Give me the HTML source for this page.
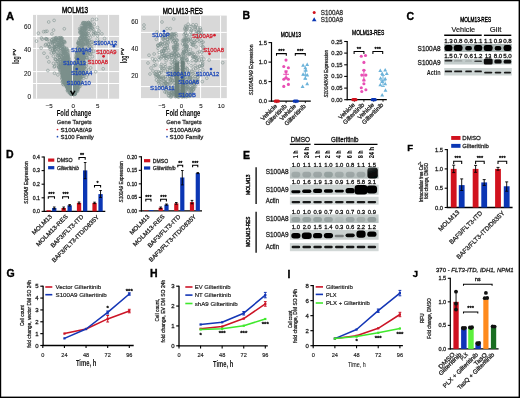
<!DOCTYPE html>
<html><head><meta charset="utf-8"><style>
html,body{margin:0;padding:0;background:#fff;}
body{width:520px;height:398px;overflow:hidden;}
svg{display:block;font-family:"Liberation Sans",sans-serif;will-change:transform;}
</style></head><body>
<svg width="520" height="398" viewBox="0 0 520 398">
<rect width="520" height="398" fill="#fff"/>
<rect x="0.00" y="0.00" width="520.00" height="1.20" fill="#000" />
<rect x="0.00" y="0.00" width="1.20" height="398.00" fill="#000" />
<rect x="518.60" y="0.00" width="1.40" height="398.00" fill="#000" />
<rect x="0.00" y="396.60" width="520.00" height="1.40" fill="#000" />
<text x="6.00" y="19.70" stroke="#000" stroke-width="0.35" font-size="11.20" font-weight="bold" >A</text>
<text x="242.40" y="19.40" stroke="#000" stroke-width="0.35" font-size="10.50" font-weight="bold" >B</text>
<text x="406.60" y="20.10" stroke="#000" stroke-width="0.35" font-size="10.50" font-weight="bold" >C</text>
<text x="6.10" y="158.20" stroke="#000" stroke-width="0.35" font-size="10.50" font-weight="bold" >D</text>
<text x="243.00" y="158.60" stroke="#000" stroke-width="0.35" font-size="10.50" font-weight="bold" >E</text>
<text x="407.20" y="151.30" stroke="#000" stroke-width="0.35" font-size="9.50" font-weight="bold" >F</text>
<text x="6.50" y="277.40" stroke="#000" stroke-width="0.35" font-size="10.50" font-weight="bold" >G</text>
<text x="150.00" y="276.70" stroke="#000" stroke-width="0.35" font-size="10.50" font-weight="bold" >H</text>
<text x="287.60" y="277.50" stroke="#000" stroke-width="0.35" font-size="10.50" font-weight="bold" >I</text>
<text x="412.80" y="277.30" stroke="#000" stroke-width="0.35" font-size="9.50" font-weight="bold" >J</text>
<rect x="33.00" y="14.90" width="86.10" height="83.80" fill="#d8d8d8" />
<line x1="36.60" y1="14.90" x2="36.60" y2="98.70" stroke="#fff" stroke-width="1.00" />
<line x1="72.70" y1="14.90" x2="72.70" y2="98.70" stroke="#fff" stroke-width="1.00" />
<line x1="96.70" y1="14.90" x2="96.70" y2="98.70" stroke="#fff" stroke-width="1.00" />
<line x1="108.60" y1="14.90" x2="108.60" y2="98.70" stroke="#fff" stroke-width="1.00" />
<line x1="33.00" y1="36.40" x2="119.10" y2="36.40" stroke="#fff" stroke-width="1.00" />
<line x1="33.00" y1="48.40" x2="119.10" y2="48.40" stroke="#fff" stroke-width="1.00" />
<line x1="33.00" y1="71.60" x2="119.10" y2="71.60" stroke="#fff" stroke-width="1.00" />
<line x1="33.00" y1="83.50" x2="119.10" y2="83.50" stroke="#fff" stroke-width="1.00" />
<path d="M72.4,95 L68.5,92 L64.0,85 L61.5,77 L60.5,68 L61.5,60 L64,56 L68.5,57 L71.2,62 L72.3,76 Z" fill="#6c807c" fill-opacity="0.8"/>
<path d="M73.2,95 L76.4,91.5 L79.5,86 L82.0,78 L84.0,68 L85.5,58 L84,52 L80,50 L76.5,53 L74.5,62 L73.3,76 Z" fill="#6c807c" fill-opacity="0.8"/>
<g fill="none" stroke="#7a8f8c" stroke-width="0.55" stroke-opacity="1.00"><circle cx="71.7" cy="89.4" r="1.40"/><circle cx="75.3" cy="78.4" r="1.40"/><circle cx="65.0" cy="70.7" r="1.40"/><circle cx="63.0" cy="49.8" r="1.40"/><circle cx="84.6" cy="27.9" r="1.40"/><circle cx="75.4" cy="76.3" r="1.40"/><circle cx="73.9" cy="83.1" r="1.40"/><circle cx="71.0" cy="90.8" r="1.40"/><circle cx="59.0" cy="66.1" r="1.40"/><circle cx="75.4" cy="77.9" r="1.40"/><circle cx="76.7" cy="74.2" r="1.40"/><circle cx="66.7" cy="82.4" r="1.40"/><circle cx="77.0" cy="52.2" r="1.40"/><circle cx="89.4" cy="35.4" r="1.40"/><circle cx="75.4" cy="83.2" r="1.40"/><circle cx="68.1" cy="54.6" r="1.40"/><circle cx="62.7" cy="71.8" r="1.40"/><circle cx="77.5" cy="63.1" r="1.40"/><circle cx="75.5" cy="81.6" r="1.40"/><circle cx="81.1" cy="72.1" r="1.40"/><circle cx="91.8" cy="28.2" r="1.40"/><circle cx="67.7" cy="58.3" r="1.40"/><circle cx="85.2" cy="23.0" r="1.40"/><circle cx="64.5" cy="60.5" r="1.40"/><circle cx="70.2" cy="73.4" r="1.40"/><circle cx="64.8" cy="53.8" r="1.40"/><circle cx="66.0" cy="85.0" r="1.40"/><circle cx="64.3" cy="74.2" r="1.40"/><circle cx="85.9" cy="34.5" r="1.40"/><circle cx="62.0" cy="76.1" r="1.40"/><circle cx="60.9" cy="45.7" r="1.40"/><circle cx="71.5" cy="85.8" r="1.40"/><circle cx="67.5" cy="72.1" r="1.40"/><circle cx="69.5" cy="75.9" r="1.40"/><circle cx="61.1" cy="67.1" r="1.40"/><circle cx="78.7" cy="59.4" r="1.40"/><circle cx="74.5" cy="93.4" r="1.40"/><circle cx="86.0" cy="43.0" r="1.40"/><circle cx="65.9" cy="77.0" r="1.40"/><circle cx="71.2" cy="92.6" r="1.40"/><circle cx="71.6" cy="89.4" r="1.40"/><circle cx="62.0" cy="79.0" r="1.40"/><circle cx="74.0" cy="90.2" r="1.40"/><circle cx="70.3" cy="79.9" r="1.40"/><circle cx="85.4" cy="23.0" r="1.40"/><circle cx="76.5" cy="70.1" r="1.40"/><circle cx="71.1" cy="84.2" r="1.40"/><circle cx="78.0" cy="89.6" r="1.40"/><circle cx="74.1" cy="90.3" r="1.40"/><circle cx="75.2" cy="94.0" r="1.40"/><circle cx="80.2" cy="52.5" r="1.40"/><circle cx="67.6" cy="78.8" r="1.40"/><circle cx="89.4" cy="44.8" r="1.40"/><circle cx="68.3" cy="86.2" r="1.40"/><circle cx="99.1" cy="42.2" r="1.40"/><circle cx="78.6" cy="48.5" r="1.40"/><circle cx="71.3" cy="93.7" r="1.40"/><circle cx="71.6" cy="83.4" r="1.40"/><circle cx="82.4" cy="72.8" r="1.40"/><circle cx="88.8" cy="23.6" r="1.40"/><circle cx="71.2" cy="86.0" r="1.40"/><circle cx="67.3" cy="87.1" r="1.40"/><circle cx="83.0" cy="70.4" r="1.40"/><circle cx="87.9" cy="42.8" r="1.40"/><circle cx="83.6" cy="44.5" r="1.40"/><circle cx="78.6" cy="70.5" r="1.40"/><circle cx="54.2" cy="51.6" r="1.40"/><circle cx="83.3" cy="76.4" r="1.40"/><circle cx="76.2" cy="89.3" r="1.40"/><circle cx="68.7" cy="89.4" r="1.40"/><circle cx="58.5" cy="49.8" r="1.40"/><circle cx="81.5" cy="55.9" r="1.40"/><circle cx="71.6" cy="94.1" r="1.40"/><circle cx="92.4" cy="56.6" r="1.40"/><circle cx="62.8" cy="46.6" r="1.40"/><circle cx="73.6" cy="87.3" r="1.40"/><circle cx="65.1" cy="65.8" r="1.40"/><circle cx="63.6" cy="75.9" r="1.40"/><circle cx="62.3" cy="73.6" r="1.40"/><circle cx="95.1" cy="32.4" r="1.40"/><circle cx="81.4" cy="66.4" r="1.40"/><circle cx="73.7" cy="94.1" r="1.40"/><circle cx="65.9" cy="51.7" r="1.40"/><circle cx="70.4" cy="72.7" r="1.40"/><circle cx="63.4" cy="70.0" r="1.40"/><circle cx="85.7" cy="44.3" r="1.40"/><circle cx="68.7" cy="83.6" r="1.40"/><circle cx="83.9" cy="68.3" r="1.40"/><circle cx="77.5" cy="73.1" r="1.40"/><circle cx="83.7" cy="68.4" r="1.40"/><circle cx="70.6" cy="69.1" r="1.40"/><circle cx="85.5" cy="28.5" r="1.40"/><circle cx="79.7" cy="84.8" r="1.40"/><circle cx="82.9" cy="28.3" r="1.40"/><circle cx="69.1" cy="74.6" r="1.40"/><circle cx="67.1" cy="85.4" r="1.40"/><circle cx="84.7" cy="33.1" r="1.40"/><circle cx="67.0" cy="57.4" r="1.40"/><circle cx="85.1" cy="25.8" r="1.40"/><circle cx="55.2" cy="40.8" r="1.40"/><circle cx="83.9" cy="39.6" r="1.40"/><circle cx="66.7" cy="75.2" r="1.40"/><circle cx="71.5" cy="81.4" r="1.40"/><circle cx="74.0" cy="94.1" r="1.40"/><circle cx="70.2" cy="80.7" r="1.40"/><circle cx="90.7" cy="67.9" r="1.40"/><circle cx="90.0" cy="25.3" r="1.40"/><circle cx="65.3" cy="84.1" r="1.40"/><circle cx="71.4" cy="90.3" r="1.40"/><circle cx="62.2" cy="43.8" r="1.40"/><circle cx="58.4" cy="43.2" r="1.40"/><circle cx="78.8" cy="52.1" r="1.40"/><circle cx="75.0" cy="74.3" r="1.40"/><circle cx="53.1" cy="41.8" r="1.40"/><circle cx="54.6" cy="47.7" r="1.40"/><circle cx="58.6" cy="47.3" r="1.40"/><circle cx="82.0" cy="30.1" r="1.40"/><circle cx="70.8" cy="90.3" r="1.40"/><circle cx="71.1" cy="87.2" r="1.40"/><circle cx="76.4" cy="83.1" r="1.40"/><circle cx="73.7" cy="88.9" r="1.40"/><circle cx="77.6" cy="64.8" r="1.40"/><circle cx="74.7" cy="91.8" r="1.40"/><circle cx="83.9" cy="73.8" r="1.40"/><circle cx="71.2" cy="70.7" r="1.40"/><circle cx="89.6" cy="24.2" r="1.40"/><circle cx="87.0" cy="57.8" r="1.40"/><circle cx="69.5" cy="79.9" r="1.40"/><circle cx="67.5" cy="55.7" r="1.40"/><circle cx="68.0" cy="88.9" r="1.40"/><circle cx="83.3" cy="54.8" r="1.40"/><circle cx="70.9" cy="85.3" r="1.40"/><circle cx="65.6" cy="74.4" r="1.40"/><circle cx="51.8" cy="40.1" r="1.40"/><circle cx="61.8" cy="39.8" r="1.40"/><circle cx="67.1" cy="79.4" r="1.40"/><circle cx="74.4" cy="68.6" r="1.40"/><circle cx="66.6" cy="70.9" r="1.40"/><circle cx="71.6" cy="77.0" r="1.40"/><circle cx="78.9" cy="66.6" r="1.40"/><circle cx="79.2" cy="55.9" r="1.40"/><circle cx="62.8" cy="81.0" r="1.40"/><circle cx="73.9" cy="90.1" r="1.40"/><circle cx="54.7" cy="49.2" r="1.40"/><circle cx="77.0" cy="58.5" r="1.40"/><circle cx="59.7" cy="69.7" r="1.40"/><circle cx="83.5" cy="39.4" r="1.40"/><circle cx="93.3" cy="33.6" r="1.40"/><circle cx="76.8" cy="52.7" r="1.40"/><circle cx="70.6" cy="79.2" r="1.40"/><circle cx="55.6" cy="49.2" r="1.40"/><circle cx="80.1" cy="53.9" r="1.40"/><circle cx="73.6" cy="94.3" r="1.40"/><circle cx="84.7" cy="66.1" r="1.40"/><circle cx="73.4" cy="93.1" r="1.40"/><circle cx="69.0" cy="84.1" r="1.40"/><circle cx="74.0" cy="87.6" r="1.40"/><circle cx="86.3" cy="77.3" r="1.40"/><circle cx="77.5" cy="53.6" r="1.40"/><circle cx="74.8" cy="92.7" r="1.40"/><circle cx="73.8" cy="94.2" r="1.40"/><circle cx="69.1" cy="84.0" r="1.40"/><circle cx="78.4" cy="83.0" r="1.40"/><circle cx="76.9" cy="71.5" r="1.40"/><circle cx="73.8" cy="87.9" r="1.40"/><circle cx="88.9" cy="29.1" r="1.40"/><circle cx="82.6" cy="25.7" r="1.40"/><circle cx="69.6" cy="84.0" r="1.40"/><circle cx="54.8" cy="66.1" r="1.40"/><circle cx="68.1" cy="69.7" r="1.40"/><circle cx="75.4" cy="68.2" r="1.40"/><circle cx="78.6" cy="51.8" r="1.40"/><circle cx="74.7" cy="94.0" r="1.40"/><circle cx="66.6" cy="71.6" r="1.40"/><circle cx="70.7" cy="80.1" r="1.40"/><circle cx="52.3" cy="48.8" r="1.40"/><circle cx="73.4" cy="91.3" r="1.40"/><circle cx="81.9" cy="51.0" r="1.40"/><circle cx="69.3" cy="77.4" r="1.40"/><circle cx="79.9" cy="61.7" r="1.40"/><circle cx="71.5" cy="93.2" r="1.40"/><circle cx="62.6" cy="49.2" r="1.40"/><circle cx="62.9" cy="84.1" r="1.40"/><circle cx="77.4" cy="88.3" r="1.40"/><circle cx="92.2" cy="41.6" r="1.40"/><circle cx="89.0" cy="31.4" r="1.40"/><circle cx="73.7" cy="93.5" r="1.40"/><circle cx="74.2" cy="72.5" r="1.40"/><circle cx="70.8" cy="93.2" r="1.40"/><circle cx="74.8" cy="91.0" r="1.40"/><circle cx="67.7" cy="55.8" r="1.40"/><circle cx="75.1" cy="84.7" r="1.40"/><circle cx="77.3" cy="76.5" r="1.40"/><circle cx="70.8" cy="89.0" r="1.40"/><circle cx="79.0" cy="86.9" r="1.40"/><circle cx="86.4" cy="22.7" r="1.40"/><circle cx="85.4" cy="34.1" r="1.40"/><circle cx="79.2" cy="75.2" r="1.40"/><circle cx="69.0" cy="80.4" r="1.40"/><circle cx="69.9" cy="83.5" r="1.40"/><circle cx="76.5" cy="58.3" r="1.40"/><circle cx="73.8" cy="87.1" r="1.40"/><circle cx="67.4" cy="74.4" r="1.40"/><circle cx="79.9" cy="38.0" r="1.40"/><circle cx="68.3" cy="57.8" r="1.40"/><circle cx="74.3" cy="70.9" r="1.40"/><circle cx="64.8" cy="42.7" r="1.40"/><circle cx="84.7" cy="37.3" r="1.40"/><circle cx="87.3" cy="53.7" r="1.40"/><circle cx="82.0" cy="46.1" r="1.40"/><circle cx="59.9" cy="68.0" r="1.40"/><circle cx="61.0" cy="43.2" r="1.40"/><circle cx="75.7" cy="82.2" r="1.40"/><circle cx="80.7" cy="52.3" r="1.40"/><circle cx="70.6" cy="92.5" r="1.40"/><circle cx="71.4" cy="86.2" r="1.40"/><circle cx="73.5" cy="94.2" r="1.40"/><circle cx="83.5" cy="57.0" r="1.40"/><circle cx="74.6" cy="70.7" r="1.40"/><circle cx="82.3" cy="51.7" r="1.40"/><circle cx="71.1" cy="93.9" r="1.40"/><circle cx="80.3" cy="30.2" r="1.40"/><circle cx="70.3" cy="75.8" r="1.40"/><circle cx="74.6" cy="88.0" r="1.40"/><circle cx="77.3" cy="87.6" r="1.40"/><circle cx="74.9" cy="81.8" r="1.40"/><circle cx="63.2" cy="54.4" r="1.40"/><circle cx="58.0" cy="40.8" r="1.40"/><circle cx="71.6" cy="76.0" r="1.40"/><circle cx="85.5" cy="27.8" r="1.40"/><circle cx="55.9" cy="39.2" r="1.40"/><circle cx="71.3" cy="93.1" r="1.40"/><circle cx="82.2" cy="34.5" r="1.40"/><circle cx="88.4" cy="22.6" r="1.40"/><circle cx="61.1" cy="42.0" r="1.40"/><circle cx="73.7" cy="93.9" r="1.40"/><circle cx="68.0" cy="80.7" r="1.40"/><circle cx="74.7" cy="91.2" r="1.40"/><circle cx="76.3" cy="87.5" r="1.40"/><circle cx="81.7" cy="73.8" r="1.40"/><circle cx="62.2" cy="72.7" r="1.40"/><circle cx="63.9" cy="79.0" r="1.40"/><circle cx="74.4" cy="93.9" r="1.40"/><circle cx="74.1" cy="93.7" r="1.40"/><circle cx="71.5" cy="92.7" r="1.40"/><circle cx="82.5" cy="33.0" r="1.40"/><circle cx="66.6" cy="83.8" r="1.40"/><circle cx="66.4" cy="57.3" r="1.40"/><circle cx="65.1" cy="83.6" r="1.40"/><circle cx="76.1" cy="58.0" r="1.40"/><circle cx="73.4" cy="94.0" r="1.40"/><circle cx="89.5" cy="27.2" r="1.40"/><circle cx="68.0" cy="84.8" r="1.40"/><circle cx="74.6" cy="88.7" r="1.40"/><circle cx="83.0" cy="48.6" r="1.40"/><circle cx="79.8" cy="80.8" r="1.40"/><circle cx="71.4" cy="79.1" r="1.40"/><circle cx="65.5" cy="54.9" r="1.40"/><circle cx="70.8" cy="92.7" r="1.40"/><circle cx="60.9" cy="38.8" r="1.40"/><circle cx="82.8" cy="23.6" r="1.40"/><circle cx="68.9" cy="71.2" r="1.40"/><circle cx="74.7" cy="72.8" r="1.40"/><circle cx="83.8" cy="54.5" r="1.40"/><circle cx="80.8" cy="38.2" r="1.40"/><circle cx="75.3" cy="82.8" r="1.40"/><circle cx="74.1" cy="77.9" r="1.40"/><circle cx="69.5" cy="85.1" r="1.40"/><circle cx="58.8" cy="45.7" r="1.40"/><circle cx="59.1" cy="37.9" r="1.40"/><circle cx="75.0" cy="86.3" r="1.40"/><circle cx="75.1" cy="91.9" r="1.40"/><circle cx="87.7" cy="40.9" r="1.40"/><circle cx="64.0" cy="82.7" r="1.40"/><circle cx="68.3" cy="87.7" r="1.40"/><circle cx="74.9" cy="77.9" r="1.40"/><circle cx="74.7" cy="72.6" r="1.40"/><circle cx="75.6" cy="91.8" r="1.40"/><circle cx="77.0" cy="59.2" r="1.40"/><circle cx="69.2" cy="87.1" r="1.40"/><circle cx="68.0" cy="65.0" r="1.40"/><circle cx="69.4" cy="81.0" r="1.40"/><circle cx="74.1" cy="88.6" r="1.40"/><circle cx="78.8" cy="65.1" r="1.40"/><circle cx="70.6" cy="91.4" r="1.40"/><circle cx="74.2" cy="92.3" r="1.40"/><circle cx="64.3" cy="58.8" r="1.40"/><circle cx="60.0" cy="40.7" r="1.40"/><circle cx="66.7" cy="67.1" r="1.40"/><circle cx="88.4" cy="22.7" r="1.40"/><circle cx="59.3" cy="44.5" r="1.40"/><circle cx="52.5" cy="50.2" r="1.40"/><circle cx="75.6" cy="89.6" r="1.40"/><circle cx="61.9" cy="68.0" r="1.40"/><circle cx="58.3" cy="63.5" r="1.40"/><circle cx="68.4" cy="70.9" r="1.40"/><circle cx="85.1" cy="30.2" r="1.40"/><circle cx="66.1" cy="71.7" r="1.40"/><circle cx="67.3" cy="90.4" r="1.40"/><circle cx="84.4" cy="24.9" r="1.40"/><circle cx="74.1" cy="76.9" r="1.40"/><circle cx="77.5" cy="59.1" r="1.40"/><circle cx="75.0" cy="86.8" r="1.40"/><circle cx="64.2" cy="48.4" r="1.40"/><circle cx="68.8" cy="77.0" r="1.40"/><circle cx="76.4" cy="77.2" r="1.40"/><circle cx="83.7" cy="33.1" r="1.40"/><circle cx="71.0" cy="67.3" r="1.40"/><circle cx="73.8" cy="91.4" r="1.40"/><circle cx="78.7" cy="64.9" r="1.40"/><circle cx="66.7" cy="66.1" r="1.40"/><circle cx="62.6" cy="61.2" r="1.40"/><circle cx="68.0" cy="63.8" r="1.40"/><circle cx="74.0" cy="86.1" r="1.40"/><circle cx="67.4" cy="88.2" r="1.40"/><circle cx="74.3" cy="91.8" r="1.40"/><circle cx="67.3" cy="74.6" r="1.40"/><circle cx="73.5" cy="93.7" r="1.40"/><circle cx="80.2" cy="44.9" r="1.40"/><circle cx="74.2" cy="93.4" r="1.40"/><circle cx="73.5" cy="90.7" r="1.40"/><circle cx="84.3" cy="22.7" r="1.40"/><circle cx="45.8" cy="38.7" r="1.40"/><circle cx="85.1" cy="26.9" r="1.40"/><circle cx="82.5" cy="29.7" r="1.40"/><circle cx="75.6" cy="83.9" r="1.40"/><circle cx="77.1" cy="90.4" r="1.40"/><circle cx="76.1" cy="81.3" r="1.40"/><circle cx="63.3" cy="42.0" r="1.40"/><circle cx="86.2" cy="33.3" r="1.40"/><circle cx="61.4" cy="69.3" r="1.40"/><circle cx="77.7" cy="78.8" r="1.40"/><circle cx="86.5" cy="34.6" r="1.40"/><circle cx="56.6" cy="37.8" r="1.40"/><circle cx="76.0" cy="84.5" r="1.40"/><circle cx="82.4" cy="62.7" r="1.40"/><circle cx="68.6" cy="88.3" r="1.40"/><circle cx="73.6" cy="93.5" r="1.40"/><circle cx="87.2" cy="24.0" r="1.40"/><circle cx="76.4" cy="55.4" r="1.40"/><circle cx="85.1" cy="73.8" r="1.40"/><circle cx="71.5" cy="86.0" r="1.40"/><circle cx="73.9" cy="94.1" r="1.40"/><circle cx="66.9" cy="66.0" r="1.40"/><circle cx="76.2" cy="70.7" r="1.40"/><circle cx="64.5" cy="42.0" r="1.40"/><circle cx="66.2" cy="62.5" r="1.40"/><circle cx="82.8" cy="44.5" r="1.40"/><circle cx="67.0" cy="62.1" r="1.40"/><circle cx="76.6" cy="79.4" r="1.40"/><circle cx="83.6" cy="49.1" r="1.40"/><circle cx="54.4" cy="44.3" r="1.40"/><circle cx="70.8" cy="85.5" r="1.40"/><circle cx="57.6" cy="53.1" r="1.40"/><circle cx="73.6" cy="90.4" r="1.40"/><circle cx="60.5" cy="64.4" r="1.40"/><circle cx="73.6" cy="89.0" r="1.40"/><circle cx="63.3" cy="82.4" r="1.40"/><circle cx="81.6" cy="50.7" r="1.40"/><circle cx="66.7" cy="48.5" r="1.40"/><circle cx="80.3" cy="72.4" r="1.40"/><circle cx="66.5" cy="55.1" r="1.40"/><circle cx="80.2" cy="38.3" r="1.40"/><circle cx="78.1" cy="73.6" r="1.40"/><circle cx="75.4" cy="67.0" r="1.40"/><circle cx="77.2" cy="87.0" r="1.40"/><circle cx="73.3" cy="94.2" r="1.40"/><circle cx="86.3" cy="28.2" r="1.40"/><circle cx="76.3" cy="80.8" r="1.40"/><circle cx="59.7" cy="44.1" r="1.40"/><circle cx="87.0" cy="52.8" r="1.40"/><circle cx="97.4" cy="38.9" r="1.40"/><circle cx="90.5" cy="37.1" r="1.40"/><circle cx="76.0" cy="82.0" r="1.40"/><circle cx="56.5" cy="63.5" r="1.40"/><circle cx="71.5" cy="93.8" r="1.40"/><circle cx="61.9" cy="42.5" r="1.40"/><circle cx="79.6" cy="58.0" r="1.40"/><circle cx="60.1" cy="65.6" r="1.40"/><circle cx="59.8" cy="50.4" r="1.40"/><circle cx="49.0" cy="46.9" r="1.40"/><circle cx="84.7" cy="28.2" r="1.40"/><circle cx="87.9" cy="41.6" r="1.40"/><circle cx="78.5" cy="83.2" r="1.40"/><circle cx="68.0" cy="75.6" r="1.40"/><circle cx="70.8" cy="84.6" r="1.40"/><circle cx="64.9" cy="81.3" r="1.40"/><circle cx="79.4" cy="68.6" r="1.40"/><circle cx="65.7" cy="76.2" r="1.40"/><circle cx="60.9" cy="53.5" r="1.40"/><circle cx="76.8" cy="87.0" r="1.40"/><circle cx="73.7" cy="92.3" r="1.40"/><circle cx="70.4" cy="87.2" r="1.40"/><circle cx="90.3" cy="24.7" r="1.40"/><circle cx="78.3" cy="43.1" r="1.40"/><circle cx="64.8" cy="71.5" r="1.40"/><circle cx="49.4" cy="41.4" r="1.40"/><circle cx="70.9" cy="86.6" r="1.40"/><circle cx="62.2" cy="62.6" r="1.40"/><circle cx="63.3" cy="52.5" r="1.40"/><circle cx="80.9" cy="79.0" r="1.40"/><circle cx="70.1" cy="77.3" r="1.40"/><circle cx="73.5" cy="94.0" r="1.40"/><circle cx="68.2" cy="84.2" r="1.40"/><circle cx="59.7" cy="45.7" r="1.40"/><circle cx="62.0" cy="73.5" r="1.40"/><circle cx="78.3" cy="56.9" r="1.40"/><circle cx="67.0" cy="81.0" r="1.40"/><circle cx="89.4" cy="48.3" r="1.40"/><circle cx="70.6" cy="74.8" r="1.40"/><circle cx="64.0" cy="73.4" r="1.40"/><circle cx="74.5" cy="85.9" r="1.40"/><circle cx="84.9" cy="38.5" r="1.40"/><circle cx="75.1" cy="89.7" r="1.40"/><circle cx="67.5" cy="87.8" r="1.40"/><circle cx="61.5" cy="40.1" r="1.40"/><circle cx="62.8" cy="77.9" r="1.40"/><circle cx="75.0" cy="73.6" r="1.40"/><circle cx="66.5" cy="62.5" r="1.40"/><circle cx="64.6" cy="52.3" r="1.40"/><circle cx="80.4" cy="71.6" r="1.40"/><circle cx="61.1" cy="64.7" r="1.40"/><circle cx="78.9" cy="74.0" r="1.40"/><circle cx="82.2" cy="47.6" r="1.40"/><circle cx="82.0" cy="34.9" r="1.40"/><circle cx="83.4" cy="52.1" r="1.40"/><circle cx="80.8" cy="72.3" r="1.40"/><circle cx="64.3" cy="63.1" r="1.40"/><circle cx="81.3" cy="50.9" r="1.40"/><circle cx="76.6" cy="85.3" r="1.40"/><circle cx="76.5" cy="75.4" r="1.40"/><circle cx="84.8" cy="29.7" r="1.40"/><circle cx="80.1" cy="76.9" r="1.40"/><circle cx="90.6" cy="25.0" r="1.40"/><circle cx="65.7" cy="52.9" r="1.40"/><circle cx="81.0" cy="67.4" r="1.40"/><circle cx="82.7" cy="50.6" r="1.40"/><circle cx="80.0" cy="57.5" r="1.40"/><circle cx="54.0" cy="41.1" r="1.40"/><circle cx="59.7" cy="59.5" r="1.40"/><circle cx="53.2" cy="38.4" r="1.40"/><circle cx="66.3" cy="75.9" r="1.40"/><circle cx="66.0" cy="58.6" r="1.40"/><circle cx="63.8" cy="55.7" r="1.40"/><circle cx="76.8" cy="66.7" r="1.40"/><circle cx="66.3" cy="86.7" r="1.40"/><circle cx="64.0" cy="53.3" r="1.40"/><circle cx="83.6" cy="64.0" r="1.40"/><circle cx="55.5" cy="40.0" r="1.40"/><circle cx="87.2" cy="41.2" r="1.40"/><circle cx="75.5" cy="82.8" r="1.40"/><circle cx="74.5" cy="79.1" r="1.40"/><circle cx="75.4" cy="84.3" r="1.40"/><circle cx="70.6" cy="87.9" r="1.40"/><circle cx="68.1" cy="57.0" r="1.40"/><circle cx="67.1" cy="72.4" r="1.40"/><circle cx="66.6" cy="62.6" r="1.40"/><circle cx="85.1" cy="37.4" r="1.40"/><circle cx="54.6" cy="49.7" r="1.40"/><circle cx="58.7" cy="49.5" r="1.40"/><circle cx="74.9" cy="94.2" r="1.40"/><circle cx="74.2" cy="85.3" r="1.40"/><circle cx="68.1" cy="89.3" r="1.40"/><circle cx="86.0" cy="43.6" r="1.40"/><circle cx="92.0" cy="44.6" r="1.40"/><circle cx="83.0" cy="33.4" r="1.40"/><circle cx="55.3" cy="58.9" r="1.40"/><circle cx="91.8" cy="48.3" r="1.40"/><circle cx="76.1" cy="84.5" r="1.40"/><circle cx="71.5" cy="89.9" r="1.40"/><circle cx="73.5" cy="90.3" r="1.40"/><circle cx="85.9" cy="69.0" r="1.40"/><circle cx="62.7" cy="48.8" r="1.40"/><circle cx="81.4" cy="63.9" r="1.40"/><circle cx="62.8" cy="75.9" r="1.40"/><circle cx="74.3" cy="92.8" r="1.40"/><circle cx="63.0" cy="64.3" r="1.40"/><circle cx="90.9" cy="29.6" r="1.40"/><circle cx="88.7" cy="70.0" r="1.40"/><circle cx="73.5" cy="93.9" r="1.40"/><circle cx="54.1" cy="47.3" r="1.40"/><circle cx="61.4" cy="72.7" r="1.40"/><circle cx="70.1" cy="75.0" r="1.40"/><circle cx="68.6" cy="67.8" r="1.40"/><circle cx="77.6" cy="75.8" r="1.40"/><circle cx="82.5" cy="84.1" r="1.40"/><circle cx="78.8" cy="43.6" r="1.40"/><circle cx="70.1" cy="81.5" r="1.40"/><circle cx="87.7" cy="44.3" r="1.40"/><circle cx="61.7" cy="56.9" r="1.40"/><circle cx="68.4" cy="82.4" r="1.40"/><circle cx="68.6" cy="87.7" r="1.40"/><circle cx="83.0" cy="43.8" r="1.40"/><circle cx="82.8" cy="59.9" r="1.40"/><circle cx="81.8" cy="61.1" r="1.40"/><circle cx="74.9" cy="87.2" r="1.40"/><circle cx="74.6" cy="92.0" r="1.40"/><circle cx="83.5" cy="78.2" r="1.40"/><circle cx="83.4" cy="44.1" r="1.40"/><circle cx="70.1" cy="75.7" r="1.40"/><circle cx="63.6" cy="75.2" r="1.40"/><circle cx="58.7" cy="67.0" r="1.40"/><circle cx="71.3" cy="90.7" r="1.40"/><circle cx="80.7" cy="72.8" r="1.40"/><circle cx="61.7" cy="77.7" r="1.40"/><circle cx="81.6" cy="70.7" r="1.40"/><circle cx="71.6" cy="91.4" r="1.40"/><circle cx="55.4" cy="59.5" r="1.40"/><circle cx="49.9" cy="46.8" r="1.40"/><circle cx="75.1" cy="88.5" r="1.40"/><circle cx="64.6" cy="53.4" r="1.40"/><circle cx="75.4" cy="92.5" r="1.40"/><circle cx="93.5" cy="51.3" r="1.40"/><circle cx="58.3" cy="39.9" r="1.40"/><circle cx="74.2" cy="94.2" r="1.40"/><circle cx="73.5" cy="92.7" r="1.40"/><circle cx="61.1" cy="56.5" r="1.40"/><circle cx="74.8" cy="93.2" r="1.40"/><circle cx="61.4" cy="66.5" r="1.40"/><circle cx="63.1" cy="51.8" r="1.40"/><circle cx="65.0" cy="62.1" r="1.40"/><circle cx="61.7" cy="52.6" r="1.40"/><circle cx="83.8" cy="44.3" r="1.40"/><circle cx="60.4" cy="39.2" r="1.40"/><circle cx="83.7" cy="40.1" r="1.40"/><circle cx="87.8" cy="39.7" r="1.40"/><circle cx="80.7" cy="82.0" r="1.40"/><circle cx="62.9" cy="59.5" r="1.40"/><circle cx="81.8" cy="33.2" r="1.40"/><circle cx="69.0" cy="84.3" r="1.40"/><circle cx="65.0" cy="65.8" r="1.40"/><circle cx="50.3" cy="49.3" r="1.40"/><circle cx="84.7" cy="36.2" r="1.40"/><circle cx="80.9" cy="42.1" r="1.40"/><circle cx="81.7" cy="31.4" r="1.40"/><circle cx="80.7" cy="43.0" r="1.40"/><circle cx="63.3" cy="55.1" r="1.40"/><circle cx="78.6" cy="54.1" r="1.40"/><circle cx="73.7" cy="87.5" r="1.40"/><circle cx="83.5" cy="71.9" r="1.40"/><circle cx="66.9" cy="51.2" r="1.40"/><circle cx="85.2" cy="33.1" r="1.40"/><circle cx="82.7" cy="67.2" r="1.40"/><circle cx="71.6" cy="87.6" r="1.40"/><circle cx="63.0" cy="58.4" r="1.40"/><circle cx="65.2" cy="70.1" r="1.40"/><circle cx="71.4" cy="93.3" r="1.40"/><circle cx="70.3" cy="62.9" r="1.40"/><circle cx="74.8" cy="89.9" r="1.40"/><circle cx="73.7" cy="94.1" r="1.40"/><circle cx="55.9" cy="38.0" r="1.40"/><circle cx="76.4" cy="84.7" r="1.40"/><circle cx="82.3" cy="74.3" r="1.40"/><circle cx="85.6" cy="26.2" r="1.40"/><circle cx="71.7" cy="93.1" r="1.40"/><circle cx="97.5" cy="35.8" r="1.40"/><circle cx="73.9" cy="93.1" r="1.40"/><circle cx="82.7" cy="76.3" r="1.40"/><circle cx="59.3" cy="67.2" r="1.40"/><circle cx="84.8" cy="27.0" r="1.40"/><circle cx="70.0" cy="89.0" r="1.40"/><circle cx="83.1" cy="23.2" r="1.40"/><circle cx="70.5" cy="79.6" r="1.40"/><circle cx="80.9" cy="32.4" r="1.40"/><circle cx="78.8" cy="51.3" r="1.40"/><circle cx="86.1" cy="23.9" r="1.40"/><circle cx="82.0" cy="28.7" r="1.40"/><circle cx="78.8" cy="82.5" r="1.40"/><circle cx="67.8" cy="81.1" r="1.40"/><circle cx="71.1" cy="90.5" r="1.40"/><circle cx="73.4" cy="94.2" r="1.40"/><circle cx="58.7" cy="42.6" r="1.40"/><circle cx="51.2" cy="42.1" r="1.40"/><circle cx="62.8" cy="74.3" r="1.40"/><circle cx="57.5" cy="42.5" r="1.40"/><circle cx="66.4" cy="80.3" r="1.40"/><circle cx="76.4" cy="70.5" r="1.40"/><circle cx="82.9" cy="64.7" r="1.40"/><circle cx="63.2" cy="76.3" r="1.40"/><circle cx="70.1" cy="83.9" r="1.40"/><circle cx="66.9" cy="71.7" r="1.40"/><circle cx="45.9" cy="44.4" r="1.40"/><circle cx="48.7" cy="45.0" r="1.40"/><circle cx="75.6" cy="87.3" r="1.40"/><circle cx="41.5" cy="38.0" r="1.40"/><circle cx="73.4" cy="93.3" r="1.40"/><circle cx="73.8" cy="94.2" r="1.40"/><circle cx="74.0" cy="80.0" r="1.40"/><circle cx="74.9" cy="66.8" r="1.40"/><circle cx="68.3" cy="75.0" r="1.40"/><circle cx="74.0" cy="90.6" r="1.40"/><circle cx="67.1" cy="53.7" r="1.40"/><circle cx="71.3" cy="91.9" r="1.40"/><circle cx="74.9" cy="69.2" r="1.40"/><circle cx="81.8" cy="51.4" r="1.40"/><circle cx="75.9" cy="62.3" r="1.40"/><circle cx="75.7" cy="75.5" r="1.40"/><circle cx="73.6" cy="93.4" r="1.40"/><circle cx="85.6" cy="36.4" r="1.40"/><circle cx="73.9" cy="94.2" r="1.40"/><circle cx="75.6" cy="84.4" r="1.40"/><circle cx="63.8" cy="49.4" r="1.40"/><circle cx="67.7" cy="65.3" r="1.40"/><circle cx="64.2" cy="70.0" r="1.40"/><circle cx="66.2" cy="57.5" r="1.40"/><circle cx="84.4" cy="36.3" r="1.40"/><circle cx="57.1" cy="55.0" r="1.40"/><circle cx="56.0" cy="46.5" r="1.40"/><circle cx="76.7" cy="66.5" r="1.40"/><circle cx="73.8" cy="94.1" r="1.40"/><circle cx="63.8" cy="50.5" r="1.40"/><circle cx="73.7" cy="88.1" r="1.40"/><circle cx="63.1" cy="65.0" r="1.40"/><circle cx="74.1" cy="91.9" r="1.40"/><circle cx="80.6" cy="50.6" r="1.40"/><circle cx="75.2" cy="68.8" r="1.40"/><circle cx="71.4" cy="90.6" r="1.40"/><circle cx="81.4" cy="36.8" r="1.40"/><circle cx="70.9" cy="66.7" r="1.40"/><circle cx="85.0" cy="28.9" r="1.40"/><circle cx="68.2" cy="75.8" r="1.40"/><circle cx="54.5" cy="41.6" r="1.40"/><circle cx="74.0" cy="80.1" r="1.40"/><circle cx="54.8" cy="38.7" r="1.40"/><circle cx="85.8" cy="31.5" r="1.40"/><circle cx="60.1" cy="70.1" r="1.40"/><circle cx="80.3" cy="29.3" r="1.40"/><circle cx="78.4" cy="78.5" r="1.40"/><circle cx="74.4" cy="93.0" r="1.40"/><circle cx="71.2" cy="89.9" r="1.40"/><circle cx="87.9" cy="45.0" r="1.40"/><circle cx="83.6" cy="34.4" r="1.40"/><circle cx="73.7" cy="93.8" r="1.40"/><circle cx="75.7" cy="84.0" r="1.40"/><circle cx="84.3" cy="30.3" r="1.40"/><circle cx="76.8" cy="73.7" r="1.40"/><circle cx="75.4" cy="83.2" r="1.40"/><circle cx="61.3" cy="65.3" r="1.40"/><circle cx="75.3" cy="67.8" r="1.40"/><circle cx="75.3" cy="90.2" r="1.40"/><circle cx="71.7" cy="90.2" r="1.40"/><circle cx="68.3" cy="85.2" r="1.40"/><circle cx="66.4" cy="68.3" r="1.40"/><circle cx="84.3" cy="56.5" r="1.40"/><circle cx="59.8" cy="57.8" r="1.40"/><circle cx="75.9" cy="71.2" r="1.40"/><circle cx="71.3" cy="85.3" r="1.40"/><circle cx="62.7" cy="65.9" r="1.40"/><circle cx="69.6" cy="79.6" r="1.40"/><circle cx="77.6" cy="69.5" r="1.40"/><circle cx="58.6" cy="38.2" r="1.40"/><circle cx="70.2" cy="92.6" r="1.40"/><circle cx="79.0" cy="73.3" r="1.40"/><circle cx="66.0" cy="56.1" r="1.40"/><circle cx="66.6" cy="86.1" r="1.40"/><circle cx="70.0" cy="80.4" r="1.40"/><circle cx="58.9" cy="60.1" r="1.40"/><circle cx="82.5" cy="67.5" r="1.40"/><circle cx="77.8" cy="48.2" r="1.40"/><circle cx="85.2" cy="51.4" r="1.40"/><circle cx="73.5" cy="91.0" r="1.40"/><circle cx="75.7" cy="62.0" r="1.40"/><circle cx="88.3" cy="26.3" r="1.40"/><circle cx="82.7" cy="35.6" r="1.40"/><circle cx="78.7" cy="77.5" r="1.40"/><circle cx="74.9" cy="82.9" r="1.40"/><circle cx="66.7" cy="67.8" r="1.40"/><circle cx="83.4" cy="37.9" r="1.40"/><circle cx="75.9" cy="73.0" r="1.40"/><circle cx="65.6" cy="66.5" r="1.40"/><circle cx="74.2" cy="92.4" r="1.40"/><circle cx="82.0" cy="39.1" r="1.40"/><circle cx="78.2" cy="87.7" r="1.40"/><circle cx="71.3" cy="93.2" r="1.40"/><circle cx="83.4" cy="69.0" r="1.40"/><circle cx="88.5" cy="22.5" r="1.40"/><circle cx="76.9" cy="67.5" r="1.40"/><circle cx="64.4" cy="65.3" r="1.40"/><circle cx="59.1" cy="41.1" r="1.40"/><circle cx="66.4" cy="78.4" r="1.40"/><circle cx="58.7" cy="67.4" r="1.40"/><circle cx="79.7" cy="69.9" r="1.40"/><circle cx="63.9" cy="63.4" r="1.40"/><circle cx="78.5" cy="41.2" r="1.40"/><circle cx="63.6" cy="81.4" r="1.40"/><circle cx="73.7" cy="91.7" r="1.40"/><circle cx="86.1" cy="53.0" r="1.40"/><circle cx="87.9" cy="74.6" r="1.40"/><circle cx="67.0" cy="82.9" r="1.40"/><circle cx="88.7" cy="60.6" r="1.40"/><circle cx="75.3" cy="93.7" r="1.40"/><circle cx="63.6" cy="52.5" r="1.40"/><circle cx="65.7" cy="82.2" r="1.40"/><circle cx="77.4" cy="62.0" r="1.40"/><circle cx="78.6" cy="64.7" r="1.40"/><circle cx="48.9" cy="61.9" r="1.40"/><circle cx="77.3" cy="75.3" r="1.40"/><circle cx="70.9" cy="88.6" r="1.40"/><circle cx="89.1" cy="40.5" r="1.40"/><circle cx="71.5" cy="94.1" r="1.40"/><circle cx="74.6" cy="81.1" r="1.40"/><circle cx="68.4" cy="84.1" r="1.40"/><circle cx="57.9" cy="44.3" r="1.40"/><circle cx="69.5" cy="77.8" r="1.40"/><circle cx="45.4" cy="45.3" r="1.40"/><circle cx="61.5" cy="63.7" r="1.40"/><circle cx="70.5" cy="93.3" r="1.40"/><circle cx="57.9" cy="44.7" r="1.40"/><circle cx="81.1" cy="82.3" r="1.40"/><circle cx="92.4" cy="27.7" r="1.40"/><circle cx="71.1" cy="77.6" r="1.40"/><circle cx="59.9" cy="46.4" r="1.40"/><circle cx="78.2" cy="43.5" r="1.40"/><circle cx="70.4" cy="87.9" r="1.40"/><circle cx="75.3" cy="83.0" r="1.40"/><circle cx="74.8" cy="77.1" r="1.40"/><circle cx="70.7" cy="92.7" r="1.40"/><circle cx="67.1" cy="85.1" r="1.40"/><circle cx="74.9" cy="79.9" r="1.40"/><circle cx="64.3" cy="58.1" r="1.40"/><circle cx="74.1" cy="91.0" r="1.40"/><circle cx="65.4" cy="49.1" r="1.40"/><circle cx="64.8" cy="56.9" r="1.40"/><circle cx="57.8" cy="40.4" r="1.40"/><circle cx="80.0" cy="86.5" r="1.40"/><circle cx="80.3" cy="61.9" r="1.40"/><circle cx="70.0" cy="85.1" r="1.40"/><circle cx="74.0" cy="91.2" r="1.40"/><circle cx="76.2" cy="65.5" r="1.40"/><circle cx="57.4" cy="61.3" r="1.40"/><circle cx="75.0" cy="81.8" r="1.40"/><circle cx="64.4" cy="48.1" r="1.40"/><circle cx="62.6" cy="60.9" r="1.40"/><circle cx="66.5" cy="71.1" r="1.40"/><circle cx="64.1" cy="57.3" r="1.40"/><circle cx="64.1" cy="76.8" r="1.40"/><circle cx="86.3" cy="36.7" r="1.40"/><circle cx="65.9" cy="83.6" r="1.40"/><circle cx="75.0" cy="79.3" r="1.40"/><circle cx="68.4" cy="61.2" r="1.40"/><circle cx="76.9" cy="79.3" r="1.40"/><circle cx="77.0" cy="88.7" r="1.40"/><circle cx="87.7" cy="51.0" r="1.40"/><circle cx="68.9" cy="78.1" r="1.40"/><circle cx="70.1" cy="81.8" r="1.40"/><circle cx="78.2" cy="63.3" r="1.40"/><circle cx="77.9" cy="85.0" r="1.40"/><circle cx="78.3" cy="45.0" r="1.40"/><circle cx="77.5" cy="60.2" r="1.40"/><circle cx="66.9" cy="85.2" r="1.40"/><circle cx="54.4" cy="43.6" r="1.40"/><circle cx="73.7" cy="92.5" r="1.40"/><circle cx="85.8" cy="40.0" r="1.40"/><circle cx="70.8" cy="91.8" r="1.40"/><circle cx="79.1" cy="52.9" r="1.40"/><circle cx="84.5" cy="39.9" r="1.40"/><circle cx="63.5" cy="58.6" r="1.40"/><circle cx="68.5" cy="70.4" r="1.40"/><circle cx="73.5" cy="93.6" r="1.40"/><circle cx="78.9" cy="42.2" r="1.40"/><circle cx="84.8" cy="57.7" r="1.40"/><circle cx="76.3" cy="85.3" r="1.40"/><circle cx="71.1" cy="87.2" r="1.40"/><circle cx="71.4" cy="90.0" r="1.40"/><circle cx="66.7" cy="85.3" r="1.40"/><circle cx="78.7" cy="72.9" r="1.40"/><circle cx="62.6" cy="45.7" r="1.40"/><circle cx="64.8" cy="67.3" r="1.40"/><circle cx="89.7" cy="46.5" r="1.40"/><circle cx="63.2" cy="60.7" r="1.40"/><circle cx="83.6" cy="39.7" r="1.40"/><circle cx="70.1" cy="82.9" r="1.40"/><circle cx="69.8" cy="83.4" r="1.40"/><circle cx="66.0" cy="58.3" r="1.40"/><circle cx="70.7" cy="73.0" r="1.40"/><circle cx="77.9" cy="47.5" r="1.40"/><circle cx="59.2" cy="57.3" r="1.40"/><circle cx="70.6" cy="71.8" r="1.40"/><circle cx="76.2" cy="57.0" r="1.40"/><circle cx="83.7" cy="29.2" r="1.40"/><circle cx="70.9" cy="89.9" r="1.40"/><circle cx="64.6" cy="53.4" r="1.40"/><circle cx="65.2" cy="62.5" r="1.40"/><circle cx="86.8" cy="30.1" r="1.40"/><circle cx="88.9" cy="48.3" r="1.40"/><circle cx="71.0" cy="88.0" r="1.40"/><circle cx="66.0" cy="68.0" r="1.40"/><circle cx="67.1" cy="49.5" r="1.40"/><circle cx="77.8" cy="58.4" r="1.40"/><circle cx="91.5" cy="51.6" r="1.40"/><circle cx="82.4" cy="68.9" r="1.40"/><circle cx="70.4" cy="82.4" r="1.40"/><circle cx="73.9" cy="89.5" r="1.40"/><circle cx="61.4" cy="39.5" r="1.40"/><circle cx="73.9" cy="94.3" r="1.40"/><circle cx="82.5" cy="74.3" r="1.40"/><circle cx="62.3" cy="61.0" r="1.40"/><circle cx="71.1" cy="74.8" r="1.40"/><circle cx="82.3" cy="40.2" r="1.40"/><circle cx="69.7" cy="74.5" r="1.40"/><circle cx="74.4" cy="79.5" r="1.40"/><circle cx="69.3" cy="73.5" r="1.40"/><circle cx="93.8" cy="31.9" r="1.40"/><circle cx="89.8" cy="59.2" r="1.40"/><circle cx="73.9" cy="93.2" r="1.40"/><circle cx="62.6" cy="66.8" r="1.40"/><circle cx="77.1" cy="70.3" r="1.40"/><circle cx="59.7" cy="45.7" r="1.40"/><circle cx="70.8" cy="87.8" r="1.40"/><circle cx="62.8" cy="61.1" r="1.40"/><circle cx="63.6" cy="66.2" r="1.40"/><circle cx="76.9" cy="76.3" r="1.40"/><circle cx="69.5" cy="88.1" r="1.40"/><circle cx="59.3" cy="47.3" r="1.40"/><circle cx="71.1" cy="91.6" r="1.40"/><circle cx="75.8" cy="64.6" r="1.40"/><circle cx="64.8" cy="66.7" r="1.40"/><circle cx="74.2" cy="92.7" r="1.40"/><circle cx="69.8" cy="92.4" r="1.40"/><circle cx="82.4" cy="50.8" r="1.40"/><circle cx="75.6" cy="91.5" r="1.40"/><circle cx="66.5" cy="49.5" r="1.40"/><circle cx="68.9" cy="88.6" r="1.40"/><circle cx="73.9" cy="90.7" r="1.40"/><circle cx="73.4" cy="93.3" r="1.40"/><circle cx="64.1" cy="65.3" r="1.40"/><circle cx="70.8" cy="82.4" r="1.40"/><circle cx="82.8" cy="59.1" r="1.40"/><circle cx="86.5" cy="63.9" r="1.40"/><circle cx="60.7" cy="55.4" r="1.40"/><circle cx="62.0" cy="54.2" r="1.40"/><circle cx="63.4" cy="78.5" r="1.40"/><circle cx="81.3" cy="27.8" r="1.40"/><circle cx="73.7" cy="92.0" r="1.40"/><circle cx="91.6" cy="42.5" r="1.40"/><circle cx="78.2" cy="85.1" r="1.40"/><circle cx="67.7" cy="74.3" r="1.40"/><circle cx="71.5" cy="93.9" r="1.40"/><circle cx="63.6" cy="51.6" r="1.40"/><circle cx="60.8" cy="59.3" r="1.40"/><circle cx="70.2" cy="89.7" r="1.40"/><circle cx="85.0" cy="42.0" r="1.40"/><circle cx="73.5" cy="94.2" r="1.40"/><circle cx="82.9" cy="35.6" r="1.40"/><circle cx="73.9" cy="93.8" r="1.40"/><circle cx="81.8" cy="76.6" r="1.40"/><circle cx="74.5" cy="89.8" r="1.40"/><circle cx="81.3" cy="59.9" r="1.40"/><circle cx="69.9" cy="80.9" r="1.40"/><circle cx="74.9" cy="93.6" r="1.40"/><circle cx="65.6" cy="79.1" r="1.40"/><circle cx="70.6" cy="79.5" r="1.40"/><circle cx="70.2" cy="66.3" r="1.40"/><circle cx="61.6" cy="38.3" r="1.40"/><circle cx="71.4" cy="89.6" r="1.40"/><circle cx="67.2" cy="71.2" r="1.40"/><circle cx="54.2" cy="66.9" r="1.40"/><circle cx="73.6" cy="93.8" r="1.40"/><circle cx="86.9" cy="45.6" r="1.40"/><circle cx="84.6" cy="57.9" r="1.40"/><circle cx="69.6" cy="83.3" r="1.40"/><circle cx="90.7" cy="53.8" r="1.40"/><circle cx="67.9" cy="54.2" r="1.40"/><circle cx="78.8" cy="79.4" r="1.40"/><circle cx="78.1" cy="75.7" r="1.40"/><circle cx="60.0" cy="38.2" r="1.40"/><circle cx="74.0" cy="78.3" r="1.40"/><circle cx="70.7" cy="90.1" r="1.40"/><circle cx="56.8" cy="46.7" r="1.40"/><circle cx="74.9" cy="82.3" r="1.40"/><circle cx="80.1" cy="64.8" r="1.40"/><circle cx="78.5" cy="80.0" r="1.40"/><circle cx="70.4" cy="88.2" r="1.40"/><circle cx="89.9" cy="23.6" r="1.40"/><circle cx="54.1" cy="46.9" r="1.40"/><circle cx="67.6" cy="72.1" r="1.40"/><circle cx="71.2" cy="84.0" r="1.40"/><circle cx="70.1" cy="87.2" r="1.40"/><circle cx="82.1" cy="36.5" r="1.40"/><circle cx="85.4" cy="26.2" r="1.40"/><circle cx="74.1" cy="92.7" r="1.40"/><circle cx="68.1" cy="90.0" r="1.40"/><circle cx="64.7" cy="68.9" r="1.40"/><circle cx="76.1" cy="87.3" r="1.40"/><circle cx="63.8" cy="55.1" r="1.40"/><circle cx="77.1" cy="80.2" r="1.40"/><circle cx="64.5" cy="76.2" r="1.40"/><circle cx="69.1" cy="71.5" r="1.40"/><circle cx="74.2" cy="84.9" r="1.40"/><circle cx="75.3" cy="63.8" r="1.40"/><circle cx="74.4" cy="93.3" r="1.40"/><circle cx="70.6" cy="91.7" r="1.40"/><circle cx="76.2" cy="74.5" r="1.40"/><circle cx="84.6" cy="61.8" r="1.40"/><circle cx="75.8" cy="80.6" r="1.40"/><circle cx="74.9" cy="84.9" r="1.40"/><circle cx="79.8" cy="81.9" r="1.40"/><circle cx="87.6" cy="24.7" r="1.40"/><circle cx="82.4" cy="28.6" r="1.40"/><circle cx="71.3" cy="94.2" r="1.40"/><circle cx="74.8" cy="78.6" r="1.40"/><circle cx="73.6" cy="86.5" r="1.40"/><circle cx="71.3" cy="90.1" r="1.40"/><circle cx="67.8" cy="71.0" r="1.40"/><circle cx="74.8" cy="78.4" r="1.40"/><circle cx="71.7" cy="88.3" r="1.40"/><circle cx="70.4" cy="93.7" r="1.40"/><circle cx="77.0" cy="85.7" r="1.40"/><circle cx="74.4" cy="79.8" r="1.40"/><circle cx="79.5" cy="71.8" r="1.40"/><circle cx="53.4" cy="56.2" r="1.40"/><circle cx="58.2" cy="62.0" r="1.40"/><circle cx="63.2" cy="67.2" r="1.40"/><circle cx="52.5" cy="43.2" r="1.40"/><circle cx="70.2" cy="84.8" r="1.40"/><circle cx="71.2" cy="75.1" r="1.40"/><circle cx="80.7" cy="57.2" r="1.40"/><circle cx="60.5" cy="37.7" r="1.40"/><circle cx="55.0" cy="47.2" r="1.40"/><circle cx="73.7" cy="84.4" r="1.40"/><circle cx="63.4" cy="80.7" r="1.40"/><circle cx="85.7" cy="33.7" r="1.40"/><circle cx="81.2" cy="72.3" r="1.40"/><circle cx="83.4" cy="34.6" r="1.40"/><circle cx="51.3" cy="53.0" r="1.40"/><circle cx="78.0" cy="88.7" r="1.40"/><circle cx="70.3" cy="93.8" r="1.40"/><circle cx="42.2" cy="39.2" r="1.40"/><circle cx="68.0" cy="56.0" r="1.40"/><circle cx="61.4" cy="43.3" r="1.40"/><circle cx="81.3" cy="34.7" r="1.40"/><circle cx="67.8" cy="52.2" r="1.40"/><circle cx="73.9" cy="93.8" r="1.40"/><circle cx="55.2" cy="38.0" r="1.40"/><circle cx="60.1" cy="71.9" r="1.40"/><circle cx="68.1" cy="75.4" r="1.40"/><circle cx="57.8" cy="55.9" r="1.40"/><circle cx="74.3" cy="91.6" r="1.40"/><circle cx="77.7" cy="79.4" r="1.40"/><circle cx="52.0" cy="39.7" r="1.40"/><circle cx="69.2" cy="88.3" r="1.40"/><circle cx="70.8" cy="92.5" r="1.40"/><circle cx="69.0" cy="67.7" r="1.40"/><circle cx="83.5" cy="65.0" r="1.40"/><circle cx="90.1" cy="24.2" r="1.40"/><circle cx="66.9" cy="81.4" r="1.40"/><circle cx="56.4" cy="39.3" r="1.40"/><circle cx="70.8" cy="89.7" r="1.40"/><circle cx="74.4" cy="94.3" r="1.40"/><circle cx="60.4" cy="64.3" r="1.40"/><circle cx="71.5" cy="85.3" r="1.40"/><circle cx="81.5" cy="44.3" r="1.40"/><circle cx="73.6" cy="93.5" r="1.40"/><circle cx="80.2" cy="65.0" r="1.40"/><circle cx="47.5" cy="39.4" r="1.40"/><circle cx="74.5" cy="68.1" r="1.40"/><circle cx="83.8" cy="22.9" r="1.40"/><circle cx="80.3" cy="77.5" r="1.40"/><circle cx="80.4" cy="76.5" r="1.40"/><circle cx="74.7" cy="81.1" r="1.40"/><circle cx="76.3" cy="65.5" r="1.40"/><circle cx="52.6" cy="44.0" r="1.40"/><circle cx="85.4" cy="50.2" r="1.40"/><circle cx="82.2" cy="66.6" r="1.40"/><circle cx="74.1" cy="85.9" r="1.40"/><circle cx="55.4" cy="50.1" r="1.40"/><circle cx="82.3" cy="33.4" r="1.40"/><circle cx="74.4" cy="93.7" r="1.40"/><circle cx="75.2" cy="91.2" r="1.40"/><circle cx="69.1" cy="84.8" r="1.40"/><circle cx="78.1" cy="67.2" r="1.40"/><circle cx="68.2" cy="91.9" r="1.40"/><circle cx="85.4" cy="72.6" r="1.40"/><circle cx="78.3" cy="42.9" r="1.40"/><circle cx="76.4" cy="78.3" r="1.40"/><circle cx="75.4" cy="86.0" r="1.40"/><circle cx="67.0" cy="66.8" r="1.40"/><circle cx="74.4" cy="83.9" r="1.40"/><circle cx="71.2" cy="85.3" r="1.40"/><circle cx="81.9" cy="37.0" r="1.40"/><circle cx="69.7" cy="75.7" r="1.40"/><circle cx="71.0" cy="93.3" r="1.40"/><circle cx="70.9" cy="78.8" r="1.40"/><circle cx="64.2" cy="61.9" r="1.40"/><circle cx="78.0" cy="79.2" r="1.40"/><circle cx="75.4" cy="88.3" r="1.40"/><circle cx="84.5" cy="51.1" r="1.40"/><circle cx="70.9" cy="92.5" r="1.40"/><circle cx="79.2" cy="77.5" r="1.40"/><circle cx="78.9" cy="46.9" r="1.40"/><circle cx="63.2" cy="65.4" r="1.40"/><circle cx="75.3" cy="75.1" r="1.40"/><circle cx="87.9" cy="33.8" r="1.40"/><circle cx="81.8" cy="40.4" r="1.40"/><circle cx="79.0" cy="48.4" r="1.40"/><circle cx="76.0" cy="64.6" r="1.40"/><circle cx="81.7" cy="45.7" r="1.40"/><circle cx="63.4" cy="50.4" r="1.40"/><circle cx="60.0" cy="59.7" r="1.40"/><circle cx="82.6" cy="70.1" r="1.40"/><circle cx="67.3" cy="66.0" r="1.40"/><circle cx="81.4" cy="41.1" r="1.40"/><circle cx="68.9" cy="70.0" r="1.40"/><circle cx="62.1" cy="38.1" r="1.40"/><circle cx="69.0" cy="84.7" r="1.40"/><circle cx="81.7" cy="64.5" r="1.40"/><circle cx="71.6" cy="82.2" r="1.40"/><circle cx="81.8" cy="42.6" r="1.40"/><circle cx="71.7" cy="93.1" r="1.40"/><circle cx="78.9" cy="77.8" r="1.40"/><circle cx="75.0" cy="78.4" r="1.40"/><circle cx="76.1" cy="87.8" r="1.40"/><circle cx="69.2" cy="81.6" r="1.40"/><circle cx="78.0" cy="75.5" r="1.40"/><circle cx="65.0" cy="51.9" r="1.40"/><circle cx="66.0" cy="57.7" r="1.40"/><circle cx="52.5" cy="42.1" r="1.40"/><circle cx="57.0" cy="46.2" r="1.40"/><circle cx="73.6" cy="93.5" r="1.40"/><circle cx="73.9" cy="92.9" r="1.40"/><circle cx="77.3" cy="64.0" r="1.40"/><circle cx="78.5" cy="69.0" r="1.40"/><circle cx="67.8" cy="86.8" r="1.40"/><circle cx="74.4" cy="90.3" r="1.40"/><circle cx="90.4" cy="27.5" r="1.40"/><circle cx="58.4" cy="44.2" r="1.40"/><circle cx="76.0" cy="89.9" r="1.40"/><circle cx="62.4" cy="49.1" r="1.40"/><circle cx="69.3" cy="85.7" r="1.40"/><circle cx="74.2" cy="89.9" r="1.40"/><circle cx="75.0" cy="81.0" r="1.40"/><circle cx="85.6" cy="24.4" r="1.40"/><circle cx="71.4" cy="93.6" r="1.40"/><circle cx="64.7" cy="68.4" r="1.40"/><circle cx="70.8" cy="73.3" r="1.40"/><circle cx="74.8" cy="91.5" r="1.40"/><circle cx="77.5" cy="91.2" r="1.40"/><circle cx="84.2" cy="66.8" r="1.40"/><circle cx="74.7" cy="92.3" r="1.40"/><circle cx="87.0" cy="36.5" r="1.40"/><circle cx="70.7" cy="89.9" r="1.40"/><circle cx="62.0" cy="45.1" r="1.40"/><circle cx="73.7" cy="93.9" r="1.40"/><circle cx="91.4" cy="25.8" r="1.40"/><circle cx="75.0" cy="93.5" r="1.40"/><circle cx="71.5" cy="74.1" r="1.40"/><circle cx="54.1" cy="52.5" r="1.40"/><circle cx="79.2" cy="43.9" r="1.40"/><circle cx="80.7" cy="71.7" r="1.40"/><circle cx="68.4" cy="61.9" r="1.40"/><circle cx="66.9" cy="66.4" r="1.40"/><circle cx="74.9" cy="89.5" r="1.40"/><circle cx="55.4" cy="41.6" r="1.40"/><circle cx="83.9" cy="70.3" r="1.40"/><circle cx="76.9" cy="66.0" r="1.40"/><circle cx="67.8" cy="73.1" r="1.40"/><circle cx="78.5" cy="78.3" r="1.40"/><circle cx="71.0" cy="76.8" r="1.40"/><circle cx="61.8" cy="46.6" r="1.40"/><circle cx="98.1" cy="33.8" r="1.40"/><circle cx="79.7" cy="43.6" r="1.40"/><circle cx="78.1" cy="53.1" r="1.40"/><circle cx="65.4" cy="84.2" r="1.40"/><circle cx="67.5" cy="77.4" r="1.40"/><circle cx="73.5" cy="92.5" r="1.40"/><circle cx="77.6" cy="86.2" r="1.40"/><circle cx="74.2" cy="93.2" r="1.40"/><circle cx="68.7" cy="65.0" r="1.40"/><circle cx="76.8" cy="52.9" r="1.40"/><circle cx="75.5" cy="79.9" r="1.40"/><circle cx="73.9" cy="94.2" r="1.40"/><circle cx="75.8" cy="75.3" r="1.40"/><circle cx="67.1" cy="56.2" r="1.40"/><circle cx="74.0" cy="90.1" r="1.40"/><circle cx="70.6" cy="86.4" r="1.40"/><circle cx="46.4" cy="39.1" r="1.40"/><circle cx="74.5" cy="69.0" r="1.40"/><circle cx="79.8" cy="32.0" r="1.40"/><circle cx="60.2" cy="63.4" r="1.40"/><circle cx="88.2" cy="44.1" r="1.40"/><circle cx="70.0" cy="88.9" r="1.40"/><circle cx="76.4" cy="54.6" r="1.40"/><circle cx="84.6" cy="29.0" r="1.40"/><circle cx="84.1" cy="48.0" r="1.40"/><circle cx="82.3" cy="73.6" r="1.40"/><circle cx="82.4" cy="44.3" r="1.40"/><circle cx="78.5" cy="66.4" r="1.40"/><circle cx="75.7" cy="91.5" r="1.40"/><circle cx="64.1" cy="49.0" r="1.40"/><circle cx="70.0" cy="87.4" r="1.40"/><circle cx="81.2" cy="32.0" r="1.40"/><circle cx="87.0" cy="51.2" r="1.40"/><circle cx="84.5" cy="53.7" r="1.40"/><circle cx="81.2" cy="40.3" r="1.40"/><circle cx="80.5" cy="39.2" r="1.40"/><circle cx="64.4" cy="65.3" r="1.40"/><circle cx="62.2" cy="71.8" r="1.40"/><circle cx="71.6" cy="91.0" r="1.40"/><circle cx="79.5" cy="72.0" r="1.40"/><circle cx="68.3" cy="86.6" r="1.40"/><circle cx="79.1" cy="82.9" r="1.40"/><circle cx="70.7" cy="83.9" r="1.40"/><circle cx="86.2" cy="42.1" r="1.40"/><circle cx="56.1" cy="59.6" r="1.40"/><circle cx="70.1" cy="83.8" r="1.40"/><circle cx="75.3" cy="78.6" r="1.40"/><circle cx="95.8" cy="33.4" r="1.40"/><circle cx="64.4" cy="71.2" r="1.40"/><circle cx="74.2" cy="88.4" r="1.40"/><circle cx="73.5" cy="89.6" r="1.40"/><circle cx="64.4" cy="41.3" r="1.40"/><circle cx="67.7" cy="51.0" r="1.40"/><circle cx="64.9" cy="67.9" r="1.40"/><circle cx="84.5" cy="67.8" r="1.40"/><circle cx="87.9" cy="55.1" r="1.40"/><circle cx="53.4" cy="63.4" r="1.40"/><circle cx="63.6" cy="61.0" r="1.40"/><circle cx="80.6" cy="77.7" r="1.40"/><circle cx="75.6" cy="69.0" r="1.40"/><circle cx="46.3" cy="39.1" r="1.40"/><circle cx="79.3" cy="64.3" r="1.40"/><circle cx="58.5" cy="55.0" r="1.40"/><circle cx="74.1" cy="93.8" r="1.40"/><circle cx="67.9" cy="90.0" r="1.40"/><circle cx="66.6" cy="65.7" r="1.40"/><circle cx="74.4" cy="93.6" r="1.40"/><circle cx="77.2" cy="83.6" r="1.40"/><circle cx="77.2" cy="83.0" r="1.40"/><circle cx="78.1" cy="56.7" r="1.40"/><circle cx="90.0" cy="54.2" r="1.40"/><circle cx="89.4" cy="53.0" r="1.40"/><circle cx="68.0" cy="89.0" r="1.40"/><circle cx="77.4" cy="79.6" r="1.40"/><circle cx="68.8" cy="70.2" r="1.40"/><circle cx="74.3" cy="89.2" r="1.40"/><circle cx="88.3" cy="26.4" r="1.40"/><circle cx="69.2" cy="81.9" r="1.40"/><circle cx="70.4" cy="74.8" r="1.40"/><circle cx="69.0" cy="84.4" r="1.40"/><circle cx="75.6" cy="84.4" r="1.40"/><circle cx="48.3" cy="44.0" r="1.40"/><circle cx="82.3" cy="44.8" r="1.40"/><circle cx="84.5" cy="54.8" r="1.40"/><circle cx="78.5" cy="83.9" r="1.40"/><circle cx="79.5" cy="83.2" r="1.40"/><circle cx="73.8" cy="84.8" r="1.40"/><circle cx="76.9" cy="63.6" r="1.40"/><circle cx="63.9" cy="41.7" r="1.40"/><circle cx="66.3" cy="68.2" r="1.40"/><circle cx="87.7" cy="54.1" r="1.40"/><circle cx="67.8" cy="82.0" r="1.40"/><circle cx="89.1" cy="25.8" r="1.40"/><circle cx="79.4" cy="76.5" r="1.40"/><circle cx="81.4" cy="48.2" r="1.40"/><circle cx="77.3" cy="79.4" r="1.40"/><circle cx="55.4" cy="46.6" r="1.40"/><circle cx="81.5" cy="32.7" r="1.40"/><circle cx="67.5" cy="80.3" r="1.40"/><circle cx="82.1" cy="37.7" r="1.40"/><circle cx="82.3" cy="62.7" r="1.40"/><circle cx="60.3" cy="48.5" r="1.40"/><circle cx="85.4" cy="39.0" r="1.40"/><circle cx="81.6" cy="68.8" r="1.40"/><circle cx="80.2" cy="32.9" r="1.40"/><circle cx="93.8" cy="35.0" r="1.40"/><circle cx="66.4" cy="58.2" r="1.40"/><circle cx="70.6" cy="92.6" r="1.40"/><circle cx="79.2" cy="40.4" r="1.40"/><circle cx="71.2" cy="91.7" r="1.40"/><circle cx="84.2" cy="25.0" r="1.40"/><circle cx="74.2" cy="92.9" r="1.40"/><circle cx="79.2" cy="81.0" r="1.40"/><circle cx="61.9" cy="74.4" r="1.40"/><circle cx="62.0" cy="49.7" r="1.40"/><circle cx="69.9" cy="86.1" r="1.40"/><circle cx="66.5" cy="66.9" r="1.40"/><circle cx="63.9" cy="52.1" r="1.40"/><circle cx="86.4" cy="66.0" r="1.40"/><circle cx="58.5" cy="53.2" r="1.40"/><circle cx="83.5" cy="49.9" r="1.40"/><circle cx="78.8" cy="61.8" r="1.40"/><circle cx="49.9" cy="46.9" r="1.40"/><circle cx="74.0" cy="80.7" r="1.40"/><circle cx="73.9" cy="92.9" r="1.40"/><circle cx="69.3" cy="59.6" r="1.40"/><circle cx="76.1" cy="72.2" r="1.40"/><circle cx="69.7" cy="83.3" r="1.40"/><circle cx="60.4" cy="56.0" r="1.40"/><circle cx="68.7" cy="58.2" r="1.40"/><circle cx="66.2" cy="84.1" r="1.40"/><circle cx="81.7" cy="47.8" r="1.40"/><circle cx="82.0" cy="30.8" r="1.40"/><circle cx="67.1" cy="87.0" r="1.40"/><circle cx="64.3" cy="47.2" r="1.40"/><circle cx="65.2" cy="79.4" r="1.40"/><circle cx="64.2" cy="62.9" r="1.40"/><circle cx="62.2" cy="44.7" r="1.40"/><circle cx="70.5" cy="91.2" r="1.40"/><circle cx="44.0" cy="53.2" r="1.40"/><circle cx="82.3" cy="43.3" r="1.40"/><circle cx="81.0" cy="40.7" r="1.40"/><circle cx="76.5" cy="68.2" r="1.40"/><circle cx="63.6" cy="84.8" r="1.40"/><circle cx="83.0" cy="28.1" r="1.40"/><circle cx="74.6" cy="73.5" r="1.40"/><circle cx="86.3" cy="38.7" r="1.40"/><circle cx="71.4" cy="94.2" r="1.40"/><circle cx="80.1" cy="44.1" r="1.40"/><circle cx="75.1" cy="66.2" r="1.40"/><circle cx="65.2" cy="81.2" r="1.40"/><circle cx="86.3" cy="57.5" r="1.40"/><circle cx="69.0" cy="85.2" r="1.40"/><circle cx="67.0" cy="65.5" r="1.40"/><circle cx="68.2" cy="87.3" r="1.40"/><circle cx="79.4" cy="51.5" r="1.40"/><circle cx="75.5" cy="76.1" r="1.40"/><circle cx="77.6" cy="50.9" r="1.40"/><circle cx="82.4" cy="71.0" r="1.40"/><circle cx="62.6" cy="43.9" r="1.40"/><circle cx="61.3" cy="38.3" r="1.40"/><circle cx="69.5" cy="77.4" r="1.40"/><circle cx="91.0" cy="48.3" r="1.40"/><circle cx="69.5" cy="91.7" r="1.40"/><circle cx="62.1" cy="42.4" r="1.40"/><circle cx="86.3" cy="57.6" r="1.40"/><circle cx="74.0" cy="84.6" r="1.40"/><circle cx="73.6" cy="91.9" r="1.40"/><circle cx="82.0" cy="51.2" r="1.40"/><circle cx="60.8" cy="70.4" r="1.40"/><circle cx="53.6" cy="52.6" r="1.40"/><circle cx="54.0" cy="48.1" r="1.40"/><circle cx="89.2" cy="40.7" r="1.40"/><circle cx="78.2" cy="42.8" r="1.40"/><circle cx="71.4" cy="93.0" r="1.40"/><circle cx="48.7" cy="22.0" r="1.40"/><circle cx="54.1" cy="20.4" r="1.40"/><circle cx="64.3" cy="28.8" r="1.40"/><circle cx="38.4" cy="33.2" r="1.40"/><circle cx="43.6" cy="31.7" r="1.40"/><circle cx="45.4" cy="31.5" r="1.40"/><circle cx="47.0" cy="31.2" r="1.40"/><circle cx="53.5" cy="30.1" r="1.40"/><circle cx="51.9" cy="33.9" r="1.40"/><circle cx="36.5" cy="41.1" r="1.40"/><circle cx="41.1" cy="48.0" r="1.40"/><circle cx="47.4" cy="57.2" r="1.40"/><circle cx="47.9" cy="70.5" r="1.40"/><circle cx="54.5" cy="73.2" r="1.40"/><circle cx="57.9" cy="74.9" r="1.40"/><circle cx="62.3" cy="82.1" r="1.40"/><circle cx="96.5" cy="19.3" r="1.40"/><circle cx="94.3" cy="24.2" r="1.40"/><circle cx="83.0" cy="22.6" r="1.40"/><circle cx="86.2" cy="25.3" r="1.40"/><circle cx="89.4" cy="26.3" r="1.40"/><circle cx="79.7" cy="28.5" r="1.40"/><circle cx="101.9" cy="33.9" r="1.40"/><circle cx="95.7" cy="71.8" r="1.40"/><circle cx="103.2" cy="68.8" r="1.40"/><circle cx="104.5" cy="38.5" r="1.40"/><circle cx="99.5" cy="42.0" r="1.40"/><circle cx="92.5" cy="19.5" r="1.40"/><circle cx="90.5" cy="22.5" r="1.40"/><circle cx="97.5" cy="27.5" r="1.40"/><circle cx="84.5" cy="27.0" r="1.40"/><circle cx="81.5" cy="25.5" r="1.40"/><circle cx="99.0" cy="31.0" r="1.40"/><circle cx="93.0" cy="29.0" r="1.40"/><circle cx="87.5" cy="23.5" r="1.40"/></g>
<line x1="72.50" y1="40.00" x2="72.50" y2="91.50" stroke="#f4f4f4" stroke-width="0.90" />
<path d="M69.9,91 L72.7,95.9 L75.6,91 L74.3,90.6 L72.8,93.3 L71.3,90.6 Z" fill="#000" />
<text x="93.50" y="44.84" stroke="#1d48b8" stroke-width="0.26" font-size="5.90" fill="#1d48b8" textLength="23.60" lengthAdjust="spacingAndGlyphs" >S100A12</text>
<circle cx="113.90" cy="46.20" r="1.35" fill="#1d48b8" />
<text x="96.00" y="54.34" stroke="#d41c2b" stroke-width="0.26" font-size="5.90" fill="#d41c2b" textLength="20.50" lengthAdjust="spacingAndGlyphs" >S100A9</text>
<circle cx="103.60" cy="56.30" r="1.35" fill="#d41c2b" />
<text x="87.70" y="63.84" stroke="#d41c2b" stroke-width="0.26" font-size="5.90" fill="#d41c2b" textLength="20.20" lengthAdjust="spacingAndGlyphs" >S100A8</text>
<text x="71.00" y="51.84" stroke="#1d48b8" stroke-width="0.26" font-size="5.90" fill="#1d48b8" textLength="20.40" lengthAdjust="spacingAndGlyphs" >S100A6</text>
<circle cx="83.70" cy="53.50" r="1.35" fill="#1d48b8" />
<text x="62.90" y="64.54" stroke="#1d48b8" stroke-width="0.26" font-size="5.90" fill="#1d48b8" textLength="23.10" lengthAdjust="spacingAndGlyphs" >S100A13</text>
<circle cx="77.90" cy="59.20" r="1.35" fill="#1d48b8" />
<text x="71.00" y="74.94" stroke="#1d48b8" stroke-width="0.26" font-size="5.90" fill="#1d48b8" textLength="21.40" lengthAdjust="spacingAndGlyphs" >S100A4</text>
<circle cx="76.70" cy="69.00" r="1.35" fill="#1d48b8" />
<text x="66.60" y="84.54" stroke="#1d48b8" stroke-width="0.26" font-size="5.90" fill="#1d48b8" textLength="24.30" lengthAdjust="spacingAndGlyphs" >S100A10</text>
<text x="62.10" y="13.40" stroke="#000" stroke-width="0.45" font-size="9.00" textLength="26.00" lengthAdjust="spacingAndGlyphs" >MOLM13</text>
<text x="30.90" y="28.60" stroke="#222" stroke-width="0.10" text-anchor="end" font-size="6.30" fill="#222" >60</text>
<text x="30.90" y="52.20" stroke="#222" stroke-width="0.10" text-anchor="end" font-size="6.30" fill="#222" >40</text>
<text x="30.90" y="75.60" stroke="#222" stroke-width="0.10" text-anchor="end" font-size="6.30" fill="#222" >20</text>
<text x="30.90" y="98.90" stroke="#222" stroke-width="0.10" text-anchor="end" font-size="6.30" fill="#222" >0</text>
<text x="49.20" y="108.10" stroke="#222" stroke-width="0.10" text-anchor="middle" font-size="6.10" fill="#222" >−5</text>
<text x="73.30" y="108.10" stroke="#222" stroke-width="0.10" text-anchor="middle" font-size="6.10" fill="#222" >0</text>
<text x="97.60" y="108.10" stroke="#222" stroke-width="0.10" text-anchor="middle" font-size="6.10" fill="#222" >5</text>
<text x="0" y="0" stroke="#000" stroke-width="0.16" font-size="9.00" textLength="7.40" lengthAdjust="spacingAndGlyphs" transform="translate(19.20 63.70) rotate(-90)" >log</text>
<text x="0" y="0" stroke="#000" stroke-width="0.26" font-size="4.40" textLength="6.60" lengthAdjust="spacingAndGlyphs" transform="translate(16.00 55.60) rotate(-90)" >PV</text>
<text x="56.80" y="116.10" font-size="8.60" font-weight="bold" textLength="34.40" lengthAdjust="spacingAndGlyphs" >Fold change</text>
<text x="56.80" y="124.00" stroke="#333" stroke-width="0.26" font-size="5.80" fill="#333" textLength="35.00" lengthAdjust="spacingAndGlyphs" >Gene Targets</text>
<circle cx="57.50" cy="129.50" r="0.85" fill="#d41c2b" />
<text x="60.60" y="131.70" stroke="#222" stroke-width="0.26" font-size="6.10" fill="#222" textLength="31.40" lengthAdjust="spacingAndGlyphs" >S100A8/A9</text>
<circle cx="57.50" cy="136.70" r="0.85" fill="#1d48b8" />
<text x="60.60" y="138.70" stroke="#222" stroke-width="0.26" font-size="6.10" fill="#222" textLength="33.20" lengthAdjust="spacingAndGlyphs" >S100 Family</text>
<rect x="141.00" y="15.60" width="85.80" height="82.50" fill="#d8d8d8" />
<line x1="159.60" y1="15.60" x2="159.60" y2="98.10" stroke="#fff" stroke-width="1.00" />
<line x1="189.90" y1="15.60" x2="189.90" y2="98.10" stroke="#fff" stroke-width="1.00" />
<line x1="200.60" y1="15.60" x2="200.60" y2="98.10" stroke="#fff" stroke-width="1.00" />
<line x1="220.60" y1="15.60" x2="220.60" y2="98.10" stroke="#fff" stroke-width="1.00" />
<line x1="141.00" y1="32.40" x2="226.80" y2="32.40" stroke="#fff" stroke-width="1.00" />
<line x1="141.00" y1="59.20" x2="226.80" y2="59.20" stroke="#fff" stroke-width="1.00" />
<line x1="141.00" y1="86.60" x2="226.80" y2="86.60" stroke="#fff" stroke-width="1.00" />
<g fill="none" stroke="#7a8f8c" stroke-width="0.55" stroke-opacity="1.00"><circle cx="188.5" cy="96.0" r="1.40"/><circle cx="175.7" cy="58.0" r="1.40"/><circle cx="164.9" cy="91.9" r="1.40"/><circle cx="159.1" cy="52.4" r="1.40"/><circle cx="183.4" cy="91.7" r="1.40"/><circle cx="154.4" cy="61.0" r="1.40"/><circle cx="181.9" cy="96.8" r="1.40"/><circle cx="188.6" cy="62.6" r="1.40"/><circle cx="166.1" cy="60.7" r="1.40"/><circle cx="196.5" cy="31.3" r="1.40"/><circle cx="186.9" cy="95.7" r="1.40"/><circle cx="194.1" cy="86.9" r="1.40"/><circle cx="175.1" cy="54.1" r="1.40"/><circle cx="175.7" cy="92.7" r="1.40"/><circle cx="201.7" cy="52.2" r="1.40"/><circle cx="184.8" cy="44.3" r="1.40"/><circle cx="179.1" cy="73.9" r="1.40"/><circle cx="195.0" cy="76.7" r="1.40"/><circle cx="196.1" cy="33.2" r="1.40"/><circle cx="190.2" cy="77.8" r="1.40"/><circle cx="154.0" cy="65.7" r="1.40"/><circle cx="201.8" cy="61.2" r="1.40"/><circle cx="167.7" cy="39.3" r="1.40"/><circle cx="159.7" cy="81.7" r="1.40"/><circle cx="166.3" cy="83.4" r="1.40"/><circle cx="163.8" cy="55.4" r="1.40"/><circle cx="185.6" cy="44.3" r="1.40"/><circle cx="183.3" cy="84.9" r="1.40"/><circle cx="191.6" cy="53.0" r="1.40"/><circle cx="177.3" cy="96.5" r="1.40"/><circle cx="168.9" cy="35.2" r="1.40"/><circle cx="176.7" cy="49.7" r="1.40"/><circle cx="171.2" cy="55.3" r="1.40"/><circle cx="191.0" cy="92.1" r="1.40"/><circle cx="176.3" cy="45.4" r="1.40"/><circle cx="194.2" cy="40.3" r="1.40"/><circle cx="176.0" cy="39.9" r="1.40"/><circle cx="193.6" cy="57.4" r="1.40"/><circle cx="173.6" cy="34.3" r="1.40"/><circle cx="183.9" cy="58.8" r="1.40"/><circle cx="193.4" cy="90.0" r="1.40"/><circle cx="177.1" cy="53.0" r="1.40"/><circle cx="177.6" cy="66.6" r="1.40"/><circle cx="173.7" cy="47.8" r="1.40"/><circle cx="177.9" cy="87.3" r="1.40"/><circle cx="165.4" cy="76.9" r="1.40"/><circle cx="159.2" cy="57.1" r="1.40"/><circle cx="176.7" cy="95.9" r="1.40"/><circle cx="182.0" cy="92.2" r="1.40"/><circle cx="176.9" cy="88.4" r="1.40"/><circle cx="171.4" cy="77.2" r="1.40"/><circle cx="181.9" cy="59.9" r="1.40"/><circle cx="201.7" cy="34.8" r="1.40"/><circle cx="191.9" cy="91.2" r="1.40"/><circle cx="175.4" cy="42.9" r="1.40"/><circle cx="158.7" cy="83.1" r="1.40"/><circle cx="174.5" cy="71.3" r="1.40"/><circle cx="174.4" cy="57.1" r="1.40"/><circle cx="187.1" cy="83.3" r="1.40"/><circle cx="183.9" cy="52.4" r="1.40"/><circle cx="186.7" cy="35.8" r="1.40"/><circle cx="181.6" cy="86.7" r="1.40"/><circle cx="178.3" cy="86.0" r="1.40"/><circle cx="177.8" cy="90.3" r="1.40"/><circle cx="191.8" cy="71.4" r="1.40"/><circle cx="174.2" cy="36.8" r="1.40"/><circle cx="202.5" cy="64.7" r="1.40"/><circle cx="194.1" cy="84.4" r="1.40"/><circle cx="161.9" cy="85.4" r="1.40"/><circle cx="173.9" cy="74.2" r="1.40"/><circle cx="166.2" cy="89.1" r="1.40"/><circle cx="174.8" cy="60.9" r="1.40"/><circle cx="182.8" cy="89.5" r="1.40"/><circle cx="176.1" cy="35.9" r="1.40"/><circle cx="185.1" cy="33.4" r="1.40"/><circle cx="170.8" cy="88.8" r="1.40"/><circle cx="199.6" cy="51.6" r="1.40"/><circle cx="196.7" cy="80.9" r="1.40"/><circle cx="181.2" cy="91.6" r="1.40"/><circle cx="158.2" cy="81.6" r="1.40"/><circle cx="196.7" cy="36.5" r="1.40"/><circle cx="182.2" cy="63.1" r="1.40"/><circle cx="201.0" cy="40.4" r="1.40"/><circle cx="182.0" cy="86.0" r="1.40"/><circle cx="174.7" cy="55.1" r="1.40"/><circle cx="169.8" cy="76.8" r="1.40"/><circle cx="188.9" cy="54.5" r="1.40"/><circle cx="182.6" cy="40.6" r="1.40"/><circle cx="184.0" cy="52.7" r="1.40"/><circle cx="184.2" cy="41.7" r="1.40"/><circle cx="155.7" cy="74.1" r="1.40"/><circle cx="190.9" cy="83.4" r="1.40"/><circle cx="183.1" cy="90.2" r="1.40"/><circle cx="174.1" cy="93.6" r="1.40"/><circle cx="186.0" cy="58.2" r="1.40"/><circle cx="178.4" cy="69.4" r="1.40"/><circle cx="185.2" cy="88.1" r="1.40"/><circle cx="192.9" cy="53.1" r="1.40"/><circle cx="186.6" cy="26.8" r="1.40"/><circle cx="167.3" cy="45.9" r="1.40"/><circle cx="192.1" cy="34.4" r="1.40"/><circle cx="185.9" cy="46.5" r="1.40"/><circle cx="178.5" cy="96.9" r="1.40"/><circle cx="166.0" cy="83.1" r="1.40"/><circle cx="182.8" cy="96.2" r="1.40"/><circle cx="169.6" cy="78.8" r="1.40"/><circle cx="170.6" cy="73.6" r="1.40"/><circle cx="178.9" cy="89.1" r="1.40"/><circle cx="185.7" cy="48.8" r="1.40"/><circle cx="175.9" cy="68.7" r="1.40"/><circle cx="182.1" cy="59.5" r="1.40"/><circle cx="176.4" cy="53.3" r="1.40"/><circle cx="183.7" cy="40.4" r="1.40"/><circle cx="197.0" cy="40.2" r="1.40"/><circle cx="171.7" cy="92.8" r="1.40"/><circle cx="177.9" cy="62.6" r="1.40"/><circle cx="182.6" cy="82.8" r="1.40"/><circle cx="187.4" cy="95.7" r="1.40"/><circle cx="167.3" cy="81.5" r="1.40"/><circle cx="183.1" cy="85.2" r="1.40"/><circle cx="182.3" cy="81.4" r="1.40"/><circle cx="203.2" cy="47.3" r="1.40"/><circle cx="184.3" cy="78.0" r="1.40"/><circle cx="193.9" cy="88.7" r="1.40"/><circle cx="173.4" cy="91.4" r="1.40"/><circle cx="191.9" cy="74.2" r="1.40"/><circle cx="176.1" cy="94.0" r="1.40"/><circle cx="167.4" cy="83.8" r="1.40"/><circle cx="162.1" cy="53.7" r="1.40"/><circle cx="156.2" cy="71.7" r="1.40"/><circle cx="165.2" cy="71.1" r="1.40"/><circle cx="169.1" cy="95.5" r="1.40"/><circle cx="174.5" cy="60.1" r="1.40"/><circle cx="162.0" cy="51.0" r="1.40"/><circle cx="166.6" cy="92.8" r="1.40"/><circle cx="164.2" cy="81.7" r="1.40"/><circle cx="172.7" cy="89.0" r="1.40"/><circle cx="182.2" cy="87.5" r="1.40"/><circle cx="176.8" cy="91.2" r="1.40"/><circle cx="182.6" cy="90.8" r="1.40"/><circle cx="199.9" cy="66.2" r="1.40"/><circle cx="186.5" cy="79.5" r="1.40"/><circle cx="160.5" cy="87.3" r="1.40"/><circle cx="173.5" cy="46.5" r="1.40"/><circle cx="175.9" cy="33.7" r="1.40"/><circle cx="182.5" cy="77.2" r="1.40"/><circle cx="159.4" cy="73.5" r="1.40"/><circle cx="181.6" cy="58.4" r="1.40"/><circle cx="187.0" cy="28.0" r="1.40"/><circle cx="185.9" cy="39.0" r="1.40"/><circle cx="178.6" cy="76.1" r="1.40"/><circle cx="171.7" cy="39.6" r="1.40"/><circle cx="194.9" cy="82.6" r="1.40"/><circle cx="193.1" cy="24.8" r="1.40"/><circle cx="171.6" cy="57.6" r="1.40"/><circle cx="185.7" cy="89.8" r="1.40"/><circle cx="162.7" cy="44.4" r="1.40"/><circle cx="193.2" cy="89.4" r="1.40"/><circle cx="188.5" cy="94.8" r="1.40"/><circle cx="185.6" cy="67.4" r="1.40"/><circle cx="183.3" cy="84.6" r="1.40"/><circle cx="177.7" cy="92.4" r="1.40"/><circle cx="179.1" cy="94.0" r="1.40"/><circle cx="185.1" cy="85.6" r="1.40"/><circle cx="190.9" cy="78.0" r="1.40"/><circle cx="199.3" cy="66.3" r="1.40"/><circle cx="181.7" cy="58.5" r="1.40"/><circle cx="190.1" cy="38.1" r="1.40"/><circle cx="184.4" cy="51.3" r="1.40"/><circle cx="156.2" cy="77.0" r="1.40"/><circle cx="185.2" cy="95.5" r="1.40"/><circle cx="172.0" cy="53.3" r="1.40"/><circle cx="188.0" cy="41.4" r="1.40"/><circle cx="161.4" cy="51.4" r="1.40"/><circle cx="187.4" cy="69.1" r="1.40"/><circle cx="186.0" cy="29.9" r="1.40"/><circle cx="187.7" cy="86.4" r="1.40"/><circle cx="186.1" cy="51.1" r="1.40"/><circle cx="184.2" cy="40.9" r="1.40"/><circle cx="196.3" cy="60.2" r="1.40"/><circle cx="199.4" cy="32.4" r="1.40"/><circle cx="182.4" cy="59.5" r="1.40"/><circle cx="188.5" cy="40.2" r="1.40"/><circle cx="169.3" cy="73.4" r="1.40"/><circle cx="178.7" cy="92.9" r="1.40"/><circle cx="184.1" cy="83.1" r="1.40"/><circle cx="188.3" cy="87.1" r="1.40"/><circle cx="196.0" cy="46.9" r="1.40"/><circle cx="186.4" cy="47.7" r="1.40"/><circle cx="171.0" cy="37.1" r="1.40"/><circle cx="170.4" cy="94.0" r="1.40"/><circle cx="152.5" cy="58.8" r="1.40"/><circle cx="175.3" cy="49.9" r="1.40"/><circle cx="174.9" cy="60.2" r="1.40"/><circle cx="178.8" cy="85.9" r="1.40"/><circle cx="186.6" cy="86.6" r="1.40"/><circle cx="172.4" cy="35.0" r="1.40"/><circle cx="177.3" cy="62.0" r="1.40"/><circle cx="172.5" cy="93.8" r="1.40"/><circle cx="173.5" cy="73.1" r="1.40"/><circle cx="182.9" cy="72.1" r="1.40"/><circle cx="164.5" cy="43.9" r="1.40"/><circle cx="155.3" cy="59.4" r="1.40"/><circle cx="165.0" cy="64.5" r="1.40"/><circle cx="185.0" cy="28.2" r="1.40"/><circle cx="194.8" cy="57.2" r="1.40"/><circle cx="170.2" cy="37.0" r="1.40"/><circle cx="164.8" cy="40.5" r="1.40"/><circle cx="170.8" cy="79.5" r="1.40"/><circle cx="188.6" cy="75.2" r="1.40"/><circle cx="189.0" cy="53.4" r="1.40"/><circle cx="186.5" cy="41.7" r="1.40"/><circle cx="174.3" cy="75.5" r="1.40"/><circle cx="161.2" cy="79.0" r="1.40"/><circle cx="178.5" cy="55.2" r="1.40"/><circle cx="182.7" cy="89.0" r="1.40"/><circle cx="165.2" cy="83.2" r="1.40"/><circle cx="199.5" cy="60.2" r="1.40"/><circle cx="172.6" cy="38.5" r="1.40"/><circle cx="182.7" cy="72.6" r="1.40"/><circle cx="192.6" cy="44.3" r="1.40"/><circle cx="179.1" cy="91.2" r="1.40"/><circle cx="183.0" cy="54.1" r="1.40"/><circle cx="203.1" cy="50.7" r="1.40"/><circle cx="172.2" cy="34.5" r="1.40"/><circle cx="163.6" cy="34.9" r="1.40"/><circle cx="182.5" cy="87.2" r="1.40"/><circle cx="185.6" cy="94.2" r="1.40"/><circle cx="184.1" cy="95.5" r="1.40"/><circle cx="167.9" cy="41.7" r="1.40"/><circle cx="156.9" cy="74.9" r="1.40"/><circle cx="181.0" cy="89.2" r="1.40"/><circle cx="178.8" cy="55.2" r="1.40"/><circle cx="186.5" cy="96.8" r="1.40"/><circle cx="167.5" cy="56.7" r="1.40"/><circle cx="197.6" cy="27.7" r="1.40"/><circle cx="185.2" cy="77.6" r="1.40"/><circle cx="199.3" cy="41.5" r="1.40"/><circle cx="186.4" cy="49.5" r="1.40"/><circle cx="191.8" cy="88.2" r="1.40"/><circle cx="160.7" cy="82.5" r="1.40"/><circle cx="190.9" cy="88.8" r="1.40"/><circle cx="190.6" cy="31.7" r="1.40"/><circle cx="177.8" cy="49.1" r="1.40"/><circle cx="166.5" cy="91.7" r="1.40"/><circle cx="165.9" cy="52.4" r="1.40"/><circle cx="162.7" cy="68.6" r="1.40"/><circle cx="158.4" cy="76.6" r="1.40"/><circle cx="188.2" cy="24.2" r="1.40"/><circle cx="197.7" cy="67.4" r="1.40"/><circle cx="172.5" cy="36.7" r="1.40"/><circle cx="179.0" cy="56.0" r="1.40"/><circle cx="195.8" cy="61.0" r="1.40"/><circle cx="163.9" cy="84.1" r="1.40"/><circle cx="179.1" cy="69.6" r="1.40"/><circle cx="169.4" cy="70.5" r="1.40"/><circle cx="187.4" cy="46.2" r="1.40"/><circle cx="176.6" cy="46.4" r="1.40"/><circle cx="174.5" cy="68.2" r="1.40"/><circle cx="176.3" cy="48.5" r="1.40"/><circle cx="193.9" cy="84.1" r="1.40"/><circle cx="189.5" cy="54.0" r="1.40"/><circle cx="182.8" cy="68.3" r="1.40"/><circle cx="184.7" cy="45.0" r="1.40"/><circle cx="158.2" cy="45.9" r="1.40"/><circle cx="186.8" cy="60.0" r="1.40"/><circle cx="173.6" cy="90.5" r="1.40"/><circle cx="161.3" cy="64.5" r="1.40"/><circle cx="191.9" cy="88.0" r="1.40"/><circle cx="188.1" cy="89.4" r="1.40"/><circle cx="189.2" cy="72.6" r="1.40"/><circle cx="177.0" cy="91.2" r="1.40"/><circle cx="201.5" cy="59.3" r="1.40"/><circle cx="190.3" cy="53.8" r="1.40"/><circle cx="186.6" cy="51.0" r="1.40"/><circle cx="196.8" cy="82.6" r="1.40"/><circle cx="175.5" cy="96.7" r="1.40"/><circle cx="167.0" cy="44.9" r="1.40"/><circle cx="199.9" cy="30.1" r="1.40"/><circle cx="175.2" cy="95.0" r="1.40"/><circle cx="189.6" cy="77.8" r="1.40"/><circle cx="198.2" cy="57.2" r="1.40"/><circle cx="177.8" cy="86.8" r="1.40"/><circle cx="195.1" cy="81.0" r="1.40"/><circle cx="198.0" cy="77.1" r="1.40"/><circle cx="158.0" cy="45.3" r="1.40"/><circle cx="175.1" cy="51.3" r="1.40"/><circle cx="200.2" cy="27.9" r="1.40"/><circle cx="194.1" cy="54.6" r="1.40"/><circle cx="198.5" cy="74.5" r="1.40"/><circle cx="178.6" cy="90.2" r="1.40"/><circle cx="186.7" cy="88.1" r="1.40"/><circle cx="187.1" cy="59.5" r="1.40"/><circle cx="176.1" cy="73.2" r="1.40"/><circle cx="193.6" cy="82.7" r="1.40"/><circle cx="174.5" cy="75.5" r="1.40"/><circle cx="190.3" cy="84.0" r="1.40"/><circle cx="191.6" cy="30.4" r="1.40"/><circle cx="178.8" cy="94.0" r="1.40"/><circle cx="185.0" cy="69.8" r="1.40"/><circle cx="187.0" cy="29.3" r="1.40"/><circle cx="167.5" cy="39.6" r="1.40"/><circle cx="188.8" cy="88.3" r="1.40"/><circle cx="174.6" cy="67.7" r="1.40"/><circle cx="183.4" cy="63.3" r="1.40"/><circle cx="193.5" cy="69.1" r="1.40"/><circle cx="174.7" cy="85.6" r="1.40"/><circle cx="172.3" cy="93.1" r="1.40"/><circle cx="175.9" cy="56.6" r="1.40"/><circle cx="171.4" cy="55.3" r="1.40"/><circle cx="196.2" cy="24.8" r="1.40"/><circle cx="170.2" cy="68.0" r="1.40"/><circle cx="175.1" cy="46.9" r="1.40"/><circle cx="190.3" cy="39.3" r="1.40"/><circle cx="164.2" cy="55.5" r="1.40"/><circle cx="185.6" cy="26.0" r="1.40"/><circle cx="177.8" cy="79.6" r="1.40"/><circle cx="186.9" cy="46.7" r="1.40"/><circle cx="197.5" cy="80.3" r="1.40"/><circle cx="178.8" cy="96.9" r="1.40"/><circle cx="191.2" cy="88.4" r="1.40"/><circle cx="184.0" cy="90.9" r="1.40"/><circle cx="159.4" cy="77.6" r="1.40"/><circle cx="197.3" cy="77.4" r="1.40"/><circle cx="191.2" cy="26.6" r="1.40"/><circle cx="182.6" cy="59.1" r="1.40"/><circle cx="170.1" cy="76.4" r="1.40"/><circle cx="182.8" cy="84.0" r="1.40"/><circle cx="176.6" cy="57.0" r="1.40"/><circle cx="192.6" cy="80.4" r="1.40"/><circle cx="195.1" cy="82.2" r="1.40"/><circle cx="183.5" cy="73.4" r="1.40"/><circle cx="195.1" cy="65.4" r="1.40"/><circle cx="173.2" cy="71.3" r="1.40"/><circle cx="185.4" cy="45.9" r="1.40"/><circle cx="165.7" cy="48.6" r="1.40"/><circle cx="168.5" cy="95.8" r="1.40"/><circle cx="185.5" cy="40.2" r="1.40"/><circle cx="169.1" cy="92.0" r="1.40"/><circle cx="171.0" cy="82.8" r="1.40"/><circle cx="198.0" cy="32.7" r="1.40"/><circle cx="156.5" cy="80.1" r="1.40"/><circle cx="177.7" cy="89.3" r="1.40"/><circle cx="160.3" cy="43.8" r="1.40"/><circle cx="166.2" cy="87.4" r="1.40"/><circle cx="186.7" cy="68.6" r="1.40"/><circle cx="163.2" cy="76.5" r="1.40"/><circle cx="166.0" cy="56.0" r="1.40"/><circle cx="185.5" cy="55.6" r="1.40"/><circle cx="160.6" cy="43.5" r="1.40"/><circle cx="182.1" cy="77.2" r="1.40"/><circle cx="166.4" cy="58.4" r="1.40"/><circle cx="172.9" cy="80.3" r="1.40"/><circle cx="176.8" cy="40.1" r="1.40"/><circle cx="188.6" cy="82.6" r="1.40"/><circle cx="171.8" cy="95.5" r="1.40"/><circle cx="201.7" cy="65.7" r="1.40"/><circle cx="175.7" cy="75.9" r="1.40"/><circle cx="185.9" cy="60.4" r="1.40"/><circle cx="182.7" cy="91.6" r="1.40"/><circle cx="184.1" cy="92.4" r="1.40"/><circle cx="175.2" cy="67.6" r="1.40"/><circle cx="202.7" cy="62.9" r="1.40"/><circle cx="160.1" cy="76.5" r="1.40"/><circle cx="172.8" cy="41.9" r="1.40"/><circle cx="182.3" cy="79.8" r="1.40"/><circle cx="181.5" cy="73.8" r="1.40"/><circle cx="160.3" cy="79.2" r="1.40"/><circle cx="154.7" cy="73.6" r="1.40"/><circle cx="165.2" cy="57.1" r="1.40"/><circle cx="176.4" cy="74.3" r="1.40"/><circle cx="192.9" cy="73.4" r="1.40"/><circle cx="159.6" cy="85.8" r="1.40"/><circle cx="175.9" cy="70.0" r="1.40"/><circle cx="163.7" cy="58.3" r="1.40"/><circle cx="178.0" cy="60.5" r="1.40"/><circle cx="189.1" cy="77.7" r="1.40"/><circle cx="183.8" cy="89.7" r="1.40"/><circle cx="192.1" cy="60.6" r="1.40"/><circle cx="158.4" cy="71.9" r="1.40"/><circle cx="186.0" cy="44.3" r="1.40"/><circle cx="183.5" cy="52.3" r="1.40"/><circle cx="190.8" cy="95.5" r="1.40"/><circle cx="175.8" cy="44.2" r="1.40"/><circle cx="181.8" cy="62.5" r="1.40"/><circle cx="190.3" cy="49.5" r="1.40"/><circle cx="194.4" cy="85.3" r="1.40"/><circle cx="179.1" cy="94.2" r="1.40"/><circle cx="181.7" cy="90.6" r="1.40"/><circle cx="198.3" cy="31.9" r="1.40"/><circle cx="195.8" cy="68.6" r="1.40"/><circle cx="186.5" cy="46.0" r="1.40"/><circle cx="169.4" cy="38.5" r="1.40"/><circle cx="169.7" cy="54.6" r="1.40"/><circle cx="183.6" cy="67.4" r="1.40"/><circle cx="185.9" cy="38.0" r="1.40"/><circle cx="183.6" cy="71.8" r="1.40"/><circle cx="171.0" cy="67.5" r="1.40"/><circle cx="163.4" cy="50.8" r="1.40"/><circle cx="163.7" cy="78.0" r="1.40"/><circle cx="189.7" cy="71.1" r="1.40"/><circle cx="161.4" cy="67.7" r="1.40"/><circle cx="173.3" cy="53.0" r="1.40"/><circle cx="169.9" cy="59.0" r="1.40"/><circle cx="176.3" cy="62.9" r="1.40"/><circle cx="193.9" cy="81.9" r="1.40"/><circle cx="193.4" cy="56.3" r="1.40"/><circle cx="164.7" cy="43.0" r="1.40"/><circle cx="188.5" cy="39.3" r="1.40"/><circle cx="174.2" cy="92.4" r="1.40"/><circle cx="182.9" cy="88.8" r="1.40"/><circle cx="170.7" cy="87.9" r="1.40"/><circle cx="167.7" cy="69.8" r="1.40"/><circle cx="189.7" cy="96.3" r="1.40"/><circle cx="171.3" cy="95.5" r="1.40"/><circle cx="173.8" cy="48.8" r="1.40"/><circle cx="187.8" cy="83.6" r="1.40"/><circle cx="172.6" cy="94.2" r="1.40"/><circle cx="186.7" cy="88.5" r="1.40"/><circle cx="184.1" cy="34.8" r="1.40"/><circle cx="178.1" cy="93.3" r="1.40"/><circle cx="172.3" cy="81.0" r="1.40"/><circle cx="164.5" cy="48.3" r="1.40"/><circle cx="178.6" cy="79.2" r="1.40"/><circle cx="203.1" cy="42.1" r="1.40"/><circle cx="199.8" cy="70.7" r="1.40"/><circle cx="161.2" cy="72.3" r="1.40"/><circle cx="181.8" cy="65.9" r="1.40"/><circle cx="168.6" cy="57.2" r="1.40"/><circle cx="174.7" cy="63.1" r="1.40"/><circle cx="158.5" cy="76.7" r="1.40"/><circle cx="184.8" cy="96.5" r="1.40"/><circle cx="175.8" cy="90.8" r="1.40"/><circle cx="184.2" cy="46.3" r="1.40"/><circle cx="183.1" cy="96.1" r="1.40"/><circle cx="174.5" cy="61.6" r="1.40"/><circle cx="174.7" cy="48.1" r="1.40"/><circle cx="184.3" cy="39.9" r="1.40"/><circle cx="186.7" cy="95.9" r="1.40"/><circle cx="174.1" cy="88.1" r="1.40"/><circle cx="174.6" cy="66.6" r="1.40"/><circle cx="187.1" cy="72.8" r="1.40"/><circle cx="160.6" cy="58.3" r="1.40"/><circle cx="174.8" cy="50.7" r="1.40"/><circle cx="175.6" cy="42.2" r="1.40"/><circle cx="175.1" cy="50.1" r="1.40"/><circle cx="164.4" cy="37.5" r="1.40"/><circle cx="172.5" cy="64.1" r="1.40"/><circle cx="189.4" cy="78.5" r="1.40"/><circle cx="191.0" cy="94.0" r="1.40"/><circle cx="183.5" cy="96.2" r="1.40"/><circle cx="178.4" cy="93.0" r="1.40"/><circle cx="190.5" cy="89.6" r="1.40"/><circle cx="177.5" cy="44.7" r="1.40"/><circle cx="191.3" cy="92.0" r="1.40"/><circle cx="181.7" cy="91.8" r="1.40"/><circle cx="195.0" cy="57.4" r="1.40"/><circle cx="175.9" cy="72.3" r="1.40"/><circle cx="183.6" cy="78.8" r="1.40"/><circle cx="183.4" cy="64.4" r="1.40"/><circle cx="169.3" cy="67.6" r="1.40"/><circle cx="174.0" cy="40.8" r="1.40"/><circle cx="201.4" cy="32.9" r="1.40"/><circle cx="183.7" cy="55.5" r="1.40"/><circle cx="197.7" cy="52.7" r="1.40"/><circle cx="182.9" cy="87.1" r="1.40"/><circle cx="185.9" cy="85.9" r="1.40"/><circle cx="184.8" cy="91.6" r="1.40"/><circle cx="183.3" cy="49.6" r="1.40"/><circle cx="174.6" cy="73.1" r="1.40"/><circle cx="193.0" cy="45.3" r="1.40"/><circle cx="195.5" cy="86.3" r="1.40"/><circle cx="201.8" cy="42.4" r="1.40"/><circle cx="164.0" cy="51.5" r="1.40"/><circle cx="199.1" cy="37.8" r="1.40"/><circle cx="175.0" cy="80.2" r="1.40"/><circle cx="198.0" cy="37.0" r="1.40"/><circle cx="176.1" cy="63.6" r="1.40"/><circle cx="178.2" cy="92.3" r="1.40"/><circle cx="195.3" cy="76.7" r="1.40"/><circle cx="174.3" cy="83.0" r="1.40"/><circle cx="171.6" cy="96.6" r="1.40"/><circle cx="170.6" cy="97.0" r="1.40"/><circle cx="171.4" cy="92.5" r="1.40"/><circle cx="183.5" cy="63.8" r="1.40"/><circle cx="168.1" cy="33.8" r="1.40"/><circle cx="177.1" cy="44.0" r="1.40"/><circle cx="196.4" cy="60.3" r="1.40"/><circle cx="175.1" cy="65.5" r="1.40"/><circle cx="196.9" cy="58.5" r="1.40"/><circle cx="201.6" cy="56.5" r="1.40"/><circle cx="172.5" cy="38.3" r="1.40"/><circle cx="165.9" cy="78.9" r="1.40"/><circle cx="195.1" cy="29.2" r="1.40"/><circle cx="161.2" cy="70.7" r="1.40"/><circle cx="186.2" cy="39.8" r="1.40"/><circle cx="185.6" cy="32.9" r="1.40"/><circle cx="162.6" cy="36.7" r="1.40"/><circle cx="167.5" cy="48.0" r="1.40"/><circle cx="176.8" cy="93.7" r="1.40"/><circle cx="172.5" cy="69.4" r="1.40"/><circle cx="192.0" cy="42.2" r="1.40"/><circle cx="170.6" cy="80.7" r="1.40"/><circle cx="190.4" cy="77.1" r="1.40"/><circle cx="184.4" cy="85.4" r="1.40"/><circle cx="159.4" cy="73.2" r="1.40"/><circle cx="195.2" cy="26.8" r="1.40"/><circle cx="175.4" cy="75.7" r="1.40"/><circle cx="184.9" cy="93.8" r="1.40"/><circle cx="171.0" cy="92.4" r="1.40"/><circle cx="181.6" cy="56.6" r="1.40"/><circle cx="182.6" cy="43.9" r="1.40"/><circle cx="186.4" cy="51.3" r="1.40"/><circle cx="187.9" cy="82.3" r="1.40"/><circle cx="163.7" cy="81.2" r="1.40"/><circle cx="191.1" cy="30.0" r="1.40"/><circle cx="203.9" cy="59.1" r="1.40"/><circle cx="202.6" cy="46.4" r="1.40"/><circle cx="191.1" cy="65.8" r="1.40"/><circle cx="182.5" cy="96.5" r="1.40"/><circle cx="189.4" cy="94.1" r="1.40"/><circle cx="185.2" cy="83.0" r="1.40"/><circle cx="168.3" cy="54.2" r="1.40"/><circle cx="194.9" cy="27.8" r="1.40"/><circle cx="186.9" cy="82.4" r="1.40"/><circle cx="187.6" cy="87.2" r="1.40"/><circle cx="184.8" cy="29.4" r="1.40"/><circle cx="192.7" cy="87.9" r="1.40"/><circle cx="155.7" cy="65.0" r="1.40"/><circle cx="176.8" cy="90.7" r="1.40"/><circle cx="182.7" cy="58.0" r="1.40"/><circle cx="161.3" cy="46.0" r="1.40"/><circle cx="165.6" cy="37.4" r="1.40"/><circle cx="184.3" cy="38.4" r="1.40"/><circle cx="194.2" cy="42.7" r="1.40"/><circle cx="157.9" cy="45.1" r="1.40"/><circle cx="164.5" cy="55.7" r="1.40"/><circle cx="169.9" cy="83.9" r="1.40"/><circle cx="161.2" cy="43.2" r="1.40"/><circle cx="190.7" cy="90.5" r="1.40"/><circle cx="181.5" cy="78.3" r="1.40"/><circle cx="177.3" cy="46.4" r="1.40"/><circle cx="159.5" cy="77.9" r="1.40"/><circle cx="187.6" cy="92.3" r="1.40"/><circle cx="168.0" cy="84.2" r="1.40"/><circle cx="176.7" cy="95.8" r="1.40"/><circle cx="164.6" cy="48.3" r="1.40"/><circle cx="183.4" cy="90.2" r="1.40"/><circle cx="165.1" cy="82.1" r="1.40"/><circle cx="168.1" cy="42.9" r="1.40"/><circle cx="157.8" cy="76.0" r="1.40"/><circle cx="186.1" cy="35.4" r="1.40"/><circle cx="174.3" cy="92.3" r="1.40"/><circle cx="172.0" cy="33.7" r="1.40"/><circle cx="160.2" cy="44.7" r="1.40"/><circle cx="201.3" cy="45.3" r="1.40"/><circle cx="187.7" cy="78.2" r="1.40"/><circle cx="163.3" cy="39.4" r="1.40"/><circle cx="202.3" cy="65.8" r="1.40"/><circle cx="189.9" cy="34.6" r="1.40"/><circle cx="188.8" cy="95.9" r="1.40"/><circle cx="191.0" cy="84.6" r="1.40"/><circle cx="177.2" cy="74.0" r="1.40"/><circle cx="174.0" cy="34.6" r="1.40"/><circle cx="169.0" cy="73.7" r="1.40"/><circle cx="165.5" cy="66.9" r="1.40"/><circle cx="173.2" cy="77.8" r="1.40"/><circle cx="169.2" cy="37.5" r="1.40"/><circle cx="170.9" cy="80.0" r="1.40"/><circle cx="170.9" cy="34.5" r="1.40"/><circle cx="162.8" cy="78.1" r="1.40"/><circle cx="191.8" cy="83.1" r="1.40"/><circle cx="181.5" cy="95.1" r="1.40"/><circle cx="188.5" cy="49.4" r="1.40"/><circle cx="173.7" cy="94.1" r="1.40"/><circle cx="181.1" cy="83.9" r="1.40"/><circle cx="185.2" cy="54.4" r="1.40"/><circle cx="177.9" cy="85.0" r="1.40"/><circle cx="174.3" cy="53.5" r="1.40"/><circle cx="192.8" cy="56.8" r="1.40"/><circle cx="169.5" cy="34.9" r="1.40"/><circle cx="182.6" cy="53.4" r="1.40"/><circle cx="184.1" cy="96.5" r="1.40"/><circle cx="195.2" cy="41.9" r="1.40"/><circle cx="192.6" cy="78.8" r="1.40"/><circle cx="168.7" cy="50.3" r="1.40"/><circle cx="174.5" cy="34.0" r="1.40"/><circle cx="184.1" cy="95.7" r="1.40"/><circle cx="166.1" cy="86.5" r="1.40"/><circle cx="191.0" cy="44.1" r="1.40"/><circle cx="161.0" cy="56.9" r="1.40"/><circle cx="183.9" cy="51.0" r="1.40"/><circle cx="195.6" cy="56.6" r="1.40"/><circle cx="176.9" cy="92.7" r="1.40"/><circle cx="183.1" cy="58.2" r="1.40"/><circle cx="181.2" cy="88.9" r="1.40"/><circle cx="176.3" cy="67.2" r="1.40"/><circle cx="163.5" cy="51.0" r="1.40"/><circle cx="196.9" cy="81.8" r="1.40"/><circle cx="177.0" cy="79.7" r="1.40"/><circle cx="177.2" cy="40.4" r="1.40"/><circle cx="174.1" cy="40.3" r="1.40"/><circle cx="176.2" cy="91.6" r="1.40"/><circle cx="171.4" cy="62.9" r="1.40"/><circle cx="160.7" cy="66.4" r="1.40"/><circle cx="191.1" cy="41.2" r="1.40"/><circle cx="178.6" cy="79.1" r="1.40"/><circle cx="163.0" cy="38.5" r="1.40"/><circle cx="174.4" cy="54.5" r="1.40"/><circle cx="164.2" cy="68.3" r="1.40"/><circle cx="172.1" cy="59.6" r="1.40"/><circle cx="182.4" cy="95.1" r="1.40"/><circle cx="173.4" cy="89.8" r="1.40"/><circle cx="158.9" cy="59.9" r="1.40"/><circle cx="164.3" cy="85.9" r="1.40"/><circle cx="155.8" cy="74.8" r="1.40"/><circle cx="165.1" cy="35.5" r="1.40"/><circle cx="191.6" cy="90.8" r="1.40"/><circle cx="193.7" cy="44.6" r="1.40"/><circle cx="165.0" cy="48.7" r="1.40"/><circle cx="171.8" cy="55.6" r="1.40"/><circle cx="195.3" cy="72.7" r="1.40"/><circle cx="174.0" cy="46.6" r="1.40"/><circle cx="169.1" cy="93.5" r="1.40"/><circle cx="202.7" cy="69.7" r="1.40"/><circle cx="162.3" cy="54.2" r="1.40"/><circle cx="144.0" cy="25.0" r="1.40"/><circle cx="144.0" cy="28.3" r="1.40"/><circle cx="162.0" cy="22.0" r="1.40"/><circle cx="173.7" cy="19.0" r="1.40"/><circle cx="167.1" cy="28.6" r="1.40"/><circle cx="170.3" cy="28.6" r="1.40"/><circle cx="157.0" cy="32.0" r="1.40"/><circle cx="156.4" cy="39.3" r="1.40"/><circle cx="149.0" cy="55.2" r="1.40"/><circle cx="154.1" cy="54.0" r="1.40"/><circle cx="158.1" cy="48.4" r="1.40"/><circle cx="209.1" cy="60.1" r="1.40"/><circle cx="222.7" cy="62.7" r="1.40"/><circle cx="206.8" cy="78.2" r="1.40"/><circle cx="202.3" cy="81.6" r="1.40"/><circle cx="189.9" cy="26.3" r="1.40"/><circle cx="200.6" cy="29.7" r="1.40"/><circle cx="148.0" cy="63.0" r="1.40"/><circle cx="151.0" cy="68.0" r="1.40"/><circle cx="153.0" cy="71.0" r="1.40"/><circle cx="150.0" cy="74.0" r="1.40"/></g>
<path d="M174.8,63 L179.1,62 L179.3,97.6 L174.6,97.6 Z" fill="#6c807c" />
<path d="M180.9,60.5 L184.6,61 L184.9,97.6 L180.8,97.6 Z" fill="#6c807c" />
<text x="151.90" y="37.44" stroke="#1d48b8" stroke-width="0.26" font-size="5.90" fill="#1d48b8" textLength="17.70" lengthAdjust="spacingAndGlyphs" >S100P</text>
<circle cx="164.00" cy="31.20" r="1.35" fill="#1d48b8" />
<text x="191.90" y="37.94" stroke="#d41c2b" stroke-width="0.26" font-size="5.90" fill="#d41c2b" textLength="21.00" lengthAdjust="spacingAndGlyphs" >S100A9</text>
<circle cx="214.50" cy="35.20" r="1.35" fill="#d41c2b" />
<text x="203.20" y="52.34" stroke="#d41c2b" stroke-width="0.26" font-size="5.90" fill="#d41c2b" textLength="20.80" lengthAdjust="spacingAndGlyphs" >S100A8</text>
<circle cx="209.50" cy="53.80" r="1.35" fill="#d41c2b" />
<text x="195.80" y="76.04" stroke="#1d48b8" stroke-width="0.26" font-size="5.90" fill="#1d48b8" textLength="23.40" lengthAdjust="spacingAndGlyphs" >S100A12</text>
<circle cx="211.00" cy="69.10" r="1.35" fill="#1d48b8" />
<text x="166.00" y="75.64" stroke="#1d48b8" stroke-width="0.26" font-size="5.90" fill="#1d48b8" textLength="24.30" lengthAdjust="spacingAndGlyphs" >S100A10</text>
<text x="178.20" y="83.64" stroke="#1d48b8" stroke-width="0.26" font-size="5.90" fill="#1d48b8" textLength="20.90" lengthAdjust="spacingAndGlyphs" >S100A6</text>
<circle cx="182.00" cy="77.30" r="1.35" fill="#1d48b8" />
<text x="150.10" y="89.94" stroke="#1d48b8" stroke-width="0.26" font-size="5.90" fill="#1d48b8" textLength="24.60" lengthAdjust="spacingAndGlyphs" >S100A11</text>
<text x="178.20" y="96.94" stroke="#1d48b8" stroke-width="0.26" font-size="5.90" fill="#1d48b8" textLength="17.60" lengthAdjust="spacingAndGlyphs" >S100B</text>
<text x="162.70" y="13.80" stroke="#000" stroke-width="0.45" font-size="9.00" textLength="40.30" lengthAdjust="spacingAndGlyphs" >MOLM13-RES</text>
<text x="138.30" y="23.60" stroke="#222" stroke-width="0.10" text-anchor="end" font-size="6.30" fill="#222" >60</text>
<text x="138.30" y="50.50" stroke="#222" stroke-width="0.10" text-anchor="end" font-size="6.30" fill="#222" >40</text>
<text x="138.30" y="77.50" stroke="#222" stroke-width="0.10" text-anchor="end" font-size="6.30" fill="#222" >20</text>
<text x="162.00" y="107.80" stroke="#222" stroke-width="0.10" text-anchor="middle" font-size="6.10" fill="#222" >−5</text>
<text x="181.50" y="107.80" stroke="#222" stroke-width="0.10" text-anchor="middle" font-size="6.10" fill="#222" >0</text>
<text x="200.90" y="107.80" stroke="#222" stroke-width="0.10" text-anchor="middle" font-size="6.10" fill="#222" >5</text>
<text x="221.20" y="107.80" stroke="#222" stroke-width="0.10" text-anchor="middle" font-size="6.10" fill="#222" >10</text>
<text x="0" y="0" stroke="#000" stroke-width="0.16" font-size="9.00" textLength="7.40" lengthAdjust="spacingAndGlyphs" transform="translate(127.30 63.00) rotate(-90)" >log</text>
<text x="0" y="0" stroke="#000" stroke-width="0.26" font-size="4.40" textLength="6.60" lengthAdjust="spacingAndGlyphs" transform="translate(124.10 54.90) rotate(-90)" >PV</text>
<text x="165.80" y="116.10" font-size="8.60" font-weight="bold" textLength="34.60" lengthAdjust="spacingAndGlyphs" >Fold change</text>
<text x="166.20" y="124.00" stroke="#333" stroke-width="0.26" font-size="5.80" fill="#333" textLength="35.50" lengthAdjust="spacingAndGlyphs" >Gene Targets</text>
<circle cx="167.00" cy="129.50" r="0.85" fill="#d41c2b" />
<text x="169.60" y="131.70" stroke="#222" stroke-width="0.26" font-size="6.10" fill="#222" textLength="31.20" lengthAdjust="spacingAndGlyphs" >S100A8/A9</text>
<circle cx="167.00" cy="136.70" r="0.85" fill="#1d48b8" />
<text x="169.60" y="138.70" stroke="#222" stroke-width="0.26" font-size="6.10" fill="#222" textLength="33.60" lengthAdjust="spacingAndGlyphs" >S100 Family</text>
<circle cx="314.20" cy="12.50" r="1.50" fill="#d1121e" />
<text x="320.80" y="14.60" stroke="#333" stroke-width="0.26" font-size="6.30" fill="#333" textLength="22.30" lengthAdjust="spacingAndGlyphs" >S100A8</text>
<path d="M314.20,17.22 L316.50,21.36 L311.90,21.36 Z" fill="#0b36b4"/>
<text x="320.80" y="21.80" stroke="#333" stroke-width="0.26" font-size="6.30" fill="#333" textLength="22.30" lengthAdjust="spacingAndGlyphs" >S100A9</text>
<text x="280.70" y="36.60" stroke="#000" stroke-width="0.40" font-size="8.10" textLength="20.20" lengthAdjust="spacingAndGlyphs" >MOLM13</text>
<line x1="271.50" y1="42.10" x2="271.50" y2="101.60" stroke="#000" stroke-width="1.20" />
<line x1="268.50" y1="42.60" x2="271.50" y2="42.60" stroke="#000" stroke-width="1.08" />
<text x="266.90" y="44.66" stroke="#222" stroke-width="0.26" text-anchor="end" font-size="5.80" fill="#222" >1.5</text>
<line x1="268.50" y1="62.10" x2="271.50" y2="62.10" stroke="#000" stroke-width="1.08" />
<text x="266.90" y="64.16" stroke="#222" stroke-width="0.26" text-anchor="end" font-size="5.80" fill="#222" >1.0</text>
<line x1="268.50" y1="81.60" x2="271.50" y2="81.60" stroke="#000" stroke-width="1.08" />
<text x="266.90" y="83.66" stroke="#222" stroke-width="0.26" text-anchor="end" font-size="5.80" fill="#222" >0.5</text>
<line x1="268.50" y1="101.10" x2="271.50" y2="101.10" stroke="#000" stroke-width="1.08" />
<text x="266.90" y="103.16" stroke="#222" stroke-width="0.26" text-anchor="end" font-size="5.80" fill="#222" >0.0</text>
<line x1="271.00" y1="101.10" x2="310.80" y2="101.10" stroke="#000" stroke-width="1.30" />
<text x="0" y="0" stroke="#222" stroke-width="0.26" font-size="5.90" fill="#222" textLength="50.60" lengthAdjust="spacingAndGlyphs" transform="translate(253.20 95.20) rotate(-90)" ><tspan font-style="italic">S100A8/A9</tspan> Expression</text>
<line x1="276.80" y1="101.10" x2="276.80" y2="103.10" stroke="#000" stroke-width="0.90" />
<rect x="273.70" y="99.50" width="6.20" height="3.20" fill="#d1121e" rx="1.5"/>
<line x1="286.10" y1="101.10" x2="286.10" y2="103.10" stroke="#000" stroke-width="0.90" />
<circle cx="286.00" cy="60.10" r="1.55" fill="#e84fb4" />
<circle cx="283.80" cy="66.50" r="1.55" fill="#e84fb4" />
<circle cx="288.40" cy="67.80" r="1.55" fill="#e84fb4" />
<circle cx="286.00" cy="71.90" r="1.55" fill="#e84fb4" />
<circle cx="283.80" cy="79.20" r="1.55" fill="#e84fb4" />
<circle cx="288.40" cy="79.20" r="1.55" fill="#e84fb4" />
<circle cx="286.00" cy="77.90" r="1.55" fill="#e84fb4" />
<circle cx="288.40" cy="84.40" r="1.55" fill="#e84fb4" />
<circle cx="283.80" cy="86.40" r="1.55" fill="#e84fb4" />
<line x1="283.20" y1="74.30" x2="289.00" y2="74.30" stroke="#e84fb4" stroke-width="1.00" />
<line x1="286.10" y1="71.00" x2="286.10" y2="77.90" stroke="#e84fb4" stroke-width="1.00" />
<line x1="284.30" y1="71.00" x2="287.90" y2="71.00" stroke="#e84fb4" stroke-width="0.90" />
<line x1="284.30" y1="77.90" x2="287.90" y2="77.90" stroke="#e84fb4" stroke-width="0.90" />
<line x1="295.80" y1="101.10" x2="295.80" y2="103.10" stroke="#000" stroke-width="0.90" />
<rect x="292.70" y="99.50" width="6.20" height="3.20" fill="#0b36b4" rx="1.5"/>
<line x1="305.30" y1="101.10" x2="305.30" y2="103.10" stroke="#000" stroke-width="0.90" />
<path d="M303.10,63.19 L305.05,66.70 L301.15,66.70 Z" fill="#6cb3da"/>
<path d="M307.20,62.39 L309.15,65.90 L305.25,65.90 Z" fill="#6cb3da"/>
<path d="M305.30,65.69 L307.25,69.20 L303.35,69.20 Z" fill="#6cb3da"/>
<path d="M305.90,68.09 L307.85,71.60 L303.95,71.60 Z" fill="#6cb3da"/>
<path d="M303.10,72.19 L305.05,75.70 L301.15,75.70 Z" fill="#6cb3da"/>
<path d="M307.20,72.99 L309.15,76.50 L305.25,76.50 Z" fill="#6cb3da"/>
<path d="M305.30,76.29 L307.25,79.80 L303.35,79.80 Z" fill="#6cb3da"/>
<path d="M307.20,81.69 L309.15,85.20 L305.25,85.20 Z" fill="#6cb3da"/>
<path d="M302.60,84.49 L304.55,88.00 L300.65,88.00 Z" fill="#6cb3da"/>
<line x1="302.40" y1="75.10" x2="308.20" y2="75.10" stroke="#6cb3da" stroke-width="1.00" />
<line x1="305.30" y1="71.00" x2="305.30" y2="79.00" stroke="#6cb3da" stroke-width="1.00" />
<line x1="303.50" y1="71.00" x2="307.10" y2="71.00" stroke="#6cb3da" stroke-width="0.90" />
<line x1="303.50" y1="79.00" x2="307.10" y2="79.00" stroke="#6cb3da" stroke-width="0.90" />
<path d="M276.50,55.80 L276.50,53.60 L286.30,53.60 L286.30,55.80" fill="none" stroke="#000" stroke-width="1.05" />
<text x="281.40" y="52.98" stroke="#000" stroke-width="0.26" text-anchor="middle" font-size="5.50" >***</text>
<path d="M295.30,55.80 L295.30,53.60 L305.30,53.60 L305.30,55.80" fill="none" stroke="#000" stroke-width="1.05" />
<text x="300.30" y="52.98" stroke="#000" stroke-width="0.26" text-anchor="middle" font-size="5.50" >***</text>
<text x="0" y="0" stroke="#222" stroke-width="0.26" text-anchor="end" font-size="5.90" fill="#222" textLength="20.50" lengthAdjust="spacingAndGlyphs" transform="translate(277.60 106.60) rotate(-45)" >Vehicle</text>
<text x="0" y="0" stroke="#222" stroke-width="0.26" text-anchor="end" font-size="5.90" fill="#222" textLength="27.50" lengthAdjust="spacingAndGlyphs" transform="translate(287.20 106.60) rotate(-45)" >Gilteritinib</text>
<text x="0" y="0" stroke="#222" stroke-width="0.26" text-anchor="end" font-size="5.90" fill="#222" textLength="20.50" lengthAdjust="spacingAndGlyphs" transform="translate(296.60 106.60) rotate(-45)" >Vehicle</text>
<text x="0" y="0" stroke="#222" stroke-width="0.26" text-anchor="end" font-size="5.90" fill="#222" textLength="27.50" lengthAdjust="spacingAndGlyphs" transform="translate(306.20 106.60) rotate(-45)" >Gilteritinib</text>
<text x="352.00" y="35.20" stroke="#000" stroke-width="0.40" font-size="8.10" textLength="32.20" lengthAdjust="spacingAndGlyphs" >MOLM13-RES</text>
<line x1="347.20" y1="41.00" x2="347.20" y2="100.20" stroke="#000" stroke-width="1.20" />
<line x1="344.20" y1="41.50" x2="347.20" y2="41.50" stroke="#000" stroke-width="1.08" />
<text x="342.60" y="43.56" stroke="#222" stroke-width="0.26" text-anchor="end" font-size="5.80" fill="#222" >0.25</text>
<line x1="344.20" y1="53.10" x2="347.20" y2="53.10" stroke="#000" stroke-width="1.08" />
<text x="342.60" y="55.16" stroke="#222" stroke-width="0.26" text-anchor="end" font-size="5.80" fill="#222" >0.20</text>
<line x1="344.20" y1="64.80" x2="347.20" y2="64.80" stroke="#000" stroke-width="1.08" />
<text x="342.60" y="66.86" stroke="#222" stroke-width="0.26" text-anchor="end" font-size="5.80" fill="#222" >0.15</text>
<line x1="344.20" y1="76.40" x2="347.20" y2="76.40" stroke="#000" stroke-width="1.08" />
<text x="342.60" y="78.46" stroke="#222" stroke-width="0.26" text-anchor="end" font-size="5.80" fill="#222" >0.10</text>
<line x1="344.20" y1="88.10" x2="347.20" y2="88.10" stroke="#000" stroke-width="1.08" />
<text x="342.60" y="90.16" stroke="#222" stroke-width="0.26" text-anchor="end" font-size="5.80" fill="#222" >0.05</text>
<line x1="344.20" y1="99.70" x2="347.20" y2="99.70" stroke="#000" stroke-width="1.08" />
<text x="342.60" y="101.76" stroke="#222" stroke-width="0.26" text-anchor="end" font-size="5.80" fill="#222" >0.00</text>
<line x1="346.70" y1="99.70" x2="386.80" y2="99.70" stroke="#000" stroke-width="1.30" />
<text x="0" y="0" stroke="#222" stroke-width="0.26" font-size="5.90" fill="#222" textLength="47.60" lengthAdjust="spacingAndGlyphs" transform="translate(327.60 97.60) rotate(-90)" ><tspan font-style="italic">S100A8/A9</tspan> Expression</text>
<line x1="354.40" y1="99.70" x2="354.40" y2="101.70" stroke="#000" stroke-width="0.90" />
<rect x="351.30" y="98.10" width="6.20" height="3.20" fill="#d1121e" rx="1.5"/>
<line x1="363.90" y1="99.70" x2="363.90" y2="101.70" stroke="#000" stroke-width="0.90" />
<circle cx="361.30" cy="56.30" r="1.55" fill="#e84fb4" />
<circle cx="365.50" cy="55.50" r="1.55" fill="#e84fb4" />
<circle cx="363.90" cy="62.40" r="1.55" fill="#e84fb4" />
<circle cx="363.90" cy="70.20" r="1.55" fill="#e84fb4" />
<circle cx="361.80" cy="75.10" r="1.55" fill="#e84fb4" />
<circle cx="365.90" cy="75.10" r="1.55" fill="#e84fb4" />
<circle cx="363.90" cy="80.00" r="1.55" fill="#e84fb4" />
<circle cx="363.90" cy="83.80" r="1.55" fill="#e84fb4" />
<circle cx="361.30" cy="87.70" r="1.55" fill="#e84fb4" />
<circle cx="365.90" cy="89.80" r="1.55" fill="#e84fb4" />
<circle cx="361.80" cy="91.50" r="1.55" fill="#e84fb4" />
<line x1="361.00" y1="75.10" x2="366.80" y2="75.10" stroke="#e84fb4" stroke-width="1.00" />
<line x1="363.90" y1="70.20" x2="363.90" y2="80.80" stroke="#e84fb4" stroke-width="1.00" />
<line x1="362.10" y1="70.20" x2="365.70" y2="70.20" stroke="#e84fb4" stroke-width="0.90" />
<line x1="362.10" y1="80.80" x2="365.70" y2="80.80" stroke="#e84fb4" stroke-width="0.90" />
<line x1="373.70" y1="99.70" x2="373.70" y2="101.70" stroke="#000" stroke-width="0.90" />
<rect x="370.60" y="98.10" width="6.20" height="3.20" fill="#0b36b4" rx="1.5"/>
<line x1="383.00" y1="99.70" x2="383.00" y2="101.70" stroke="#000" stroke-width="0.90" />
<path d="M380.30,68.59 L382.25,72.10 L378.35,72.10 Z" fill="#6cb3da"/>
<path d="M385.20,68.09 L387.15,71.60 L383.25,71.60 Z" fill="#6cb3da"/>
<path d="M382.20,71.39 L384.15,74.90 L380.25,74.90 Z" fill="#6cb3da"/>
<path d="M386.80,71.39 L388.75,74.90 L384.85,74.90 Z" fill="#6cb3da"/>
<path d="M380.60,76.29 L382.55,79.80 L378.65,79.80 Z" fill="#6cb3da"/>
<path d="M385.20,76.79 L387.15,80.30 L383.25,80.30 Z" fill="#6cb3da"/>
<path d="M382.20,79.59 L384.15,83.10 L380.25,83.10 Z" fill="#6cb3da"/>
<path d="M385.20,81.69 L387.15,85.20 L383.25,85.20 Z" fill="#6cb3da"/>
<path d="M380.30,82.79 L382.25,86.30 L378.35,86.30 Z" fill="#6cb3da"/>
<path d="M385.50,88.19 L387.45,91.70 L383.55,91.70 Z" fill="#6cb3da"/>
<path d="M382.20,93.09 L384.15,96.60 L380.25,96.60 Z" fill="#6cb3da"/>
<line x1="380.10" y1="80.80" x2="385.90" y2="80.80" stroke="#6cb3da" stroke-width="1.00" />
<line x1="383.00" y1="75.50" x2="383.00" y2="86.50" stroke="#6cb3da" stroke-width="1.00" />
<line x1="381.20" y1="75.50" x2="384.80" y2="75.50" stroke="#6cb3da" stroke-width="0.90" />
<line x1="381.20" y1="86.50" x2="384.80" y2="86.50" stroke="#6cb3da" stroke-width="0.90" />
<path d="M354.10,53.90 L354.10,51.40 L363.90,51.40 L363.90,53.90" fill="none" stroke="#000" stroke-width="1.05" />
<text x="359.00" y="50.78" stroke="#000" stroke-width="0.26" text-anchor="middle" font-size="5.50" >**</text>
<path d="M372.90,53.90 L372.90,51.40 L382.70,51.40 L382.70,53.90" fill="none" stroke="#000" stroke-width="1.05" />
<text x="377.80" y="50.78" stroke="#000" stroke-width="0.26" text-anchor="middle" font-size="5.50" >***</text>
<text x="0" y="0" stroke="#222" stroke-width="0.26" text-anchor="end" font-size="5.90" fill="#222" textLength="20.50" lengthAdjust="spacingAndGlyphs" transform="translate(355.20 105.20) rotate(-45)" >Vehicle</text>
<text x="0" y="0" stroke="#222" stroke-width="0.26" text-anchor="end" font-size="5.90" fill="#222" textLength="27.50" lengthAdjust="spacingAndGlyphs" transform="translate(364.70 105.20) rotate(-45)" >Gilteritinib</text>
<text x="0" y="0" stroke="#222" stroke-width="0.26" text-anchor="end" font-size="5.90" fill="#222" textLength="20.50" lengthAdjust="spacingAndGlyphs" transform="translate(374.50 105.20) rotate(-45)" >Vehicle</text>
<text x="0" y="0" stroke="#222" stroke-width="0.26" text-anchor="end" font-size="5.90" fill="#222" textLength="27.50" lengthAdjust="spacingAndGlyphs" transform="translate(383.80 105.20) rotate(-45)" >Gilteritinib</text>
<text x="460.30" y="21.80" stroke="#000" stroke-width="0.40" font-size="7.00" textLength="30.80" lengthAdjust="spacingAndGlyphs" >MOLM13-RES</text>
<text x="451.60" y="32.30" stroke="#111" stroke-width="0.16" font-size="7.70" fill="#111" textLength="23.50" lengthAdjust="spacingAndGlyphs" >Vehicle</text>
<text x="489.80" y="32.30" stroke="#111" stroke-width="0.16" font-size="7.70" fill="#111" textLength="11.50" lengthAdjust="spacingAndGlyphs" >Gilt</text>
<line x1="444.20" y1="35.30" x2="481.70" y2="35.30" stroke="#000" stroke-width="1.40" />
<line x1="483.90" y1="35.30" x2="511.30" y2="35.30" stroke="#000" stroke-width="1.40" />
<text x="448.45" y="42.79" stroke="#111" stroke-width="0.26" text-anchor="middle" font-size="5.80" fill="#111" textLength="8.60" lengthAdjust="spacingAndGlyphs" >1.3</text>
<text x="458.15" y="42.79" stroke="#111" stroke-width="0.26" text-anchor="middle" font-size="5.80" fill="#111" textLength="8.60" lengthAdjust="spacingAndGlyphs" >0.8</text>
<text x="468.55" y="42.79" stroke="#111" stroke-width="0.26" text-anchor="middle" font-size="5.80" fill="#111" textLength="8.60" lengthAdjust="spacingAndGlyphs" >0.8</text>
<text x="478.15" y="42.79" stroke="#111" stroke-width="0.26" text-anchor="middle" font-size="5.80" fill="#111" textLength="8.60" lengthAdjust="spacingAndGlyphs" >1.1</text>
<text x="488.20" y="42.79" stroke="#111" stroke-width="0.26" text-anchor="middle" font-size="5.80" fill="#111" textLength="8.60" lengthAdjust="spacingAndGlyphs" >1.1</text>
<text x="498.00" y="42.79" stroke="#111" stroke-width="0.26" text-anchor="middle" font-size="5.80" fill="#111" textLength="8.60" lengthAdjust="spacingAndGlyphs" >0.9</text>
<text x="507.45" y="42.79" stroke="#111" stroke-width="0.26" text-anchor="middle" font-size="5.80" fill="#111" textLength="8.60" lengthAdjust="spacingAndGlyphs" >0.8</text>
<text x="448.45" y="58.09" stroke="#111" stroke-width="0.26" text-anchor="middle" font-size="5.80" fill="#111" textLength="8.60" lengthAdjust="spacingAndGlyphs" >1.5</text>
<text x="458.15" y="58.09" stroke="#111" stroke-width="0.26" text-anchor="middle" font-size="5.80" fill="#111" textLength="8.60" lengthAdjust="spacingAndGlyphs" >0.7</text>
<text x="468.55" y="58.09" stroke="#111" stroke-width="0.26" text-anchor="middle" font-size="5.80" fill="#111" textLength="8.60" lengthAdjust="spacingAndGlyphs" >0.6</text>
<text x="478.15" y="58.09" stroke="#111" stroke-width="0.26" text-anchor="middle" font-size="5.80" fill="#111" textLength="8.60" lengthAdjust="spacingAndGlyphs" >1.2</text>
<text x="488.20" y="58.09" stroke="#111" stroke-width="0.26" text-anchor="middle" font-size="5.80" fill="#111" textLength="6.20" lengthAdjust="spacingAndGlyphs" >13</text>
<text x="498.00" y="58.09" stroke="#111" stroke-width="0.26" text-anchor="middle" font-size="5.80" fill="#111" textLength="8.60" lengthAdjust="spacingAndGlyphs" >8.0</text>
<text x="507.45" y="58.09" stroke="#111" stroke-width="0.26" text-anchor="middle" font-size="5.80" fill="#111" textLength="8.60" lengthAdjust="spacingAndGlyphs" >5.0</text>
<text x="417.60" y="51.30" stroke="#222" stroke-width="0.26" font-size="6.50" fill="#222" textLength="23.00" lengthAdjust="spacingAndGlyphs" >S100A8</text>
<text x="417.60" y="64.60" stroke="#222" stroke-width="0.26" font-size="6.50" fill="#222" textLength="23.00" lengthAdjust="spacingAndGlyphs" >S100A9</text>
<text x="426.80" y="74.80" font-size="7.50" font-weight="bold" fill="#222" textLength="13.80" lengthAdjust="spacingAndGlyphs" >Actin</text>
<defs><filter id="bl" x="-20%" y="-50%" width="140%" height="200%"><feGaussianBlur stdDeviation="0.45"/></filter><linearGradient id="gA8" x1="0" y1="0" x2="0" y2="1"><stop offset="0" stop-color="#c9d0cf"/><stop offset="1" stop-color="#aab4b3"/></linearGradient></defs>
<rect x="444.20" y="44.00" width="67.60" height="7.90" fill="#a9b4b3" />
<rect x="444.50" y="45.00" width="7.90" height="6.00" rx="2.20" fill="#050505" fill-opacity="1.00" filter="url(#bl)"/>
<rect x="453.80" y="45.00" width="8.70" height="6.00" rx="2.20" fill="#050505" fill-opacity="1.00" filter="url(#bl)"/>
<rect x="465.20" y="46.00" width="6.70" height="4.60" rx="2.00" fill="#050505" fill-opacity="1.00" filter="url(#bl)"/>
<rect x="474.10" y="45.00" width="8.10" height="6.00" rx="2.20" fill="#050505" fill-opacity="1.00" filter="url(#bl)"/>
<rect x="483.80" y="45.00" width="8.80" height="6.00" rx="2.20" fill="#050505" fill-opacity="1.00" filter="url(#bl)"/>
<rect x="494.70" y="46.00" width="6.60" height="4.60" rx="2.00" fill="#050505" fill-opacity="1.00" filter="url(#bl)"/>
<rect x="503.60" y="45.00" width="7.70" height="6.00" rx="2.20" fill="#050505" fill-opacity="1.00" filter="url(#bl)"/>
<rect x="444.20" y="58.90" width="67.60" height="5.60" fill="#c3cccb" />
<rect x="444.50" y="59.80" width="7.90" height="1.80" rx="1.50" fill="#080808" fill-opacity="0.85" filter="url(#bl)"/>
<rect x="453.80" y="60.30" width="8.70" height="1.30" rx="1.50" fill="#080808" fill-opacity="0.25" filter="url(#bl)"/>
<rect x="464.90" y="60.40" width="7.30" height="1.20" rx="1.50" fill="#080808" fill-opacity="0.20" filter="url(#bl)"/>
<rect x="474.10" y="60.40" width="8.10" height="1.60" rx="1.50" fill="#080808" fill-opacity="0.70" filter="url(#bl)"/>
<rect x="483.80" y="58.60" width="8.80" height="5.80" rx="1.50" fill="#080808" fill-opacity="1.00" filter="url(#bl)"/>
<rect x="494.40" y="59.40" width="7.20" height="4.20" rx="1.50" fill="#080808" fill-opacity="1.00" filter="url(#bl)"/>
<rect x="503.60" y="59.80" width="7.70" height="3.80" rx="1.50" fill="#080808" fill-opacity="1.00" filter="url(#bl)"/>
<rect x="444.20" y="68.00" width="67.60" height="7.50" fill="#cdd5d4" />
<rect x="444.80" y="70.50" width="7.30" height="1.80" rx="0.90" fill="#111" fill-opacity="0.95" filter="url(#bl)"/>
<rect x="454.10" y="70.50" width="8.10" height="1.80" rx="0.90" fill="#111" fill-opacity="0.95" filter="url(#bl)"/>
<rect x="465.20" y="70.50" width="6.70" height="1.80" rx="0.90" fill="#111" fill-opacity="0.95" filter="url(#bl)"/>
<rect x="474.40" y="70.50" width="7.50" height="1.80" rx="0.90" fill="#111" fill-opacity="0.95" filter="url(#bl)"/>
<rect x="484.10" y="71.70" width="8.20" height="1.80" rx="0.90" fill="#111" fill-opacity="0.95" filter="url(#bl)"/>
<rect x="494.70" y="71.70" width="6.60" height="1.80" rx="0.90" fill="#111" fill-opacity="0.95" filter="url(#bl)"/>
<rect x="503.90" y="71.70" width="7.10" height="1.80" rx="0.90" fill="#111" fill-opacity="0.95" filter="url(#bl)"/>
<line x1="44.20" y1="156.50" x2="44.20" y2="211.90" stroke="#000" stroke-width="1.20" />
<line x1="41.60" y1="157.00" x2="44.20" y2="157.00" stroke="#000" stroke-width="1.08" />
<text x="40.00" y="158.85" stroke="#222" stroke-width="0.26" text-anchor="end" font-size="5.20" fill="#222" >0.4</text>
<line x1="41.60" y1="170.60" x2="44.20" y2="170.60" stroke="#000" stroke-width="1.08" />
<text x="40.00" y="172.45" stroke="#222" stroke-width="0.26" text-anchor="end" font-size="5.20" fill="#222" >0.3</text>
<line x1="41.60" y1="184.20" x2="44.20" y2="184.20" stroke="#000" stroke-width="1.08" />
<text x="40.00" y="186.05" stroke="#222" stroke-width="0.26" text-anchor="end" font-size="5.20" fill="#222" >0.2</text>
<line x1="41.60" y1="197.80" x2="44.20" y2="197.80" stroke="#000" stroke-width="1.08" />
<text x="40.00" y="199.65" stroke="#222" stroke-width="0.26" text-anchor="end" font-size="5.20" fill="#222" >0.1</text>
<line x1="41.60" y1="211.40" x2="44.20" y2="211.40" stroke="#000" stroke-width="1.08" />
<text x="40.00" y="213.25" stroke="#222" stroke-width="0.26" text-anchor="end" font-size="5.20" fill="#222" >0.0</text>
<line x1="43.70" y1="211.40" x2="105.30" y2="211.40" stroke="#000" stroke-width="1.30" />
<text x="0" y="0" stroke="#222" stroke-width="0.26" font-size="5.40" fill="#222" textLength="42.70" lengthAdjust="spacingAndGlyphs" transform="translate(28.40 204.00) rotate(-90)" ><tspan font-style="italic">S100A8</tspan> Expression</text>
<rect x="46.50" y="210.20" width="4.20" height="1.20" fill="#d1121e" />
<rect x="52.10" y="208.00" width="4.30" height="3.40" fill="#0b36b4" />
<line x1="54.25" y1="207.00" x2="54.25" y2="209.00" stroke="#000" stroke-width="0.90" />
<line x1="52.95" y1="207.00" x2="55.55" y2="207.00" stroke="#000" stroke-width="0.90" />
<line x1="52.95" y1="209.00" x2="55.55" y2="209.00" stroke="#000" stroke-width="0.90" />
<rect x="61.50" y="208.00" width="4.40" height="3.40" fill="#d1121e" />
<line x1="63.70" y1="207.00" x2="63.70" y2="209.00" stroke="#000" stroke-width="0.90" />
<line x1="62.40" y1="207.00" x2="65.00" y2="207.00" stroke="#000" stroke-width="0.90" />
<line x1="62.40" y1="209.00" x2="65.00" y2="209.00" stroke="#000" stroke-width="0.90" />
<rect x="67.50" y="205.30" width="4.30" height="6.10" fill="#0b36b4" />
<line x1="69.65" y1="204.60" x2="69.65" y2="206.00" stroke="#000" stroke-width="0.90" />
<line x1="68.35" y1="204.60" x2="70.95" y2="204.60" stroke="#000" stroke-width="0.90" />
<line x1="68.35" y1="206.00" x2="70.95" y2="206.00" stroke="#000" stroke-width="0.90" />
<rect x="76.90" y="202.90" width="4.30" height="8.50" fill="#d1121e" />
<line x1="79.05" y1="202.00" x2="79.05" y2="203.80" stroke="#000" stroke-width="0.90" />
<line x1="77.75" y1="202.00" x2="80.35" y2="202.00" stroke="#000" stroke-width="0.90" />
<line x1="77.75" y1="203.80" x2="80.35" y2="203.80" stroke="#000" stroke-width="0.90" />
<rect x="83.00" y="170.40" width="4.30" height="41.00" fill="#0b36b4" />
<line x1="85.15" y1="162.50" x2="85.15" y2="178.70" stroke="#000" stroke-width="0.90" />
<line x1="83.85" y1="162.50" x2="86.45" y2="162.50" stroke="#000" stroke-width="0.90" />
<line x1="83.85" y1="178.70" x2="86.45" y2="178.70" stroke="#000" stroke-width="0.90" />
<rect x="92.40" y="202.90" width="4.30" height="8.50" fill="#d1121e" />
<line x1="94.55" y1="202.20" x2="94.55" y2="203.60" stroke="#000" stroke-width="0.90" />
<line x1="93.25" y1="202.20" x2="95.85" y2="202.20" stroke="#000" stroke-width="0.90" />
<line x1="93.25" y1="203.60" x2="95.85" y2="203.60" stroke="#000" stroke-width="0.90" />
<rect x="98.40" y="194.10" width="4.30" height="17.30" fill="#0b36b4" />
<line x1="100.55" y1="190.50" x2="100.55" y2="197.50" stroke="#000" stroke-width="0.90" />
<line x1="99.25" y1="190.50" x2="101.85" y2="190.50" stroke="#000" stroke-width="0.90" />
<line x1="99.25" y1="197.50" x2="101.85" y2="197.50" stroke="#000" stroke-width="0.90" />
<path d="M48.30,198.80 L48.30,196.80 L54.50,196.80 L54.50,198.80" fill="none" stroke="#000" stroke-width="1.05" />
<text x="51.40" y="196.14" stroke="#000" stroke-width="0.26" text-anchor="middle" font-size="5.40" >***</text>
<path d="M62.60,198.80 L62.60,196.80 L68.50,196.80 L68.50,198.80" fill="none" stroke="#000" stroke-width="1.05" />
<text x="65.55" y="196.14" stroke="#000" stroke-width="0.26" text-anchor="middle" font-size="5.40" >***</text>
<path d="M79.00,159.70 L79.00,157.50 L85.20,157.50 L85.20,159.70" fill="none" stroke="#000" stroke-width="1.05" />
<text x="82.10" y="156.84" stroke="#000" stroke-width="0.26" text-anchor="middle" font-size="5.40" >**</text>
<path d="M94.50,187.40 L94.50,185.40 L100.60,185.40 L100.60,187.40" fill="none" stroke="#000" stroke-width="1.05" />
<text x="97.55" y="184.74" stroke="#000" stroke-width="0.26" text-anchor="middle" font-size="5.40" >*</text>
<rect x="48.10" y="158.50" width="6.20" height="3.20" fill="#d1121e" />
<rect x="48.10" y="166.10" width="6.20" height="3.20" fill="#0b36b4" />
<text x="56.90" y="162.10" stroke="#222" stroke-width="0.26" font-size="5.60" fill="#222" textLength="15.80" lengthAdjust="spacingAndGlyphs" >DMSO</text>
<text x="56.90" y="169.70" stroke="#222" stroke-width="0.26" font-size="5.60" font-style="italic" fill="#222" textLength="22.00" lengthAdjust="spacingAndGlyphs" >Gilteritinib</text>
<text x="0" y="0" stroke="#222" stroke-width="0.26" text-anchor="end" font-size="6.00" fill="#222" textLength="25.50" lengthAdjust="spacingAndGlyphs" transform="translate(52.40 217.00) rotate(-45)" >MOLM13</text>
<text x="0" y="0" stroke="#222" stroke-width="0.26" text-anchor="end" font-size="6.00" fill="#222" textLength="42.00" lengthAdjust="spacingAndGlyphs" transform="translate(68.20 217.00) rotate(-45)" >MOLM13-RES</text>
<text x="0" y="0" stroke="#222" stroke-width="0.26" text-anchor="end" font-size="6.00" fill="#222" textLength="44.00" lengthAdjust="spacingAndGlyphs" transform="translate(84.00 217.00) rotate(-45)" >BAF3/FLT3-ITD</text>
<text x="0" y="0" stroke="#222" stroke-width="0.26" text-anchor="end" font-size="6.00" fill="#222" textLength="64.00" lengthAdjust="spacingAndGlyphs" transform="translate(99.40 217.50) rotate(-45)" >BAF3/FLT3-ITD/D835Y</text>
<line x1="141.40" y1="156.30" x2="141.40" y2="211.40" stroke="#000" stroke-width="1.20" />
<line x1="138.80" y1="156.80" x2="141.40" y2="156.80" stroke="#000" stroke-width="1.08" />
<text x="137.20" y="158.65" stroke="#222" stroke-width="0.26" text-anchor="end" font-size="5.20" fill="#222" >0.20</text>
<line x1="138.80" y1="170.33" x2="141.40" y2="170.33" stroke="#000" stroke-width="1.08" />
<text x="137.20" y="172.17" stroke="#222" stroke-width="0.26" text-anchor="end" font-size="5.20" fill="#222" >0.15</text>
<line x1="138.80" y1="183.85" x2="141.40" y2="183.85" stroke="#000" stroke-width="1.08" />
<text x="137.20" y="185.70" stroke="#222" stroke-width="0.26" text-anchor="end" font-size="5.20" fill="#222" >0.10</text>
<line x1="138.80" y1="197.38" x2="141.40" y2="197.38" stroke="#000" stroke-width="1.08" />
<text x="137.20" y="199.22" stroke="#222" stroke-width="0.26" text-anchor="end" font-size="5.20" fill="#222" >0.05</text>
<line x1="138.80" y1="210.90" x2="141.40" y2="210.90" stroke="#000" stroke-width="1.08" />
<text x="137.20" y="212.75" stroke="#222" stroke-width="0.26" text-anchor="end" font-size="5.20" fill="#222" >0.00</text>
<line x1="140.90" y1="210.90" x2="202.00" y2="210.90" stroke="#000" stroke-width="1.30" />
<text x="0" y="0" stroke="#222" stroke-width="0.26" font-size="5.40" fill="#222" textLength="41.30" lengthAdjust="spacingAndGlyphs" transform="translate(123.40 202.50) rotate(-90)" ><tspan font-style="italic">S100A9</tspan> Expression</text>
<rect x="144.00" y="210.40" width="4.20" height="0.50" fill="#d1121e" />
<rect x="149.20" y="210.00" width="4.20" height="0.90" fill="#0b36b4" />
<rect x="158.60" y="207.80" width="4.20" height="3.10" fill="#d1121e" />
<line x1="160.70" y1="207.00" x2="160.70" y2="208.60" stroke="#000" stroke-width="0.90" />
<line x1="159.40" y1="207.00" x2="162.00" y2="207.00" stroke="#000" stroke-width="0.90" />
<line x1="159.40" y1="208.60" x2="162.00" y2="208.60" stroke="#000" stroke-width="0.90" />
<rect x="164.40" y="204.60" width="4.20" height="6.30" fill="#0b36b4" />
<line x1="166.50" y1="204.00" x2="166.50" y2="205.20" stroke="#000" stroke-width="0.90" />
<line x1="165.20" y1="204.00" x2="167.80" y2="204.00" stroke="#000" stroke-width="0.90" />
<line x1="165.20" y1="205.20" x2="167.80" y2="205.20" stroke="#000" stroke-width="0.90" />
<rect x="174.20" y="203.40" width="4.20" height="7.50" fill="#d1121e" />
<line x1="176.30" y1="202.50" x2="176.30" y2="204.20" stroke="#000" stroke-width="0.90" />
<line x1="175.00" y1="202.50" x2="177.60" y2="202.50" stroke="#000" stroke-width="0.90" />
<line x1="175.00" y1="204.20" x2="177.60" y2="204.20" stroke="#000" stroke-width="0.90" />
<rect x="180.20" y="177.50" width="4.20" height="33.40" fill="#0b36b4" />
<line x1="182.30" y1="170.50" x2="182.30" y2="184.90" stroke="#000" stroke-width="0.90" />
<line x1="181.00" y1="170.50" x2="183.60" y2="170.50" stroke="#000" stroke-width="0.90" />
<line x1="181.00" y1="184.90" x2="183.60" y2="184.90" stroke="#000" stroke-width="0.90" />
<rect x="189.90" y="202.10" width="4.20" height="8.80" fill="#d1121e" />
<line x1="192.00" y1="200.40" x2="192.00" y2="203.80" stroke="#000" stroke-width="0.90" />
<line x1="190.70" y1="200.40" x2="193.30" y2="200.40" stroke="#000" stroke-width="0.90" />
<line x1="190.70" y1="203.80" x2="193.30" y2="203.80" stroke="#000" stroke-width="0.90" />
<rect x="195.70" y="173.10" width="4.20" height="37.80" fill="#0b36b4" />
<line x1="197.80" y1="172.60" x2="197.80" y2="173.60" stroke="#000" stroke-width="0.90" />
<line x1="196.50" y1="172.60" x2="199.10" y2="172.60" stroke="#000" stroke-width="0.90" />
<line x1="196.50" y1="173.60" x2="199.10" y2="173.60" stroke="#000" stroke-width="0.90" />
<path d="M145.80,201.50 L145.80,199.30 L151.00,199.30 L151.00,201.50" fill="none" stroke="#000" stroke-width="1.05" />
<text x="148.40" y="198.64" stroke="#000" stroke-width="0.26" text-anchor="middle" font-size="5.40" >***</text>
<path d="M160.60,201.50 L160.60,199.30 L166.40,199.30 L166.40,201.50" fill="none" stroke="#000" stroke-width="1.05" />
<text x="163.50" y="198.64" stroke="#000" stroke-width="0.26" text-anchor="middle" font-size="5.40" >***</text>
<path d="M177.80,167.30 L177.80,165.20 L182.70,165.20 L182.70,167.30" fill="none" stroke="#000" stroke-width="1.05" />
<text x="180.25" y="164.54" stroke="#000" stroke-width="0.26" text-anchor="middle" font-size="5.40" >**</text>
<path d="M192.60,167.30 L192.60,165.20 L197.80,165.20 L197.80,167.30" fill="none" stroke="#000" stroke-width="1.05" />
<text x="195.20" y="164.54" stroke="#000" stroke-width="0.26" text-anchor="middle" font-size="5.40" >***</text>
<rect x="144.00" y="159.10" width="6.20" height="3.20" fill="#d1121e" />
<rect x="144.00" y="166.40" width="6.20" height="3.20" fill="#0b36b4" />
<text x="152.80" y="162.70" stroke="#222" stroke-width="0.26" font-size="5.60" fill="#222" textLength="15.30" lengthAdjust="spacingAndGlyphs" >DMSO</text>
<text x="152.80" y="170.00" stroke="#222" stroke-width="0.26" font-size="5.60" font-style="italic" fill="#222" textLength="22.80" lengthAdjust="spacingAndGlyphs" >Gilteritinib</text>
<text x="0" y="0" stroke="#222" stroke-width="0.26" text-anchor="end" font-size="6.00" fill="#222" textLength="25.50" lengthAdjust="spacingAndGlyphs" transform="translate(150.00 217.00) rotate(-45)" >MOLM13</text>
<text x="0" y="0" stroke="#222" stroke-width="0.26" text-anchor="end" font-size="6.00" fill="#222" textLength="42.00" lengthAdjust="spacingAndGlyphs" transform="translate(165.00 217.00) rotate(-45)" >MOLM13-RES</text>
<text x="0" y="0" stroke="#222" stroke-width="0.26" text-anchor="end" font-size="6.00" fill="#222" textLength="44.00" lengthAdjust="spacingAndGlyphs" transform="translate(181.00 217.00) rotate(-45)" >BAF3/FLT3-ITD</text>
<text x="0" y="0" stroke="#222" stroke-width="0.26" text-anchor="end" font-size="6.00" fill="#222" textLength="64.00" lengthAdjust="spacingAndGlyphs" transform="translate(196.50 217.00) rotate(-45)" >BAF3/FLT3-ITD/D835Y</text>
<text x="290.70" y="142.00" stroke="#111" stroke-width="0.26" font-size="6.50" fill="#111" textLength="19.40" lengthAdjust="spacingAndGlyphs" >DMSO</text>
<text x="331.00" y="142.00" stroke="#111" stroke-width="0.26" font-size="6.30" fill="#111" textLength="27.50" lengthAdjust="spacingAndGlyphs" >Gilteritinib</text>
<line x1="289.80" y1="144.30" x2="310.60" y2="144.30" stroke="#000" stroke-width="1.30" />
<line x1="314.20" y1="144.30" x2="377.50" y2="144.30" stroke="#000" stroke-width="1.30" />
<text x="0" y="0" stroke="#111" stroke-width="0.05" font-size="6.60" font-weight="bold" fill="#111" textLength="8.00" lengthAdjust="spacingAndGlyphs" transform="translate(297.90 158.30) rotate(-90)" >1 h</text>
<text x="0" y="0" stroke="#111" stroke-width="0.05" font-size="6.60" font-weight="bold" fill="#111" textLength="11.40" lengthAdjust="spacingAndGlyphs" transform="translate(308.75 158.30) rotate(-90)" >24 h</text>
<text x="0" y="0" stroke="#111" stroke-width="0.05" font-size="6.60" font-weight="bold" fill="#111" textLength="8.00" lengthAdjust="spacingAndGlyphs" transform="translate(319.60 158.30) rotate(-90)" >1 h</text>
<text x="0" y="0" stroke="#111" stroke-width="0.05" font-size="6.60" font-weight="bold" fill="#111" textLength="8.00" lengthAdjust="spacingAndGlyphs" transform="translate(330.45 158.30) rotate(-90)" >2 h</text>
<text x="0" y="0" stroke="#111" stroke-width="0.05" font-size="6.60" font-weight="bold" fill="#111" textLength="8.00" lengthAdjust="spacingAndGlyphs" transform="translate(341.30 158.30) rotate(-90)" >4 h</text>
<text x="0" y="0" stroke="#111" stroke-width="0.05" font-size="6.60" font-weight="bold" fill="#111" textLength="8.00" lengthAdjust="spacingAndGlyphs" transform="translate(352.15 158.30) rotate(-90)" >6 h</text>
<text x="0" y="0" stroke="#111" stroke-width="0.05" font-size="6.60" font-weight="bold" fill="#111" textLength="8.00" lengthAdjust="spacingAndGlyphs" transform="translate(363.00 158.30) rotate(-90)" >8 h</text>
<text x="0" y="0" stroke="#111" stroke-width="0.05" font-size="6.60" font-weight="bold" fill="#111" textLength="11.40" lengthAdjust="spacingAndGlyphs" transform="translate(373.85 158.30) rotate(-90)" >24 h</text>
<text x="295.90" y="166.59" stroke="#111" stroke-width="0.26" text-anchor="middle" font-size="5.80" fill="#111" textLength="8.20" lengthAdjust="spacingAndGlyphs" >1.0</text>
<text x="306.75" y="166.59" stroke="#111" stroke-width="0.26" text-anchor="middle" font-size="5.80" fill="#111" textLength="8.20" lengthAdjust="spacingAndGlyphs" >1.1</text>
<text x="317.60" y="166.59" stroke="#111" stroke-width="0.26" text-anchor="middle" font-size="5.80" fill="#111" textLength="8.20" lengthAdjust="spacingAndGlyphs" >1.1</text>
<text x="328.45" y="166.59" stroke="#111" stroke-width="0.26" text-anchor="middle" font-size="5.80" fill="#111" textLength="8.20" lengthAdjust="spacingAndGlyphs" >1.0</text>
<text x="339.30" y="166.59" stroke="#111" stroke-width="0.26" text-anchor="middle" font-size="5.80" fill="#111" textLength="8.20" lengthAdjust="spacingAndGlyphs" >1.0</text>
<text x="350.15" y="166.59" stroke="#111" stroke-width="0.26" text-anchor="middle" font-size="5.80" fill="#111" textLength="8.20" lengthAdjust="spacingAndGlyphs" >0.8</text>
<text x="361.00" y="166.59" stroke="#111" stroke-width="0.26" text-anchor="middle" font-size="5.80" fill="#111" textLength="8.20" lengthAdjust="spacingAndGlyphs" >1.1</text>
<text x="371.85" y="166.59" stroke="#111" stroke-width="0.26" text-anchor="middle" font-size="5.80" fill="#111" textLength="8.20" lengthAdjust="spacingAndGlyphs" >1.5</text>
<text x="295.90" y="184.19" stroke="#111" stroke-width="0.26" text-anchor="middle" font-size="5.80" fill="#111" textLength="8.20" lengthAdjust="spacingAndGlyphs" >1.0</text>
<text x="306.75" y="184.19" stroke="#111" stroke-width="0.26" text-anchor="middle" font-size="5.80" fill="#111" textLength="8.20" lengthAdjust="spacingAndGlyphs" >1.6</text>
<text x="317.60" y="184.19" stroke="#111" stroke-width="0.26" text-anchor="middle" font-size="5.80" fill="#111" textLength="8.20" lengthAdjust="spacingAndGlyphs" >1.9</text>
<text x="328.45" y="184.19" stroke="#111" stroke-width="0.26" text-anchor="middle" font-size="5.80" fill="#111" textLength="8.20" lengthAdjust="spacingAndGlyphs" >1.3</text>
<text x="339.30" y="184.19" stroke="#111" stroke-width="0.26" text-anchor="middle" font-size="5.80" fill="#111" textLength="8.20" lengthAdjust="spacingAndGlyphs" >0.9</text>
<text x="350.15" y="184.19" stroke="#111" stroke-width="0.26" text-anchor="middle" font-size="5.80" fill="#111" textLength="8.20" lengthAdjust="spacingAndGlyphs" >1.6</text>
<text x="361.00" y="184.19" stroke="#111" stroke-width="0.26" text-anchor="middle" font-size="5.80" fill="#111" textLength="8.20" lengthAdjust="spacingAndGlyphs" >5.8</text>
<text x="371.85" y="184.19" stroke="#111" stroke-width="0.26" text-anchor="middle" font-size="5.80" fill="#111" textLength="8.20" lengthAdjust="spacingAndGlyphs" >3.1</text>
<text x="295.90" y="213.89" stroke="#111" stroke-width="0.26" text-anchor="middle" font-size="5.80" fill="#111" textLength="8.20" lengthAdjust="spacingAndGlyphs" >1.0</text>
<text x="306.75" y="213.89" stroke="#111" stroke-width="0.26" text-anchor="middle" font-size="5.80" fill="#111" textLength="8.20" lengthAdjust="spacingAndGlyphs" >1.0</text>
<text x="317.60" y="213.89" stroke="#111" stroke-width="0.26" text-anchor="middle" font-size="5.80" fill="#111" textLength="8.20" lengthAdjust="spacingAndGlyphs" >0.9</text>
<text x="328.45" y="213.89" stroke="#111" stroke-width="0.26" text-anchor="middle" font-size="5.80" fill="#111" textLength="8.20" lengthAdjust="spacingAndGlyphs" >0.7</text>
<text x="339.30" y="213.89" stroke="#111" stroke-width="0.26" text-anchor="middle" font-size="5.80" fill="#111" textLength="8.20" lengthAdjust="spacingAndGlyphs" >0.3</text>
<text x="350.15" y="213.89" stroke="#111" stroke-width="0.26" text-anchor="middle" font-size="5.80" fill="#111" textLength="8.20" lengthAdjust="spacingAndGlyphs" >0.7</text>
<text x="361.00" y="213.89" stroke="#111" stroke-width="0.26" text-anchor="middle" font-size="5.80" fill="#111" textLength="8.20" lengthAdjust="spacingAndGlyphs" >0.3</text>
<text x="371.85" y="213.89" stroke="#111" stroke-width="0.26" text-anchor="middle" font-size="5.80" fill="#111" textLength="8.20" lengthAdjust="spacingAndGlyphs" >0.9</text>
<text x="295.90" y="229.19" stroke="#111" stroke-width="0.26" text-anchor="middle" font-size="5.80" fill="#111" textLength="8.20" lengthAdjust="spacingAndGlyphs" >1.0</text>
<text x="306.75" y="229.19" stroke="#111" stroke-width="0.26" text-anchor="middle" font-size="5.80" fill="#111" textLength="8.20" lengthAdjust="spacingAndGlyphs" >2.0</text>
<text x="317.60" y="229.19" stroke="#111" stroke-width="0.26" text-anchor="middle" font-size="5.80" fill="#111" textLength="8.20" lengthAdjust="spacingAndGlyphs" >1.5</text>
<text x="328.45" y="229.19" stroke="#111" stroke-width="0.26" text-anchor="middle" font-size="5.80" fill="#111" textLength="8.20" lengthAdjust="spacingAndGlyphs" >1.4</text>
<text x="339.30" y="229.19" stroke="#111" stroke-width="0.26" text-anchor="middle" font-size="5.80" fill="#111" textLength="8.20" lengthAdjust="spacingAndGlyphs" >0.3</text>
<text x="350.15" y="229.19" stroke="#111" stroke-width="0.26" text-anchor="middle" font-size="5.80" fill="#111" textLength="8.20" lengthAdjust="spacingAndGlyphs" >0.6</text>
<text x="361.00" y="229.19" stroke="#111" stroke-width="0.26" text-anchor="middle" font-size="5.80" fill="#111" textLength="8.20" lengthAdjust="spacingAndGlyphs" >2.2</text>
<text x="371.85" y="229.19" stroke="#111" stroke-width="0.26" text-anchor="middle" font-size="5.80" fill="#111" textLength="8.20" lengthAdjust="spacingAndGlyphs" >1.2</text>
<text x="265.70" y="174.30" stroke="#222" stroke-width="0.26" font-size="6.50" fill="#222" textLength="22.90" lengthAdjust="spacingAndGlyphs" >S100A8</text>
<text x="265.70" y="191.70" stroke="#222" stroke-width="0.26" font-size="6.50" fill="#222" textLength="22.90" lengthAdjust="spacingAndGlyphs" >S100A9</text>
<text x="265.70" y="220.60" stroke="#222" stroke-width="0.26" font-size="6.50" fill="#222" textLength="22.90" lengthAdjust="spacingAndGlyphs" >S100A8</text>
<text x="265.70" y="237.00" stroke="#222" stroke-width="0.26" font-size="6.50" fill="#222" textLength="22.90" lengthAdjust="spacingAndGlyphs" >S100A9</text>
<text x="265.70" y="203.30" stroke="#222" stroke-width="0.26" font-size="6.50" fill="#222" textLength="13.30" lengthAdjust="spacingAndGlyphs" >Actin</text>
<text x="265.70" y="248.60" stroke="#222" stroke-width="0.26" font-size="6.50" fill="#222" textLength="13.30" lengthAdjust="spacingAndGlyphs" >Actin</text>
<line x1="256.10" y1="167.20" x2="256.10" y2="203.90" stroke="#000" stroke-width="1.30" />
<line x1="256.10" y1="211.80" x2="256.10" y2="252.80" stroke="#000" stroke-width="1.30" />
<text x="0" y="0" stroke="#000" stroke-width="0.35" font-size="6.20" textLength="20.50" lengthAdjust="spacingAndGlyphs" transform="translate(249.60 195.00) rotate(-90)" >MOLM13</text>
<text x="0" y="0" stroke="#000" stroke-width="0.35" font-size="6.20" textLength="30.10" lengthAdjust="spacingAndGlyphs" transform="translate(249.60 246.80) rotate(-90)" >MOLM13-RES</text>
<defs><filter id="bl2" x="-30%" y="-80%" width="160%" height="260%"><feGaussianBlur stdDeviation="0.7"/></filter><linearGradient id="gE8" x1="0" y1="0" x2="0" y2="1"><stop offset="0" stop-color="#cdd3d2"/><stop offset="1" stop-color="#b3bcbb"/></linearGradient><linearGradient id="gBlob" x1="0" y1="0" x2="0.3" y2="1"><stop offset="0" stop-color="#4a5252"/><stop offset="0.45" stop-color="#101414"/><stop offset="1" stop-color="#050707"/></linearGradient></defs>
<rect x="289.90" y="167.00" width="88.70" height="11.60" fill="url(#gE8)" />
<rect x="291.50" y="171.80" width="8.80" height="5.60" rx="2.80" fill="#7c8887" fill-opacity="0.45" filter="url(#bl2)"/>
<rect x="302.35" y="171.80" width="8.80" height="5.60" rx="2.80" fill="#7c8887" fill-opacity="0.50" filter="url(#bl2)"/>
<rect x="313.20" y="171.80" width="8.80" height="5.60" rx="2.80" fill="#7c8887" fill-opacity="0.50" filter="url(#bl2)"/>
<rect x="324.05" y="171.80" width="8.80" height="5.60" rx="2.80" fill="#7c8887" fill-opacity="0.60" filter="url(#bl2)"/>
<rect x="334.90" y="171.80" width="8.80" height="5.60" rx="2.80" fill="#7c8887" fill-opacity="0.45" filter="url(#bl2)"/>
<rect x="345.75" y="171.80" width="8.80" height="5.60" rx="2.80" fill="#7c8887" fill-opacity="0.50" filter="url(#bl2)"/>
<rect x="356.60" y="171.80" width="8.80" height="5.60" rx="2.80" fill="#7c8887" fill-opacity="0.50" filter="url(#bl2)"/>
<rect x="367.40" y="167.40" width="10.40" height="11.00" rx="3.00" fill="url(#gBlob)" fill-opacity="1.00" filter="url(#bl2)"/>
<rect x="289.90" y="184.70" width="88.70" height="10.00" fill="#cbd2d1" />
<rect x="291.30" y="190.30" width="9.20" height="2.90" rx="1.45" fill="#060606" fill-opacity="1.00" filter="url(#bl2)"/>
<rect x="302.15" y="189.60" width="9.20" height="3.30" rx="1.65" fill="#060606" fill-opacity="1.00" filter="url(#bl2)"/>
<rect x="313.00" y="188.80" width="9.20" height="4.30" rx="2.15" fill="#060606" fill-opacity="1.00" filter="url(#bl2)"/>
<rect x="323.85" y="189.20" width="9.20" height="3.50" rx="1.75" fill="#060606" fill-opacity="1.00" filter="url(#bl2)"/>
<rect x="334.70" y="189.80" width="9.20" height="2.60" rx="1.30" fill="#060606" fill-opacity="1.00" filter="url(#bl2)"/>
<rect x="345.55" y="188.00" width="9.20" height="5.30" rx="2.65" fill="#060606" fill-opacity="1.00" filter="url(#bl2)"/>
<rect x="354.60" y="184.90" width="12.80" height="9.70" rx="3.00" fill="#060606" fill-opacity="1.00" filter="url(#bl2)"/>
<rect x="366.65" y="185.60" width="10.40" height="7.80" rx="3.00" fill="#060606" fill-opacity="1.00" filter="url(#bl2)"/>
<rect x="289.90" y="196.80" width="88.70" height="7.80" fill="#d2d8d7" />
<rect x="291.60" y="200.90" width="8.60" height="2.40" rx="1.20" fill="#101010" fill-opacity="0.95" filter="url(#bl2)"/>
<rect x="302.45" y="200.90" width="8.60" height="2.40" rx="1.20" fill="#101010" fill-opacity="0.95" filter="url(#bl2)"/>
<rect x="313.30" y="200.90" width="8.60" height="2.40" rx="1.20" fill="#101010" fill-opacity="0.95" filter="url(#bl2)"/>
<rect x="324.15" y="200.90" width="8.60" height="2.40" rx="1.20" fill="#101010" fill-opacity="0.95" filter="url(#bl2)"/>
<rect x="335.00" y="200.90" width="8.60" height="2.40" rx="1.20" fill="#101010" fill-opacity="0.95" filter="url(#bl2)"/>
<rect x="345.85" y="200.90" width="8.60" height="2.40" rx="1.20" fill="#101010" fill-opacity="0.95" filter="url(#bl2)"/>
<rect x="356.70" y="200.90" width="8.60" height="2.40" rx="1.20" fill="#101010" fill-opacity="0.95" filter="url(#bl2)"/>
<rect x="367.55" y="200.90" width="8.60" height="2.40" rx="1.20" fill="#101010" fill-opacity="0.95" filter="url(#bl2)"/>
<rect x="289.90" y="214.40" width="88.70" height="8.50" fill="url(#gE8)" />
<rect x="291.50" y="217.00" width="8.80" height="5.00" rx="2.50" fill="#7a8685" fill-opacity="0.55" filter="url(#bl2)"/>
<rect x="302.35" y="217.00" width="8.80" height="5.00" rx="2.50" fill="#7a8685" fill-opacity="0.55" filter="url(#bl2)"/>
<rect x="313.20" y="217.00" width="8.80" height="5.00" rx="2.50" fill="#7a8685" fill-opacity="0.55" filter="url(#bl2)"/>
<rect x="324.05" y="217.00" width="8.80" height="5.00" rx="2.50" fill="#7a8685" fill-opacity="0.50" filter="url(#bl2)"/>
<rect x="334.90" y="217.00" width="8.80" height="5.00" rx="2.50" fill="#7a8685" fill-opacity="0.15" filter="url(#bl2)"/>
<rect x="345.75" y="217.00" width="8.80" height="5.00" rx="2.50" fill="#7a8685" fill-opacity="0.45" filter="url(#bl2)"/>
<rect x="356.60" y="217.00" width="8.80" height="5.00" rx="2.50" fill="#7a8685" fill-opacity="0.35" filter="url(#bl2)"/>
<rect x="367.45" y="217.00" width="8.80" height="5.00" rx="2.50" fill="#7a8685" fill-opacity="0.60" filter="url(#bl2)"/>
<rect x="289.90" y="229.90" width="88.70" height="9.80" fill="#cad1d0" />
<rect x="291.30" y="233.10" width="9.20" height="5.40" rx="2.70" fill="#060606" fill-opacity="1.00" filter="url(#bl2)"/>
<rect x="301.75" y="232.60" width="10.00" height="6.40" rx="3.00" fill="#060606" fill-opacity="1.00" filter="url(#bl2)"/>
<rect x="313.00" y="233.00" width="9.20" height="5.30" rx="2.65" fill="#060606" fill-opacity="1.00" filter="url(#bl2)"/>
<rect x="323.85" y="233.00" width="9.20" height="5.20" rx="2.60" fill="#060606" fill-opacity="1.00" filter="url(#bl2)"/>
<rect x="334.70" y="234.80" width="9.20" height="2.40" rx="1.20" fill="#060606" fill-opacity="0.40" filter="url(#bl2)"/>
<rect x="345.55" y="233.40" width="9.20" height="3.80" rx="1.90" fill="#060606" fill-opacity="0.95" filter="url(#bl2)"/>
<rect x="356.40" y="230.60" width="9.20" height="7.20" rx="3.00" fill="#060606" fill-opacity="1.00" filter="url(#bl2)"/>
<rect x="367.25" y="231.60" width="9.20" height="5.20" rx="2.60" fill="#060606" fill-opacity="1.00" filter="url(#bl2)"/>
<rect x="289.90" y="243.10" width="88.70" height="8.10" fill="#d2d8d7" />
<rect x="291.60" y="245.80" width="8.60" height="2.50" rx="1.25" fill="#101010" fill-opacity="0.95" filter="url(#bl2)"/>
<rect x="302.45" y="245.80" width="8.60" height="2.50" rx="1.25" fill="#101010" fill-opacity="0.95" filter="url(#bl2)"/>
<rect x="313.30" y="245.80" width="8.60" height="2.50" rx="1.25" fill="#101010" fill-opacity="0.95" filter="url(#bl2)"/>
<rect x="324.15" y="245.80" width="8.60" height="2.50" rx="1.25" fill="#101010" fill-opacity="0.95" filter="url(#bl2)"/>
<rect x="335.00" y="245.80" width="8.60" height="2.50" rx="1.25" fill="#101010" fill-opacity="0.95" filter="url(#bl2)"/>
<rect x="345.85" y="245.80" width="8.60" height="2.50" rx="1.25" fill="#101010" fill-opacity="0.95" filter="url(#bl2)"/>
<rect x="356.70" y="245.80" width="8.60" height="2.50" rx="1.25" fill="#101010" fill-opacity="0.95" filter="url(#bl2)"/>
<rect x="367.55" y="245.80" width="8.60" height="2.50" rx="1.25" fill="#101010" fill-opacity="0.95" filter="url(#bl2)"/>
<rect x="451.20" y="136.00" width="9.30" height="3.90" fill="#d1121e" />
<rect x="451.20" y="143.90" width="9.30" height="3.90" fill="#0b36b4" />
<text x="462.30" y="140.00" stroke="#222" stroke-width="0.26" font-size="6.20" fill="#222" textLength="18.50" lengthAdjust="spacingAndGlyphs" >DMSO</text>
<text x="462.30" y="148.00" stroke="#222" stroke-width="0.26" font-size="6.20" fill="#222" textLength="26.60" lengthAdjust="spacingAndGlyphs" >Gilteritinib</text>
<line x1="447.30" y1="149.10" x2="447.30" y2="208.00" stroke="#000" stroke-width="1.20" />
<line x1="444.70" y1="149.60" x2="447.30" y2="149.60" stroke="#000" stroke-width="1.08" />
<text x="443.10" y="151.66" stroke="#222" stroke-width="0.26" text-anchor="end" font-size="5.80" fill="#222" >1.5</text>
<line x1="444.70" y1="168.90" x2="447.30" y2="168.90" stroke="#000" stroke-width="1.08" />
<text x="443.10" y="170.96" stroke="#222" stroke-width="0.26" text-anchor="end" font-size="5.80" fill="#222" >1.0</text>
<line x1="444.70" y1="188.20" x2="447.30" y2="188.20" stroke="#000" stroke-width="1.08" />
<text x="443.10" y="190.26" stroke="#222" stroke-width="0.26" text-anchor="end" font-size="5.80" fill="#222" >0.5</text>
<line x1="444.70" y1="207.50" x2="447.30" y2="207.50" stroke="#000" stroke-width="1.08" />
<text x="443.10" y="209.56" stroke="#222" stroke-width="0.26" text-anchor="end" font-size="5.80" fill="#222" >0.0</text>
<line x1="446.80" y1="207.50" x2="512.60" y2="207.50" stroke="#000" stroke-width="1.40" />
<text x="0" y="0" stroke="#222" stroke-width="0.26" font-size="5.50" fill="#222" textLength="40.90" lengthAdjust="spacingAndGlyphs" transform="translate(423.20 202.30) rotate(-90)" >Intracellular free Ca<tspan font-size="3.8" dy="-1.8">2+</tspan></text>
<text x="0" y="0" stroke="#222" stroke-width="0.26" font-size="5.50" fill="#222" textLength="36.00" lengthAdjust="spacingAndGlyphs" transform="translate(428.00 199.00) rotate(-90)" >fold change, DMSO</text>
<rect x="450.80" y="168.90" width="5.80" height="38.60" fill="#d1121e" />
<line x1="453.70" y1="165.20" x2="453.70" y2="172.60" stroke="#000" stroke-width="0.90" />
<line x1="452.20" y1="165.20" x2="455.20" y2="165.20" stroke="#000" stroke-width="0.90" />
<line x1="452.20" y1="172.60" x2="455.20" y2="172.60" stroke="#000" stroke-width="0.90" />
<rect x="458.80" y="185.11" width="5.80" height="22.39" fill="#0b36b4" />
<line x1="461.70" y1="178.90" x2="461.70" y2="190.50" stroke="#000" stroke-width="0.90" />
<line x1="460.20" y1="178.90" x2="463.20" y2="178.90" stroke="#000" stroke-width="0.90" />
<line x1="460.20" y1="190.50" x2="463.20" y2="190.50" stroke="#000" stroke-width="0.90" />
<rect x="472.70" y="168.90" width="5.80" height="38.60" fill="#d1121e" />
<line x1="475.60" y1="165.40" x2="475.60" y2="172.30" stroke="#000" stroke-width="0.90" />
<line x1="474.10" y1="165.40" x2="477.10" y2="165.40" stroke="#000" stroke-width="0.90" />
<line x1="474.10" y1="172.30" x2="477.10" y2="172.30" stroke="#000" stroke-width="0.90" />
<rect x="481.30" y="182.41" width="5.80" height="25.09" fill="#0b36b4" />
<line x1="484.20" y1="179.60" x2="484.20" y2="185.40" stroke="#000" stroke-width="0.90" />
<line x1="482.70" y1="179.60" x2="485.70" y2="179.60" stroke="#000" stroke-width="0.90" />
<line x1="482.70" y1="185.40" x2="485.70" y2="185.40" stroke="#000" stroke-width="0.90" />
<rect x="495.10" y="168.90" width="5.80" height="38.60" fill="#d1121e" />
<line x1="498.00" y1="167.40" x2="498.00" y2="170.20" stroke="#000" stroke-width="0.90" />
<line x1="496.50" y1="167.40" x2="499.50" y2="167.40" stroke="#000" stroke-width="0.90" />
<line x1="496.50" y1="170.20" x2="499.50" y2="170.20" stroke="#000" stroke-width="0.90" />
<rect x="503.80" y="186.27" width="5.80" height="21.23" fill="#0b36b4" />
<line x1="506.70" y1="181.90" x2="506.70" y2="191.20" stroke="#000" stroke-width="0.90" />
<line x1="505.20" y1="181.90" x2="508.20" y2="181.90" stroke="#000" stroke-width="0.90" />
<line x1="505.20" y1="191.20" x2="508.20" y2="191.20" stroke="#000" stroke-width="0.90" />
<path d="M453.70,164.00 L453.70,161.20 L461.70,161.20 L461.70,164.00" fill="none" stroke="#000" stroke-width="1.05" />
<text x="457.70" y="159.72" stroke="#000" stroke-width="0.26" text-anchor="middle" font-size="5.60" >***</text>
<path d="M475.60,164.00 L475.60,161.20 L484.20,161.20 L484.20,164.00" fill="none" stroke="#000" stroke-width="1.05" />
<text x="479.90" y="159.72" stroke="#000" stroke-width="0.26" text-anchor="middle" font-size="5.60" >***</text>
<path d="M498.00,164.00 L498.00,161.20 L506.70,161.20 L506.70,164.00" fill="none" stroke="#000" stroke-width="1.05" />
<text x="502.35" y="159.72" stroke="#000" stroke-width="0.26" text-anchor="middle" font-size="5.60" >***</text>
<text x="0" y="0" stroke="#222" stroke-width="0.26" text-anchor="end" font-size="6.30" fill="#222" textLength="27.00" lengthAdjust="spacingAndGlyphs" transform="translate(459.80 212.60) rotate(-45)" >MOLM13</text>
<text x="0" y="0" stroke="#222" stroke-width="0.26" text-anchor="end" font-size="6.30" fill="#222" textLength="44.00" lengthAdjust="spacingAndGlyphs" transform="translate(482.80 213.50) rotate(-45)" >BAF3/FLT3-ITD</text>
<text x="0" y="0" stroke="#222" stroke-width="0.26" text-anchor="end" font-size="6.30" fill="#222" textLength="65.00" lengthAdjust="spacingAndGlyphs" transform="translate(505.00 213.50) rotate(-45)" >BAF3/FLT3-ITD/D835Y</text>
<line x1="43.10" y1="285.70" x2="43.10" y2="346.00" stroke="#000" stroke-width="1.30" />
<line x1="40.30" y1="286.20" x2="43.10" y2="286.20" stroke="#000" stroke-width="1.17" />
<text x="38.70" y="288.33" stroke="#222" stroke-width="0.26" text-anchor="end" font-size="6.00" fill="#222" >5</text>
<line x1="40.30" y1="298.06" x2="43.10" y2="298.06" stroke="#000" stroke-width="1.17" />
<text x="38.70" y="300.19" stroke="#222" stroke-width="0.26" text-anchor="end" font-size="6.00" fill="#222" >4</text>
<line x1="40.30" y1="309.92" x2="43.10" y2="309.92" stroke="#000" stroke-width="1.17" />
<text x="38.70" y="312.05" stroke="#222" stroke-width="0.26" text-anchor="end" font-size="6.00" fill="#222" >3</text>
<line x1="40.30" y1="321.78" x2="43.10" y2="321.78" stroke="#000" stroke-width="1.17" />
<text x="38.70" y="323.91" stroke="#222" stroke-width="0.26" text-anchor="end" font-size="6.00" fill="#222" >2</text>
<line x1="40.30" y1="333.64" x2="43.10" y2="333.64" stroke="#000" stroke-width="1.17" />
<text x="38.70" y="335.77" stroke="#222" stroke-width="0.26" text-anchor="end" font-size="6.00" fill="#222" >1</text>
<line x1="40.30" y1="345.50" x2="43.10" y2="345.50" stroke="#000" stroke-width="1.17" />
<text x="38.70" y="347.63" stroke="#222" stroke-width="0.26" text-anchor="end" font-size="6.00" fill="#222" >0</text>
<line x1="42.60" y1="345.50" x2="133.70" y2="345.50" stroke="#000" stroke-width="1.30" />
<line x1="42.80" y1="345.50" x2="42.80" y2="348.10" stroke="#000" stroke-width="1.10" />
<text x="42.80" y="356.52" stroke="#222" stroke-width="0.15" text-anchor="middle" font-size="5.60" fill="#222" >0</text>
<line x1="64.42" y1="345.50" x2="64.42" y2="348.10" stroke="#000" stroke-width="1.10" />
<text x="64.42" y="356.52" stroke="#222" stroke-width="0.15" text-anchor="middle" font-size="5.60" fill="#222" >24</text>
<line x1="86.05" y1="345.50" x2="86.05" y2="348.10" stroke="#000" stroke-width="1.10" />
<text x="86.05" y="356.52" stroke="#222" stroke-width="0.15" text-anchor="middle" font-size="5.60" fill="#222" >48</text>
<line x1="107.68" y1="345.50" x2="107.68" y2="348.10" stroke="#000" stroke-width="1.10" />
<text x="107.68" y="356.52" stroke="#222" stroke-width="0.15" text-anchor="middle" font-size="5.60" fill="#222" >72</text>
<line x1="129.30" y1="345.50" x2="129.30" y2="348.10" stroke="#000" stroke-width="1.10" />
<text x="129.30" y="356.52" stroke="#222" stroke-width="0.15" text-anchor="middle" font-size="5.60" fill="#222" >96</text>
<path d="M64.42,333.60 L86.05,329.00 L107.68,318.90 L129.30,311.10" fill="none" stroke="#cc1426" stroke-width="1.55" stroke-linejoin="round"/>
<rect x="63.32" y="332.50" width="2.20" height="2.20" fill="#cc1426" />
<rect x="84.95" y="327.90" width="2.20" height="2.20" fill="#cc1426" />
<rect x="106.58" y="317.80" width="2.20" height="2.20" fill="#cc1426" />
<rect x="128.20" y="310.00" width="2.20" height="2.20" fill="#cc1426" />
<line x1="107.68" y1="315.50" x2="107.68" y2="322.00" stroke="#cc1426" stroke-width="1.00" />
<line x1="106.28" y1="315.50" x2="109.08" y2="315.50" stroke="#cc1426" stroke-width="1.00" />
<line x1="106.28" y1="322.00" x2="109.08" y2="322.00" stroke="#cc1426" stroke-width="1.00" />
<line x1="129.30" y1="309.30" x2="129.30" y2="312.80" stroke="#cc1426" stroke-width="1.00" />
<line x1="127.90" y1="309.30" x2="130.70" y2="309.30" stroke="#cc1426" stroke-width="1.00" />
<line x1="127.90" y1="312.80" x2="130.70" y2="312.80" stroke="#cc1426" stroke-width="1.00" />
<path d="M64.42,338.40 L86.05,329.00 L107.68,312.40 L129.30,294.00" fill="none" stroke="#1436b6" stroke-width="1.55" stroke-linejoin="round"/>
<rect x="63.32" y="337.30" width="2.20" height="2.20" fill="#1436b6" />
<rect x="84.95" y="327.90" width="2.20" height="2.20" fill="#1436b6" />
<rect x="106.58" y="311.30" width="2.20" height="2.20" fill="#1436b6" />
<rect x="128.20" y="292.90" width="2.20" height="2.20" fill="#1436b6" />
<line x1="107.68" y1="311.00" x2="107.68" y2="314.00" stroke="#1436b6" stroke-width="1.00" />
<line x1="106.28" y1="311.00" x2="109.08" y2="311.00" stroke="#1436b6" stroke-width="1.00" />
<line x1="106.28" y1="314.00" x2="109.08" y2="314.00" stroke="#1436b6" stroke-width="1.00" />
<line x1="129.30" y1="292.80" x2="129.30" y2="295.20" stroke="#1436b6" stroke-width="1.00" />
<line x1="127.90" y1="292.80" x2="130.70" y2="292.80" stroke="#1436b6" stroke-width="1.00" />
<line x1="127.90" y1="295.20" x2="130.70" y2="295.20" stroke="#1436b6" stroke-width="1.00" />
<text x="107.68" y="309.56" stroke="#000" stroke-width="0.26" text-anchor="middle" font-size="6.00" font-weight="bold" >*</text>
<text x="129.30" y="292.56" stroke="#000" stroke-width="0.26" text-anchor="middle" font-size="6.00" font-weight="bold" >***</text>
<line x1="45.30" y1="287.00" x2="52.30" y2="287.00" stroke="#cc1426" stroke-width="1.60" />
<text x="55.50" y="289.20" stroke="#1a1a1a" stroke-width="0.18" font-size="6.20" fill="#1a1a1a" textLength="45.70" lengthAdjust="spacingAndGlyphs" >Vector Gilteritinib</text>
<line x1="45.30" y1="294.70" x2="52.30" y2="294.70" stroke="#1436b6" stroke-width="1.60" />
<text x="55.50" y="296.90" stroke="#1a1a1a" stroke-width="0.18" font-size="6.20" fill="#1a1a1a" textLength="51.30" lengthAdjust="spacingAndGlyphs" >S100A9 Gilteritinib</text>
<text x="0" y="0" stroke="#1a1a1a" stroke-width="0.26" font-size="5.80" fill="#1a1a1a" textLength="20.90" lengthAdjust="spacingAndGlyphs" transform="translate(24.20 326.10) rotate(-90)" >Cell count</text>
<text x="0" y="0" stroke="#1a1a1a" stroke-width="0.26" font-size="5.80" fill="#1a1a1a" textLength="67.60" lengthAdjust="spacingAndGlyphs" transform="translate(31.10 347.80) rotate(-90)" >fold change, vector DM SO 24h</text>
<text x="75.90" y="366.10" font-size="8.80" font-weight="bold" fill="#111" textLength="20.40" lengthAdjust="spacingAndGlyphs" >Time, h</text>
<line x1="179.00" y1="285.70" x2="179.00" y2="346.30" stroke="#000" stroke-width="1.30" />
<line x1="176.20" y1="286.20" x2="179.00" y2="286.20" stroke="#000" stroke-width="1.17" />
<text x="174.60" y="288.33" stroke="#222" stroke-width="0.26" text-anchor="end" font-size="6.00" fill="#222" >3</text>
<line x1="176.20" y1="306.07" x2="179.00" y2="306.07" stroke="#000" stroke-width="1.17" />
<text x="174.60" y="308.20" stroke="#222" stroke-width="0.26" text-anchor="end" font-size="6.00" fill="#222" >2</text>
<line x1="176.20" y1="325.93" x2="179.00" y2="325.93" stroke="#000" stroke-width="1.17" />
<text x="174.60" y="328.06" stroke="#222" stroke-width="0.26" text-anchor="end" font-size="6.00" fill="#222" >1</text>
<line x1="176.20" y1="345.80" x2="179.00" y2="345.80" stroke="#000" stroke-width="1.17" />
<text x="174.60" y="347.93" stroke="#222" stroke-width="0.26" text-anchor="end" font-size="6.00" fill="#222" >0</text>
<line x1="178.50" y1="345.80" x2="267.80" y2="345.80" stroke="#000" stroke-width="1.30" />
<line x1="179.00" y1="345.80" x2="179.00" y2="348.40" stroke="#000" stroke-width="1.10" />
<text x="179.00" y="356.52" stroke="#222" stroke-width="0.15" text-anchor="middle" font-size="5.60" fill="#222" >0</text>
<line x1="200.57" y1="345.80" x2="200.57" y2="348.40" stroke="#000" stroke-width="1.10" />
<text x="200.57" y="356.52" stroke="#222" stroke-width="0.15" text-anchor="middle" font-size="5.60" fill="#222" >24</text>
<line x1="222.15" y1="345.80" x2="222.15" y2="348.40" stroke="#000" stroke-width="1.10" />
<text x="222.15" y="356.52" stroke="#222" stroke-width="0.15" text-anchor="middle" font-size="5.60" fill="#222" >48</text>
<line x1="243.73" y1="345.80" x2="243.73" y2="348.40" stroke="#000" stroke-width="1.10" />
<text x="243.73" y="356.52" stroke="#222" stroke-width="0.15" text-anchor="middle" font-size="5.60" fill="#222" >72</text>
<line x1="265.30" y1="345.80" x2="265.30" y2="348.40" stroke="#000" stroke-width="1.10" />
<text x="265.30" y="356.52" stroke="#222" stroke-width="0.15" text-anchor="middle" font-size="5.60" fill="#222" >96</text>
<path d="M200.57,328.80 L222.15,326.60 L243.73,318.60 L265.30,303.90" fill="none" stroke="#cc1426" stroke-width="1.55" stroke-linejoin="round"/>
<rect x="199.47" y="327.70" width="2.20" height="2.20" fill="#cc1426" />
<rect x="221.05" y="325.50" width="2.20" height="2.20" fill="#cc1426" />
<rect x="242.63" y="317.50" width="2.20" height="2.20" fill="#cc1426" />
<rect x="264.20" y="302.80" width="2.20" height="2.20" fill="#cc1426" />
<line x1="265.30" y1="301.60" x2="265.30" y2="306.20" stroke="#cc1426" stroke-width="1.00" />
<line x1="263.90" y1="301.60" x2="266.70" y2="301.60" stroke="#cc1426" stroke-width="1.00" />
<line x1="263.90" y1="306.20" x2="266.70" y2="306.20" stroke="#cc1426" stroke-width="1.00" />
<path d="M200.57,324.50 L222.15,322.30 L243.73,313.20 L265.30,295.10" fill="none" stroke="#1436b6" stroke-width="1.55" stroke-linejoin="round"/>
<rect x="199.47" y="323.40" width="2.20" height="2.20" fill="#1436b6" />
<rect x="221.05" y="321.20" width="2.20" height="2.20" fill="#1436b6" />
<rect x="242.63" y="312.10" width="2.20" height="2.20" fill="#1436b6" />
<rect x="264.20" y="294.00" width="2.20" height="2.20" fill="#1436b6" />
<line x1="243.73" y1="311.50" x2="243.73" y2="315.00" stroke="#1436b6" stroke-width="1.00" />
<line x1="242.33" y1="311.50" x2="245.13" y2="311.50" stroke="#1436b6" stroke-width="1.00" />
<line x1="242.33" y1="315.00" x2="245.13" y2="315.00" stroke="#1436b6" stroke-width="1.00" />
<line x1="265.30" y1="292.40" x2="265.30" y2="297.80" stroke="#1436b6" stroke-width="1.00" />
<line x1="263.90" y1="292.40" x2="266.70" y2="292.40" stroke="#1436b6" stroke-width="1.00" />
<line x1="263.90" y1="297.80" x2="266.70" y2="297.80" stroke="#1436b6" stroke-width="1.00" />
<path d="M200.57,329.50 L222.15,328.80 L243.73,325.70 L265.30,319.00" fill="none" stroke="#3fe82c" stroke-width="1.55" stroke-linejoin="round"/>
<rect x="199.47" y="328.40" width="2.20" height="2.20" fill="#3fe82c" />
<rect x="221.05" y="327.70" width="2.20" height="2.20" fill="#3fe82c" />
<rect x="242.63" y="324.60" width="2.20" height="2.20" fill="#3fe82c" />
<rect x="264.20" y="317.90" width="2.20" height="2.20" fill="#3fe82c" />
<text x="200.57" y="336.96" stroke="#000" stroke-width="0.26" text-anchor="middle" font-size="6.00" font-weight="bold" >*</text>
<text x="222.15" y="334.76" stroke="#000" stroke-width="0.26" text-anchor="middle" font-size="6.00" font-weight="bold" >***</text>
<text x="243.73" y="334.76" stroke="#000" stroke-width="0.26" text-anchor="middle" font-size="6.00" font-weight="bold" >***</text>
<text x="265.30" y="326.46" stroke="#000" stroke-width="0.26" text-anchor="middle" font-size="6.00" font-weight="bold" >***</text>
<line x1="185.30" y1="287.00" x2="192.50" y2="287.00" stroke="#cc1426" stroke-width="1.60" />
<text x="194.80" y="289.20" stroke="#1a1a1a" stroke-width="0.18" font-size="6.20" fill="#1a1a1a" textLength="35.70" lengthAdjust="spacingAndGlyphs" >EV Gilteritinib</text>
<line x1="185.30" y1="295.10" x2="192.50" y2="295.10" stroke="#1436b6" stroke-width="1.60" />
<text x="194.80" y="297.30" stroke="#1a1a1a" stroke-width="0.18" font-size="6.20" fill="#1a1a1a" textLength="36.20" lengthAdjust="spacingAndGlyphs" >NT Gilteritinib</text>
<line x1="185.30" y1="303.50" x2="192.50" y2="303.50" stroke="#3fe82c" stroke-width="1.60" />
<text x="194.80" y="305.70" stroke="#1a1a1a" stroke-width="0.18" font-size="6.20" fill="#1a1a1a" textLength="43.00" lengthAdjust="spacingAndGlyphs" >shA9 Gilteritinib</text>
<text x="0" y="0" stroke="#1a1a1a" stroke-width="0.26" font-size="5.80" fill="#1a1a1a" textLength="22.60" lengthAdjust="spacingAndGlyphs" transform="translate(158.90 321.50) rotate(-90)" >Cell count,</text>
<text x="0" y="0" stroke="#1a1a1a" stroke-width="0.26" font-size="5.80" fill="#1a1a1a" textLength="62.60" lengthAdjust="spacingAndGlyphs" transform="translate(165.20 342.40) rotate(-90)" >fold change, EV DM SO 24h</text>
<text x="213.10" y="366.60" font-size="8.80" font-weight="bold" fill="#111" textLength="20.10" lengthAdjust="spacingAndGlyphs" >Time, h</text>
<line x1="313.20" y1="285.10" x2="313.20" y2="346.20" stroke="#000" stroke-width="1.30" />
<line x1="310.40" y1="285.60" x2="313.20" y2="285.60" stroke="#000" stroke-width="1.17" />
<text x="308.80" y="287.73" stroke="#222" stroke-width="0.26" text-anchor="end" font-size="6.00" fill="#222" >8</text>
<line x1="310.40" y1="300.62" x2="313.20" y2="300.62" stroke="#000" stroke-width="1.17" />
<text x="308.80" y="302.75" stroke="#222" stroke-width="0.26" text-anchor="end" font-size="6.00" fill="#222" >6</text>
<line x1="310.40" y1="315.65" x2="313.20" y2="315.65" stroke="#000" stroke-width="1.17" />
<text x="308.80" y="317.78" stroke="#222" stroke-width="0.26" text-anchor="end" font-size="6.00" fill="#222" >4</text>
<line x1="310.40" y1="330.68" x2="313.20" y2="330.68" stroke="#000" stroke-width="1.17" />
<text x="308.80" y="332.81" stroke="#222" stroke-width="0.26" text-anchor="end" font-size="6.00" fill="#222" >2</text>
<line x1="310.40" y1="345.70" x2="313.20" y2="345.70" stroke="#000" stroke-width="1.17" />
<text x="308.80" y="347.83" stroke="#222" stroke-width="0.26" text-anchor="end" font-size="6.00" fill="#222" >0</text>
<line x1="312.70" y1="345.70" x2="402.90" y2="345.70" stroke="#000" stroke-width="1.30" />
<line x1="313.20" y1="345.70" x2="313.20" y2="348.30" stroke="#000" stroke-width="1.10" />
<text x="313.20" y="356.52" stroke="#222" stroke-width="0.15" text-anchor="middle" font-size="5.60" fill="#222" >0</text>
<line x1="334.88" y1="345.70" x2="334.88" y2="348.30" stroke="#000" stroke-width="1.10" />
<text x="334.88" y="356.52" stroke="#222" stroke-width="0.15" text-anchor="middle" font-size="5.60" fill="#222" >24</text>
<line x1="356.55" y1="345.70" x2="356.55" y2="348.30" stroke="#000" stroke-width="1.10" />
<text x="356.55" y="356.52" stroke="#222" stroke-width="0.15" text-anchor="middle" font-size="5.60" fill="#222" >48</text>
<line x1="378.22" y1="345.70" x2="378.22" y2="348.30" stroke="#000" stroke-width="1.10" />
<text x="378.22" y="356.52" stroke="#222" stroke-width="0.15" text-anchor="middle" font-size="5.60" fill="#222" >72</text>
<line x1="399.90" y1="345.70" x2="399.90" y2="348.30" stroke="#000" stroke-width="1.10" />
<text x="399.90" y="356.52" stroke="#222" stroke-width="0.15" text-anchor="middle" font-size="5.60" fill="#222" >96</text>
<path d="M334.88,338.60 L356.55,335.80 L378.22,328.30 L399.90,314.50" fill="none" stroke="#cc1426" stroke-width="1.55" stroke-linejoin="round"/>
<rect x="333.77" y="337.50" width="2.20" height="2.20" fill="#cc1426" />
<rect x="355.45" y="334.70" width="2.20" height="2.20" fill="#cc1426" />
<rect x="377.12" y="327.20" width="2.20" height="2.20" fill="#cc1426" />
<rect x="398.80" y="313.40" width="2.20" height="2.20" fill="#cc1426" />
<line x1="399.90" y1="312.30" x2="399.90" y2="316.70" stroke="#cc1426" stroke-width="1.00" />
<line x1="398.50" y1="312.30" x2="401.30" y2="312.30" stroke="#cc1426" stroke-width="1.00" />
<line x1="398.50" y1="316.70" x2="401.30" y2="316.70" stroke="#cc1426" stroke-width="1.00" />
<path d="M334.88,338.60 L356.55,329.50 L378.22,310.70 L399.90,293.10" fill="none" stroke="#1436b6" stroke-width="1.55" stroke-linejoin="round"/>
<rect x="333.77" y="337.50" width="2.20" height="2.20" fill="#1436b6" />
<rect x="355.45" y="328.40" width="2.20" height="2.20" fill="#1436b6" />
<rect x="377.12" y="309.60" width="2.20" height="2.20" fill="#1436b6" />
<rect x="398.80" y="292.00" width="2.20" height="2.20" fill="#1436b6" />
<line x1="378.22" y1="309.00" x2="378.22" y2="312.40" stroke="#1436b6" stroke-width="1.00" />
<line x1="376.82" y1="309.00" x2="379.62" y2="309.00" stroke="#1436b6" stroke-width="1.00" />
<line x1="376.82" y1="312.40" x2="379.62" y2="312.40" stroke="#1436b6" stroke-width="1.00" />
<line x1="399.90" y1="290.40" x2="399.90" y2="295.80" stroke="#1436b6" stroke-width="1.00" />
<line x1="398.50" y1="290.40" x2="401.30" y2="290.40" stroke="#1436b6" stroke-width="1.00" />
<line x1="398.50" y1="295.80" x2="401.30" y2="295.80" stroke="#1436b6" stroke-width="1.00" />
<path d="M334.88,338.60 L356.55,336.60 L378.22,332.80 L399.90,328.50" fill="none" stroke="#3fe82c" stroke-width="1.55" stroke-linejoin="round"/>
<rect x="333.77" y="337.50" width="2.20" height="2.20" fill="#3fe82c" />
<rect x="355.45" y="335.50" width="2.20" height="2.20" fill="#3fe82c" />
<rect x="377.12" y="331.70" width="2.20" height="2.20" fill="#3fe82c" />
<rect x="398.80" y="327.40" width="2.20" height="2.20" fill="#3fe82c" />
<text x="356.55" y="342.96" stroke="#000" stroke-width="0.26" text-anchor="middle" font-size="6.00" font-weight="bold" >*</text>
<text x="378.22" y="340.46" stroke="#000" stroke-width="0.26" text-anchor="middle" font-size="6.00" font-weight="bold" >***</text>
<text x="399.90" y="335.96" stroke="#000" stroke-width="0.26" text-anchor="middle" font-size="6.00" font-weight="bold" >***</text>
<line x1="315.70" y1="286.90" x2="323.00" y2="286.90" stroke="#cc1426" stroke-width="1.60" />
<text x="325.90" y="289.10" stroke="#1a1a1a" stroke-width="0.18" font-size="6.20" fill="#1a1a1a" textLength="26.90" lengthAdjust="spacingAndGlyphs" >Gilteritinib</text>
<line x1="315.70" y1="294.40" x2="323.00" y2="294.40" stroke="#1436b6" stroke-width="1.60" />
<text x="325.90" y="296.60" stroke="#1a1a1a" stroke-width="0.18" font-size="6.20" fill="#1a1a1a" textLength="10.60" lengthAdjust="spacingAndGlyphs" >PLX</text>
<line x1="315.70" y1="303.00" x2="323.00" y2="303.00" stroke="#3fe82c" stroke-width="1.60" />
<text x="325.90" y="305.20" stroke="#1a1a1a" stroke-width="0.18" font-size="6.20" fill="#1a1a1a" textLength="44.00" lengthAdjust="spacingAndGlyphs" >PLX + Gilteritinib</text>
<text x="0" y="0" stroke="#1a1a1a" stroke-width="0.26" font-size="5.80" fill="#1a1a1a" textLength="18.20" lengthAdjust="spacingAndGlyphs" transform="translate(291.90 327.90) rotate(-90)" >Cell count,</text>
<text x="0" y="0" stroke="#1a1a1a" stroke-width="0.26" font-size="5.80" fill="#1a1a1a" textLength="54.00" lengthAdjust="spacingAndGlyphs" transform="translate(296.90 342.90) rotate(-90)" >fold change, DM SO 24h</text>
<text x="348.10" y="366.60" stroke="#111" stroke-width="0.08" font-size="7.00" fill="#111" textLength="17.60" lengthAdjust="spacingAndGlyphs" >Time, h</text>
<text x="436.00" y="272.00" stroke="#222" stroke-width="0.26" font-size="5.60" fill="#222" textLength="77.60" lengthAdjust="spacingAndGlyphs" >370 - <tspan font-style="italic">FLT3-ITD, IDH1, NPM1</tspan></text>
<line x1="450.30" y1="277.80" x2="450.30" y2="349.40" stroke="#000" stroke-width="1.20" />
<line x1="447.80" y1="278.30" x2="450.30" y2="278.30" stroke="#000" stroke-width="1.08" />
<text x="446.20" y="280.29" stroke="#222" stroke-width="0.26" text-anchor="end" font-size="5.60" fill="#222" >1.5</text>
<line x1="447.80" y1="301.83" x2="450.30" y2="301.83" stroke="#000" stroke-width="1.08" />
<text x="446.20" y="303.82" stroke="#222" stroke-width="0.26" text-anchor="end" font-size="5.60" fill="#222" >1.0</text>
<line x1="447.80" y1="325.37" x2="450.30" y2="325.37" stroke="#000" stroke-width="1.08" />
<text x="446.20" y="327.35" stroke="#222" stroke-width="0.26" text-anchor="end" font-size="5.60" fill="#222" >0.5</text>
<line x1="447.80" y1="348.90" x2="450.30" y2="348.90" stroke="#000" stroke-width="1.08" />
<text x="446.20" y="350.89" stroke="#222" stroke-width="0.26" text-anchor="end" font-size="5.60" fill="#222" >0.0</text>
<line x1="449.80" y1="348.90" x2="498.60" y2="348.90" stroke="#000" stroke-width="1.40" />
<text x="0" y="0" stroke="#222" stroke-width="0.26" font-size="5.40" fill="#222" textLength="9.50" lengthAdjust="spacingAndGlyphs" transform="translate(423.80 323.00) rotate(-90)" >RFU</text>
<text x="0" y="0" stroke="#222" stroke-width="0.26" font-size="5.40" fill="#222" textLength="40.60" lengthAdjust="spacingAndGlyphs" transform="translate(430.80 338.80) rotate(-90)" >Fold change, DMSO</text>
<rect x="453.40" y="301.83" width="5.30" height="47.07" fill="#cf1020" />
<line x1="456.05" y1="291.70" x2="456.05" y2="309.60" stroke="#000" stroke-width="0.90" />
<line x1="454.65" y1="291.70" x2="457.45" y2="291.70" stroke="#000" stroke-width="0.90" />
<circle cx="456.00" cy="291.70" r="1.90" fill="#111" />
<circle cx="456.00" cy="303.70" r="1.90" fill="#111" />
<circle cx="456.00" cy="309.60" r="1.90" fill="#111" />
<rect x="461.10" y="327.72" width="5.50" height="21.18" fill="#1034b8" />
<circle cx="462.80" cy="328.00" r="1.90" fill="#111" />
<circle cx="465.00" cy="327.80" r="1.90" fill="#111" />
<circle cx="463.90" cy="328.60" r="1.90" fill="#111" />
<rect x="468.20" y="326.78" width="5.50" height="22.12" fill="#5cf03c" />
<circle cx="469.90" cy="327.40" r="1.90" fill="#111" />
<circle cx="472.00" cy="327.20" r="1.90" fill="#111" />
<circle cx="471.00" cy="328.00" r="1.90" fill="#111" />
<rect x="475.40" y="344.19" width="5.50" height="4.71" fill="#1034b8" />
<circle cx="477.20" cy="343.20" r="1.90" fill="#111" />
<circle cx="479.20" cy="343.00" r="1.90" fill="#111" />
<circle cx="478.20" cy="344.20" r="1.90" fill="#111" />
<rect x="483.30" y="299.48" width="5.20" height="49.42" fill="#ff8a1c" />
<circle cx="485.90" cy="292.90" r="1.90" fill="#111" />
<circle cx="484.70" cy="298.20" r="1.90" fill="#111" />
<circle cx="487.20" cy="298.00" r="1.90" fill="#111" />
<rect x="490.90" y="326.31" width="5.30" height="22.59" fill="#1a6e22" />
<circle cx="492.60" cy="326.40" r="1.90" fill="#111" />
<circle cx="494.60" cy="326.60" r="1.90" fill="#111" />
<path d="M463.50,285.80 L463.50,284.20 L492.10,284.20 L492.10,285.80" fill="none" stroke="#000" stroke-width="1.05" />
<text x="477.80" y="281.07" stroke="#000" stroke-width="0.26" text-anchor="middle" font-size="5.20" >ns</text>
<path d="M463.50,313.50 L463.50,311.90 L477.80,311.90 L477.80,313.50" fill="none" stroke="#000" stroke-width="1.05" />
<text x="470.65" y="309.69" stroke="#000" stroke-width="0.26" text-anchor="middle" font-size="5.80" >***</text>
<text x="0" y="0" stroke="#222" stroke-width="0.26" text-anchor="end" font-size="6.00" fill="#222" textLength="20.70" lengthAdjust="spacingAndGlyphs" transform="translate(455.40 354.60) rotate(-45)" >DMSO</text>
<text x="0" y="0" stroke="#222" stroke-width="0.26" text-anchor="end" font-size="6.00" fill="#222" textLength="29.50" lengthAdjust="spacingAndGlyphs" transform="translate(461.80 355.00) rotate(-45)" >Gilteritinib</text>
<text x="0" y="0" stroke="#222" stroke-width="0.26" text-anchor="end" font-size="6.00" fill="#222" textLength="8.00" lengthAdjust="spacingAndGlyphs" transform="translate(468.20 355.00) rotate(-45)" >PLX</text>
<text x="0" y="0" stroke="#222" stroke-width="0.26" text-anchor="end" font-size="6.00" fill="#222" textLength="47.00" lengthAdjust="spacingAndGlyphs" transform="translate(478.40 355.00) rotate(-45)" >PLX + Gilteritinib</text>
<text x="0" y="0" stroke="#222" stroke-width="0.26" text-anchor="end" font-size="6.00" fill="#222" textLength="15.60" lengthAdjust="spacingAndGlyphs" transform="translate(487.40 355.00) rotate(-45)" >TasQ</text>
<text x="0" y="0" stroke="#222" stroke-width="0.26" text-anchor="end" font-size="6.00" fill="#222" textLength="49.50" lengthAdjust="spacingAndGlyphs" transform="translate(494.70 355.00) rotate(-45)" >TasQ + Gilteritinib</text>
</svg>
</body></html>
